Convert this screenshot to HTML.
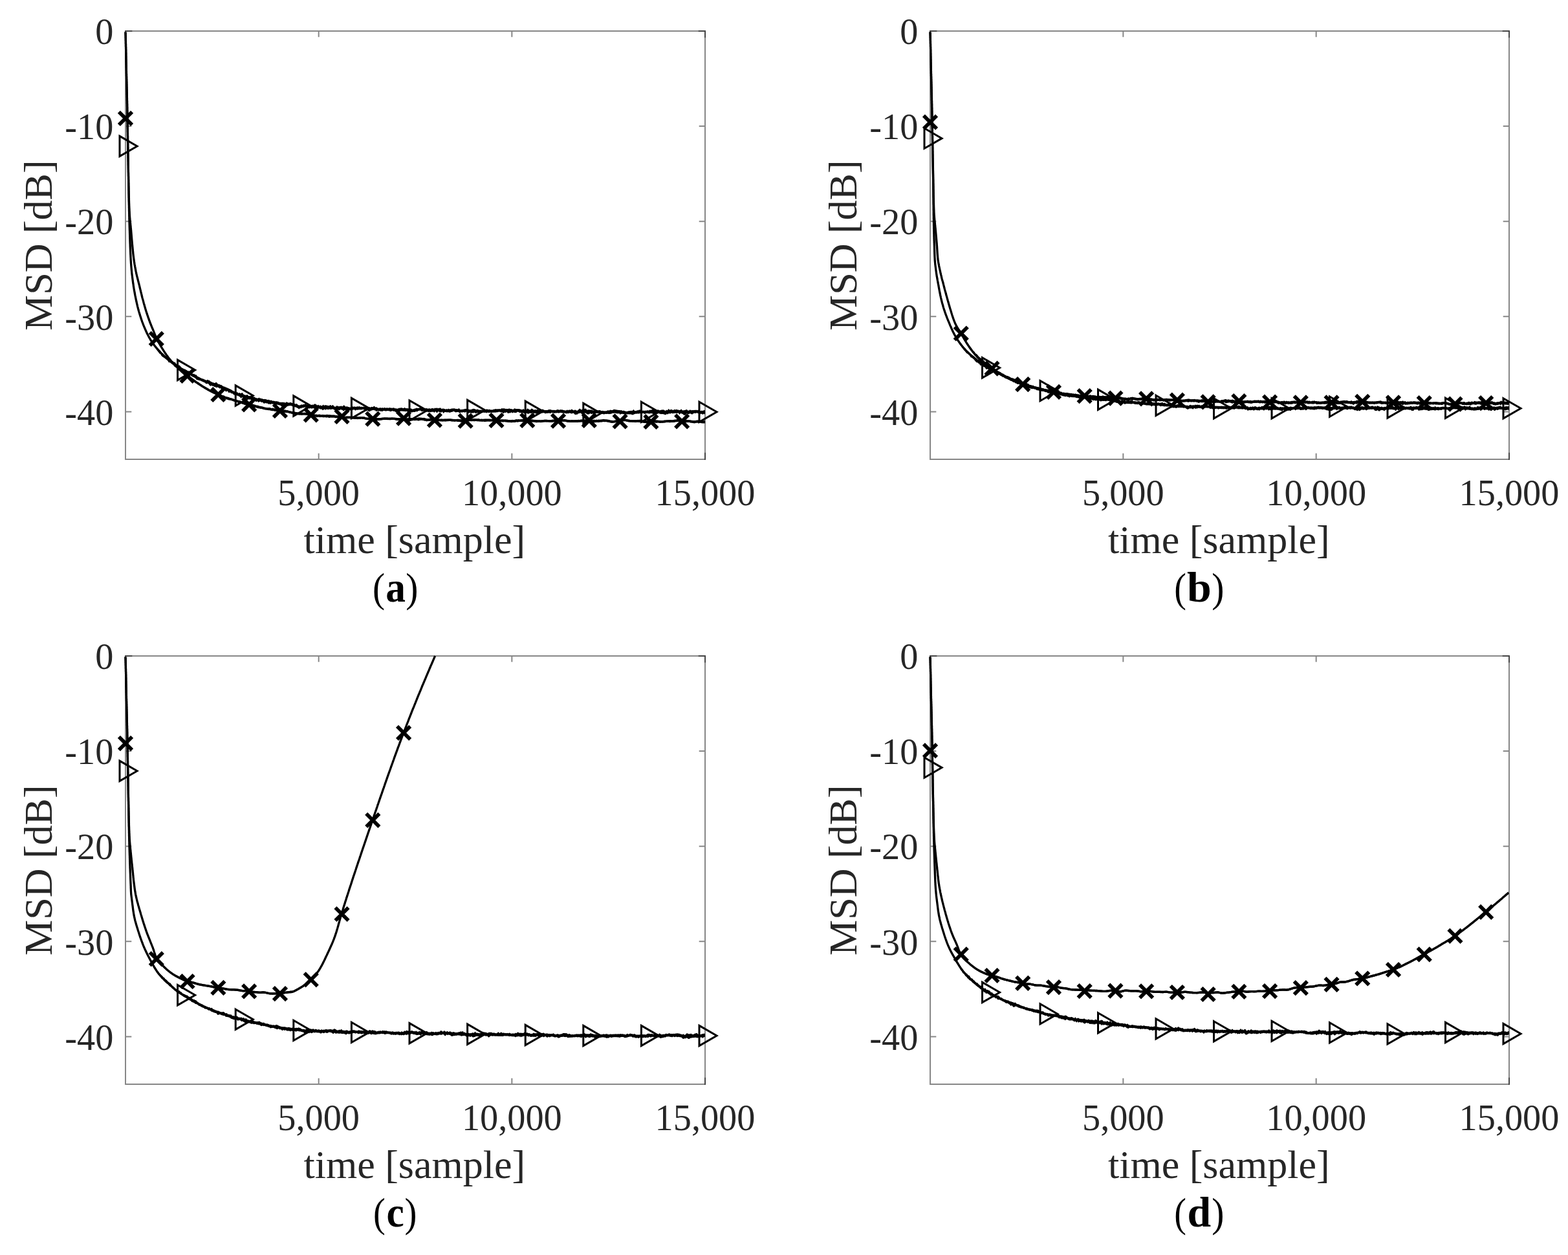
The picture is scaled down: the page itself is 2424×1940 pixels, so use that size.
<!DOCTYPE html>
<html lang="en">
<head>
<meta charset="utf-8">
<title>MSD learning curves (a)-(d)</title>
<style>
html,body{margin:0;padding:0;background:#fff}
body{width:2424px;height:1940px;overflow:hidden}
svg{display:block}
</style>
</head>
<body>
<svg xmlns="http://www.w3.org/2000/svg" width="2424" height="1940" viewBox="0 0 2424 1940">
<defs>
<path id="mx" d="M-10.1,-10.1L10.1,10.1M-10.1,10.1L10.1,-10.1" fill="none" stroke="#000" stroke-width="5.7"/>
<path id="mt" d="M-9,-15.6L18,0L-9,15.6Z" fill="none" stroke="#000" stroke-width="3" stroke-linejoin="miter" stroke-miterlimit="10"/>
</defs>
<rect width="2424" height="1940" fill="#fff"/>
<g class="plot-a">
<g fill="none" stroke="#878787" stroke-width="2" stroke-linecap="square">
<rect x="194" y="48" width="896" height="662"/>
</g>
<path d="M194,195.11h9.3M1090,195.11h-9.3M194,342.22h9.3M1090,342.22h-9.3M194,489.33h9.3M1090,489.33h-9.3M194,636.44h9.3M1090,636.44h-9.3M492.67,710v-9.3M492.67,48v9.3M791.33,710v-9.3M791.33,48v9.3" fill="none" stroke="#878787" stroke-width="2"/>
<path d="M194,48h9.3M1090,48h-9.3M1090,710v-9.3M1090,48v9.3" fill="none" stroke="#444444" stroke-width="2" stroke-linecap="square"/>
<g font-family="'Liberation Serif', 'Times New Roman', serif" font-size="56.3" fill="#262626">
<g text-anchor="end">
<text x="175.4" y="68.2">0</text>
<text x="175.4" y="215.31">-10</text>
<text x="175.4" y="362.42">-20</text>
<text x="175.4" y="509.53">-30</text>
<text x="175.4" y="656.64">-40</text>
</g>
<g text-anchor="middle">
<text x="492.67" y="780.6">5,000</text>
<text x="791.33" y="780.6">10,000</text>
<text x="1090" y="780.6">15,000</text>
</g>
</g>
<g font-family="'Liberation Serif', 'Times New Roman', serif" font-size="62" fill="#262626" text-anchor="middle">
<text x="640.8" y="854.5">time [sample]</text>
<text transform="translate(80,379.2) rotate(-90)">MSD [dB]</text>
</g>
<g font-family="'Liberation Serif', 'Times New Roman', serif" font-size="64" fill="#000">
<text transform="translate(575.98,929.71) scale(0.8943,0.9977)">(</text>
<text transform="translate(596.22,929.57) scale(0.9597,1.0112)" font-weight="bold">a</text>
<text transform="translate(627.24,929.71) scale(0.9004,0.9977)">)</text>
</g>
<g fill="none" stroke="#000" stroke-width="3.3" stroke-linejoin="round" stroke-linecap="butt">
<path d="M194,49.6l0,.8 0,.8 .1,.8 0,.8 0,.8 0,.8 .1,.8 0,.8 0,.8 0,.8 0,.8 .1,.8 0,.8 0,.8 0,.8 0,.8 .1,.8 0,.8 0,.8 0,.8 0,.8 0,.8 .1,.8 0,.8 0,.8 0,.8 0,.8 0,.8 .1,.8 0,.8 0,.8 0,.8 0,.8 .1,.8 0,.8 0,.8 0,.8 0,.8 0,.8 .1,.8 0,.8 0,.8 0,.8 0,.8 0,.8 0,.8 .1,.8 0,.8 0,.8 0,.8 0,.8 0,.8 .1,.8 0,.8 0,.8 0,.8 0,.8 0,.8 .1,.8 0,.8 0,.8 0,.8 0,.8 .1,.8 0,.8 0,.8 0,.8 0,.8 0,.8 .1,.8 0,.8 0,.8 0,.8 0,.8 .1,.8 0,.8 0,.8 0,.8 0,.8 0,.8 .1,.8 0,.8 0,.8 0,.8 0,.8 .1,.8 0,.8 0,.8 0,.8 0,.8 .1,.8 0,.8 0,.8 0,.8 0,.8 .1,.8 0,.8 0,.8 0,.8 0,.8 .1,.8 0,.8 0,.8 0,.8 0,.8 .1,.8 0,.8 0,.8 0,.8 0,.8 .1,.8 0,.8 0,.8 0,.8 0,.8 .1,.8 0,.8 0,.8 0,.8 0,.8 0,.8 .1,.8 0,.8 0,.8 0,.8 0,.8 .1,.8 0,.8 0,.8 0,.8 0,.8 0,.8 .1,.8 0,.8 0,.8 0,.8 0,.8 0,.8 .1,.8 0,.8 0,.8 0,.8 0,.8 0,.8 .1,.8 0,.8 0,.8 0,.8 0,.8 0,.8 0,.8 .1,.8 0,.8 0,.8 0,.8 0,.8 0,.8 .1,.8 0,.8 0,.8 0,.8 0,.8 0,.8 0,.8 .1,.8 0,.8 0,.8 0,.8 0,.8 0,.8 0,.8 .1,.8 0,.8 0,.8 0,.8 0,.8 0,.8 0,.8 .1,.8 0,.8 0,.8 0,.8 0,.8 0,.8 0,.8 0,.8 .1,.8 0,.8 0,.8 0,.8 0,.8 0,.8 0,.8 .1,.8 0,.8 0,.8 0,.8 0,.8 0,.8 0,.8 .1,.8 0,.8 0,.8 0,.8 0,.8 0,.8 0,.8 .1,.8 0,.8 0,.8 0,.8 0,.8 0,.8 0,.8 .1,.8 0,.8 0,.8 0,.8 0,.8 0,.8 0,.8 0,.8 .1,.8 0,.8 0,.8 0,.8 0,.8 0,.8 0,.8 .1,.8 0,.8 0,.8 0,.8 0,.8 0,.8 0,.8 .1,.8 0,.8 0,.8 0,.8 0,.8 0,.8 0,.8 .1,.8 0,.8 0,.8 0,.8 0,.8 0,.8 0,.8 0,.8 .1,.8 0,.8 0,.8 0,.8 0,.8 0,.8 0,.8 .1,.8 0,.8 0,.8 0,.8 0,.8 0,.8 0,.8 0,.8 .1,.8 0,.8 0,.8 0,.8 0,.8 0,.8 .1,.8 0,.8 0,.8 0,.8 0,.8 0,.8 0,.8 .1,.8 0,.8 0,.8 0,.8 0,.8 0,.8 .1,.8 0,.8 0,.8 0,.8 0,.8 .1,.8 0,.8 0,.8 0,.8 0,.8 0,.8 .1,.8 0,.8 0,.8 0,.8 0,.8 .1,.8 0,.8 0,.8 0,.8 0,.8 .1,.8 0,.8 0,.8 0,.8 0,.8 .1,.8 0,.8 0,.8 0,.8 0,.8 .1,.8 0,.8 0,.8 0,.8 .1,.8 0,.8 0,.8 0,.8 0,.8 .1,.8 0,.8 0,.8 0,.8 .1,.8 0,.8 0,.8 .1,.8 0,.8 0,.8 0,.8 .1,.8 0,.8 0,.8 .1,.8 0,.8 0,.8 .1,.8 0,.8 0,.8 .1,.7 0,.8 .1,.8 0,.8 0,.8 .1,.8 0,.8 .1,.8 0,.8 .1,.8 0,.8 .1,.8 .1,.8 0,.8 .1,.8 .1,.8 0,.8 .1,.8 .1,.8 .1,.8 0,.8 .1,.8 .1,.8 .1,.8 .1,.8 .1,.8 0,.8 .1,.8 .1,.8 .1,.8 .1,.8 0,.8 .1,.8 .1,.8 .1,.7 0,.8 .1,.8 .1,.8 .1,.8 0,.8 .1,.8 .1,.8 0,.8 .1,.8 .1,.8 0,.8 .1,.8 .1,.8 0,.8 .1,.8 .1,.8 0,.8 .1,.8 .1,.8 0,.8 .1,.8 .1,.8 0,.8 .1,.8 .1,.8 0,.8 .1,.8 .1,.8 .1,.8 0,.8 .1,.8 .1,.8 .1,.8 0,.7 .1,.8 .1,.8 .1,.8 0,.8 .1,.8 .1,.8 .1,.8 0,.8 .1,.8 .1,.8 .1,.8 .1,.8 0,.8 .1,.8 .1,.8 .1,.8 .1,.8 .1,.8 .1,.8 .1,.8 .1,.8 .1,.8 .1,.7 .1,.8 .1,.8 .1,.8 .1,.8 .1,.8 .1,.8 .1,.8 .1,.8 .2,.8 .1,.8 .1,.8 .1,.7 .2,.8 .1,.8 .1,.8 .2,.8 .1,.8 .2,.8 .1,.8 .2,.8 .1,.7 .2,.8 .1,.8 .2,.8 .1,.8 .2,.8 .1,.7 .2,.8 .2,.8 .1,.8 .2,.8 .2,.8 .2,.7 .1,.8 .2,.8 .2,.8 .2,.7 .2,.8 .2,.8 .2,.8 .2,.7 .2,.8 .2,.8 .2,.8 .2,.7 .2,.8 .2,.8 .2,.8 .2,.7 .2,.8 .2,.8 .2,.8 .2,.8 .2,.7 .2,.8 .2,.8 .1,.8 .2,.7 .2,.8 .2,.8 .2,.8 .2,.8 .2,.7 .1,.8 .2,.8 .2,.8 .2,.7 .2,.8 .2,.8 .2,.8 .2,.8 .2,.7 .2,.8 .1,.8 .2,.8 .2,.7 .2,.8 .2,.8 .2,.8 .2,.7 .3,.8 .2,.8 .2,.7 .2,.8 .2,.8 .2,.8 .2,.7 .2,.8 .2,.8 .2,.8 .2,.7 .2,.8 .3,.8 .2,.7 .2,.8 .2,.8 .2,.7 .3,.8 .2,.8 .2,.8 .2,.7 .3,.8 .2,.7 .2,.8 .3,.8 .2,.7 .3,.8 .2,.8 .2,.7 .3,.8 .2,.7 .3,.8 .2,.8 .3,.7 .3,.8 .2,.7 .3,.8 .2,.8 .3,.7 .3,.8 .2,.7 .3,.8 .3,.7 .2,.8 .3,.7 .3,.8 .3,.7 .2,.8 .3,.7 .3,.8 .3,.7 .3,.8 .3,.7 .3,.8 .3,.7 .3,.7 .3,.8 .3,.7 .3,.7 .3,.8 .3,.7 .4,.8 .3,.7 .3,.7 .3,.8 .3,.7 .3,.7 .3,.8 .3,.7 .3,.8 .3,.7 .3,.8 .3,.7 .3,.8 .3,.7 .3,.7 .3,.8 .3,.7 .3,.8 .3,.7 .4,.7 .3,.7 .3,.7 .4,.8 .4,.7 .3,.7 .4,.7 .4,.7 .3,.7 .4,.7 .4,.7 .4,.7 .4,.7 .4,.7 .4,.7 .4,.7 .4,.7 .4,.7 .4,.7 .4,.7 .4,.7 .4,.7 .5,.6 .4,.7 .4,.7 .4,.7 .5,.6 .4,.7 .4,.7 .5,.7 .4,.6 .4,.7 .5,.7 .4,.6 .5,.7 .4,.7 .5,.6 .4,.7 .5,.7 .4,.6 .5,.7 .5,.6 .5,.7 .4,.6 .5,.7 .5,.6 .5,.7 .5,.6 .5,.6 .5,.6 .5,.7 .5,.6 .5,.6 .5,.6 .5,.6 .5,.6 .6,.6 .5,.6 .5,.5 .6,.6 .5,.6 .6,.6 .5,.6 .6,.5 .5,.6 .6,.6 .6,.5 .6,.6 .5,.6 .6,.5 .6,.6 .6,.5 .6,.6 .6,.6 .6,.5 .6,.6 .6,.5 .6,.5 .6,.6 .6,.5 .6,.5 .6,.6 .6,.5 .6,.5 .6,.5 .7,.5 .6,.5 .6,.5 .6,.5 .7,.5 .6,.5 .6,.5 .6,.5 .7,.5 .6,.5 .6,.5 .7,.4 .6,.5 .6,.5 .7,.5 .6,.4 .6,.5 .7,.5 .6,.4 .7,.5 .6,.4 .7,.5 .6,.4 .7,.5 .6,.5 .7,.4 .7,.5 .6,.4 .7,.5 .6,.4 .7,.5 .7,.5 .6,.4 .7,.5 .7,.4 .7,.5 .6,.4 .7,.5 .7,.4 .7,.4 .6,.5 .7,.4 .7,.5 .7,.4 .7,.4 .7,.5 .6,.4 .7,.4 .7,.5 .7,.4 .7,.4 .7,.5 .7,.4 .7,.4 .7,.4 .7,.4 .7,.4 .7,.4 .7,.4 .7,.4 .7,.4 .7,.4 .7,.4 .7,.4 .7,.3 .7,.4 .8,.4 .7,.4 .7,.3 .7,.4 .7,.3 .7,.3 .7,.3 .7,.3 .8,.3 .7,.3 .7,.3 .7,.4 .7,.3 .8,.3 .7,.3 .7,.4 .7,.3 .8,.4 .7,.3 .7,.3 .7,.4 .8,.3 .7,.3 .8,.3 .7,.3 .7,.3 .8,.3 .7,.3 .8,.3 .7,.2 .8,.3 .7,.2 .8,.3 .7,.2 .8,.2 .7,.2 .8,.3 .8,.2 .7,.2 .8,.2 .7,.2 .8,.2 .8,.3 .7,.2 .8,.3 .8,.2 .7,.3 .8,.2 .8,.3 .7,.2 .8,.2 .8,.3 .8,.2 .7,.2 .8,.3 .8,.2 .8,.2 .7,.2 .8,.3 .8,.2 .8,.3 .7,.2 .8,.3 .8,.2 .8,.2 .7,.3 .8,.2 .8,.2 .8,.2 .7,.2 .8,.2 .8,.3 .8,.2 .7,.2 .8,.1 .8,.2 .8,.2 .7,.2 .8,.2 .8,.2 .8,.1 .7,.2 .8,.2 .8,.2 .8,.2 .7,.3 .8,.2 .8,.2 .8,.3 .8,.3 .7,.2 .8,.2 .8,.2 .8,.2 .8,.2 .7,.1 .8,.2 .8,.1 .8,.2 .8,.1 .8,.2 .7,.2 .8,.1 .8,.2 .8,.2 .8,.2 .8,.3 .8,.2 .7,.1 .8,.2 .8,.1 .8,.1 .8,.1 .8,.1 .8,.1 .7,.1 .8,0 .8,.1 .8,.1 .8,.1 .8,.1 .8,.1 .8,.1 .8,.1 .7,.2 .8,.1 .8,.1 .8,.1 .8,.2 .8,.1 .8,.1 .8,.2 .8,.1 .7,.2 .8,.1 .8,.1 .8,.1 .8,.1 .8,.1 .8,.2 .8,.1 .8,.1 .7,.1 .8,.1 .8,.1 .8,.1 .8,0 .8,.1 .8,0 .8,.1 .8,.1 .8,.1 .7,.1 .8,.2 .8,.1 .8,.2 .8,.2 .8,.3 .8,.2 .8,.2 .8,.2 .8,.1 .8,.1 .8,.1 .8,.1 .7,.2 .8,.1 .8,.1 .8,.2 .8,.1 .8,.2 .8,.2 .8,.1 .8,.1 .8,.1 .8,.1 .8,0 .8,0 .8,0 .8,0 .8,-.1 .7,0 .8,0 .8,.1 .8,0 .8,.1 .8,0 .8,0 .8,.1 .8,0 .8,.1 .8,.1 .8,0 .8,.1 .8,.1 .8,.2 .8,.1 .8,.2 .8,.2 .8,.3 .8,.2 .8,.2 .8,.3 .7,.1 .8,.2 .8,.1 .8,.1 .8,.1 .8,.1 .8,0 .8,.1 .8,0 .8,0 .8,-.1 .8,.1 .8,0 .8,0 .8,0 .8,.1 .8,0 .8,.1 .8,0 .8,.1 .8,0 .8,0 .8,.1 .8,0 .8,.1 .8,0 .8,.1 .8,.1 .8,0 .8,0 .8,0 .8,0 .8,0 .8,0 .8,0 .8,.1 .8,0 .8,0 .8,.1 .8,0 .8,.1 .8,.1 .8,0 .8,.1 .8,.1 .8,.1 .8,.1 .8,0 .8,.1 .8,.1 .8,.2 .8,.1 .8,.2 .8,.2 .8,.1 .8,.2 .8,.1 .8,.1 .8,0 .8,.1 .8,-.1 .8,0 .8,0 .8,-.1 .7,-.1 .8,0 .8,0 .8,-.1 .8,0 .8,0 .8,0 .8,.1 .8,0 .8,0 .8,.1 .8,0 .8,.1 .8,.1 .8,.1 .8,0 .8,.1 .8,.1 .8,0 .8,.1 .8,0 .8,0 .8,0 .8,0 .8,-.1 .8,-.1 .8,0 .8,-.1 .8,-.1 .8,0 .8,0 .8,.1 .8,.1 .8,.1 .8,.2 .8,.2 .8,.2 .8,.2 .8,.2 .8,.2 .8,.1 .8,.1 .8,0 .8,0 .8,0 .8,-.1 .8,0 .8,-.1 .8,-.1 .8,0 .8,0 .8,.1 .8,.1 .8,.1 .8,.1 .8,.1 .8,.1 .8,.2 .8,.1 .8,.1 .8,0 .8,0 .8,0 .8,0 .8,-.1 .8,-.1 .8,-.1 .8,-.1 .8,-.1 .8,-.1 .8,-.1 .8,-.1 .8,-.1 .8,-.1 .8,0 .8,0 .8,0 .8,.1 .8,0 .8,.1 .8,0 .8,0 .8,.1 .8,0 .8,0 .8,-.1 .8,0 .8,0 .8,0 .8,-.1 .8,0 .8,.1 .8,0 .8,.1 .8,.1 .8,.1 .8,.1 .8,.1 .8,0 .8,.1 .8,.1 .8,.1 .8,0 .8,0 .8,0 .8,0 .8,0 .8,0 .8,0 .8,0 .8,0 .8,0 .8,0 .8,.1 .8,0 .8,.1 .8,0 .8,.1 .8,0 .8,.1 .8,0 .8,0 .8,0 .8,0 .8,0 .8,-.1 .8,0 .8,-.1 .8,-.1 .8,-.1 .8,0 .8,-.1 .8,0 .8,-.1 .8,0 .8,0 .8,0 .8,0 .8,0 .8,0 .8,-.1 .8,0 .8,0 .8,0 .8,0 .8,0 .8,0 .8,.1 .8,0 .8,.2 .8,.1 .8,.1 .8,.2 .8,.2 .8,.1 .8,.1 .8,.1 .8,0 .8,0 .8,0 .8,-.1 .8,0 .8,-.1 .8,-.2 .8,-.1 .8,0 .8,-.1 .8,0 .8,0 .8,0 .8,0 .8,.1 .8,.1 .8,.1 .8,.1 .8,.1 .8,.1 .8,.2 .8,.1 .8,.1 .8,0 .8,.1 .8,0 .8,0 .8,0 .8,0 .8,0 .8,0 .8,0 .8,0 .8,0 .8,0 .8,-.1 .8,0 .8,0 .8,-.1 .8,-.1 .8,0 .8,-.1 .8,0 .8,.1 .8,0 .8,.1 .8,.1 .8,.1 .8,.1 .8,0 .8,.1 .8,0 .8,.1 .8,0 .8,-.1 .8,0 .8,0 .8,0 .8,0 .8,0 .8,.1 .8,.1 .8,.1 .8,.1 .8,.2 .8,.1 .8,.1 .8,.1 .8,.1 .8,0 .8,0 .8,0 .8,-.1 .8,-.2 .8,-.2 .8,-.2 .8,-.1 .8,-.2 .8,-.1 .8,-.1 .8,-.1 .8,-.1 .8,0 .8,0 .8,0 .8,0 .8,0 .8,0 .8,0 .8,-.1 .8,0 .8,0 .8,0 .8,-.1 .8,.1 .8,0 .8,0 .8,.1 .8,0 .8,.1 .8,.1 .8,.1 .8,.1 .8,0 .8,.1 .8,0 .8,0 .8,-.1 .8,0 .8,0 .8,-.1 .8,0 .8,-.1 .8,0 .8,0 .8,0 .8,0 .8,0 .8,0 .8,0 .8,.1 .8,0 .8,0 .8,0 .8,0 .8,0 .8,.1 .8,0 .8,.1 .8,0 .8,.1 .8,.1 .8,.1 .8,0 .8,.1 .8,.1 .8,0 .8,.1 .8,0 .8,0 .8,0 .8,0 .8,0 .8,0 .8,-.1 .8,0 .8,0 .8,0 .8,0 .8,0 .8,.1 .8,.1 .8,.1 .8,0 .8,.1 .8,.1 .8,0 .8,.1 .8,.1 .8,0 .8,.1 .8,0 .8,0 .8,-.1 .8,0 .8,0 .8,-.1 .8,-.1 .8,-.1 .8,-.1 .8,-.1 .8,-.1 .8,0 .8,-.1 .8,0 .8,0 .8,0 .8,0 .8,-.1 .8,0 .8,-.1 .8,0 .8,-.1 .8,-.1 .8,0 .8,-.1 .8,0 .8,0 .8,0 .8,.1 .8,.1 .8,.1 .8,.1 .8,.1 .8,.1 .8,.1 .8,.1 .8,0 .8,0 .8,0 .8,0 .8,0 .8,0 .8,0 .8,0 .8,.1 .8,0 .8,.1 .8,.1 .8,.1 .8,0 .8,.1 .8,0 .8,.1 .8,0 .8,0 .8,0 .8,0 .8,0 .8,0 .8,-.1 .8,-.1 .8,-.1 .8,-.1 .8,-.1 .8,0 .8,-.1 .8,0 .8,-.1 .8,0 .8,.1 .8,0 .8,.1 .8,0 .8,.1 .8,0 .8,.1 .8,0 .8,0 .8,0 .8,-.1 .8,0 .8,-.1 .8,-.1 .8,-.1 .8,-.1 .8,0 .8,-.1 .8,0 .8,-.1 .8,0 .8,0 .8,0 .8,0 .8,-.1 .8,0 .8,0 .8,0 .8,-.1 .8,-.1 .8,0 .8,-.1 .8,0 .8,0 .8,.1 .8,.1 .8,.1 .8,.1 .8,.1 .8,.2 .8,.1 .8,.2 .8,.1 .8,.1 .8,.1 .8,0 .8,.1 .8,0 .8,0 .8,-.1 .8,0 .8,0 .8,-.1 .8,0 .8,0 .8,0 .8,0 .8,0 .8,0 .8,0 .8,0 .8,-.1 .8,0 .8,-.1 .8,-.1 .8,-.1 .8,-.1 .8,-.1 .8,-.1 .8,0 .8,-.1 .8,0 .8,.1 .8,0 .8,.1 .8,0 .8,.1 .8,.1 .8,.1 .8,.2 .8,.1 .8,.1 .8,.1 .8,0 .8,.1 .8,0 .8,0 .8,-.1 .8,0 .8,-.1 .8,-.1 .8,-.1 .8,0 .8,0 .8,0 .8,0 .8,0 .8,-.1 .8,0 .8,0 .8,0 .8,0 .8,-.1 .8,0 .8,-.1 .8,-.1 .8,-.1 .8,-.1 .8,0 .8,-.1 .8,0 .8,0 .8,0 .8,0 .8,0 .8,.1 .8,.1 .8,.1 .8,.1 .8,.1 .8,.2 .8,.2 .8,.2 .8,.1 .8,.2 .8,.1 .8,.1 .8,0 .8,0 .8,0 .8,-.1 .8,-.1 .8,-.1 .8,-.1 .8,-.1 .8,-.2 .8,-.1 .8,-.1 .8,-.1 .8,-.1 .8,-.1 .8,-.1 .8,-.2 .8,-.2 .8,-.1 .8,-.2 .8,-.1 .8,-.2 .8,-.1 .8,-.1 .8,0 .8,0 .8,.1 .8,.1 .8,.2 .8,.2 .8,.2 .8,.2 .8,.1 .8,.2 .8,.1 .8,0 .8,.1 .8,0 .8,0 .8,0 .8,0 .8,0 .8,.1 .8,0 .8,0 .8,0 .8,0 .8,0 .8,-.1 .8,0 .8,0 .8,0 .8,0 .8,0 .8,0 .8,0 .8,.2 .8,.1 .8,.2 .8,.2 .8,.2 .8,.1 .8,.2 .8,.1 .8,.1 .8,.1 .8,.1 .8,0 .8,0 .8,0 .8,0 .8,-.1 .8,-.1 .8,-.1 .8,-.1 .8,-.1 .8,-.1 .8,-.1 .8,-.1 .8,-.1 .8,0 .8,-.1 .8,0 .8,0 .8,0 .8,0 .8,0 .8,.1 .8,0 .8,.1 .8,0 .8,.1 .8,.1 .8,0 .8,.1 .8,0 .8,0 .8,0 .8,0 .8,-.1 .8,-.1 .8,-.1 .8,-.1 .8,-.1 .8,-.1 .8,-.1 .8,0 .8,-.1 .8,0 .8,0 .8,0 .8,0 .8,0 .8,0 .8,0 .8,0 .8,0 .8,0 .8,-.1 .8,-.1 .8,-.1 .8,-.1 .8,-.1 .8,-.1 .8,-.1 .8,-.1 .8,-.1 .8,-.1 .8,0 .8,0 .8,0 .8,0 .8,.1 .8,.1 .8,.1 .8,.1 .8,.1 .8,.2 .8,.1 .8,.1 .8,.1 .8,.1 .8,0 .8,0 .8,0 .8,0 .8,0 .8,-.1 .8,0 .8,.1 .8,0 .8,.2 .8,.1 .8,.1 .8,.2 .8,.1 .8,.1 .8,.1 .8,0 .8,0 .8,-.1 .8,-.1 .8,-.1 .8,-.1 .8,-.1 .8,0 .8,-.1 .8,0 .8,.1 .8,.1 .8,.1 .8,.1 .8,.1 .8,.2 .8,.1 .8,0 .8,0 .8,0 .8,0 .8,-.1 .8,-.1"/>
<path d="M194,49.6l0,.8 0,.8 .1,.8 0,.8 0,.8 0,.8 .1,.8 0,.8 0,.8 0,.8 0,.8 .1,.8 0,.8 0,.8 0,.8 0,.8 .1,.8 0,.8 0,.8 0,.8 0,.8 0,.8 .1,.8 0,.8 0,.8 0,.8 0,.8 0,.8 .1,.8 0,.8 0,.8 0,.8 0,.8 .1,.8 0,.8 0,.8 0,.8 0,.8 0,.8 .1,.8 0,.8 0,.8 0,.8 0,.8 0,.8 0,.8 .1,.8 0,.8 0,.8 0,.8 0,.8 0,.8 .1,.8 0,.8 0,.8 0,.8 0,.8 0,.8 .1,.8 0,.8 0,.8 0,.8 0,.8 .1,.8 0,.8 0,.8 0,.8 0,.8 0,.8 .1,.8 0,.8 0,.8 0,.8 0,.8 .1,.8 0,.8 0,.8 0,.8 0,.8 0,.8 .1,.8 0,.8 0,.8 0,.8 0,.8 .1,.8 0,.8 0,.8 0,.8 0,.8 .1,.8 0,.8 0,.8 0,.8 0,.8 .1,.8 0,.8 0,.8 0,.8 0,.8 .1,.8 0,.8 0,.8 0,.8 0,.8 .1,.8 0,.8 0,.8 0,.8 0,.8 .1,.8 0,.8 0,.8 0,.8 0,.8 .1,.8 0,.8 0,.8 0,.8 0,.8 0,.8 .1,.8 0,.8 0,.8 0,.8 0,.8 .1,.8 0,.8 0,.8 0,.8 0,.8 0,.8 .1,.8 0,.8 0,.8 0,.8 0,.8 0,.8 .1,.8 0,.8 0,.8 0,.8 0,.8 0,.8 .1,.8 0,.8 0,.8 0,.8 0,.8 0,.8 0,.8 .1,.8 0,.8 0,.8 0,.8 0,.8 0,.8 .1,.8 0,.8 0,.8 0,.8 0,.8 0,.8 0,.8 .1,.8 0,.8 0,.8 0,.8 0,.8 0,.8 0,.8 .1,.8 0,.8 0,.8 0,.8 0,.8 0,.8 0,.8 .1,.8 0,.8 0,.8 0,.8 0,.8 0,.8 0,.8 0,.8 .1,.8 0,.8 0,.8 0,.8 0,.8 0,.8 0,.8 .1,.8 0,.8 0,.8 0,.8 0,.8 0,.8 0,.8 .1,.8 0,.8 0,.8 0,.8 0,.8 0,.8 0,.8 .1,.8 0,.8 0,.8 0,.8 0,.8 0,.8 0,.8 .1,.8 0,.8 0,.8 0,.8 0,.8 0,.8 0,.8 0,.8 .1,.8 0,.8 0,.8 0,.8 0,.8 0,.8 .1,.8 0,.8 0,.8 0,.8 0,.8 0,.8 0,.8 .1,.8 0,.8 0,.8 0,.8 0,.8 0,.8 0,.8 .1,.8 0,.8 0,.8 0,.8 0,.8 0,.8 0,.8 .1,.8 0,.8 0,.8 0,.8 0,.8 0,.8 0,.8 .1,.8 0,.8 0,.8 0,.8 0,.8 0,.8 0,.8 .1,.8 0,.8 0,.8 0,.8 0,.8 0,.8 0,.8 .1,.8 0,.8 0,.8 0,.8 0,.8 0,.8 0,.8 .1,.8 0,.8 0,.8 0,.8 0,.8 0,.8 0,.8 .1,.8 0,.8 0,.8 0,.8 0,.8 0,.8 0,.8 .1,.8 0,.8 0,.8 0,.8 0,.8 0,.8 0,.8 .1,.8 0,.8 0,.8 0,.8 0,.8 0,.8 0,.8 0,.8 .1,.8 0,.8 0,.8 0,.8 0,.8 0,.8 0,.8 .1,.8 0,.8 0,.8 0,.8 0,.8 0,.8 0,.8 .1,.8 0,.8 0,.8 0,.8 0,.8 0,.8 0,.8 .1,.8 0,.8 0,.8 0,.8 0,.8 0,.8 0,.8 .1,.8 0,.8 0,.8 0,.8 0,.8 0,.8 .1,.8 0,.8 0,.8 0,.8 0,.8 0,.8 .1,.8 0,.8 0,.8 0,.8 0,.8 .1,.8 0,.8 0,.8 0,.8 0,.8 .1,.8 0,.8 0,.8 0,.8 0,.8 .1,.8 0,.8 0,.8 0,.8 .1,.8 0,.8 0,.8 0,.8 .1,.8 0,.8 0,.8 0,.8 .1,.8 0,.8 0,.8 0,.8 .1,.8 0,.8 0,.8 0,.8 .1,.8 0,.8 0,.8 .1,.8 0,.8 0,.8 0,.8 .1,.8 0,.8 0,.8 0,.8 .1,.8 0,.8 0,.8 0,.8 .1,.8 0,.8 0,.8 0,.8 .1,.8 0,.8 0,.8 0,.8 .1,.8 0,.8 0,.8 .1,.8 0,.8 0,.8 .1,.8 0,.8 0,.8 0,.8 .1,.8 0,.8 0,.8 .1,.8 0,.8 0,.8 .1,.8 0,.8 0,.8 .1,.8 0,.8 0,.8 .1,.8 0,.8 0,.8 .1,.8 0,.8 .1,.8 0,.8 0,.8 .1,.8 0,.8 .1,.8 0,.8 0,.8 .1,.8 0,.8 .1,.8 0,.8 .1,.8 0,.8 .1,.8 0,.8 .1,.8 .1,.8 0,.8 .1,.8 0,.8 .1,.8 .1,.8 0,.8 .1,.8 .1,.8 0,.8 .1,.8 .1,.7 0,.8 .1,.8 .1,.8 .1,.8 0,.8 .1,.8 .1,.8 .1,.8 .1,.8 .1,.8 .1,.8 .1,.8 .1,.8 .1,.8 .1,.8 .1,.8 .1,.8 .1,.8 .1,.8 .1,.7 .1,.8 .1,.8 .1,.8 .1,.8 .1,.8 .1,.8 .2,.8 .1,.8 .1,.8 .1,.8 .1,.8 .1,.8 .2,.7 .1,.8 .1,.8 .2,.8 .1,.8 .1,.8 .1,.8 .2,.8 .1,.8 .2,.7 .1,.8 .1,.8 .2,.8 .1,.8 .2,.8 .1,.8 .2,.8 .1,.7 .2,.8 .1,.8 .2,.8 .2,.8 .1,.8 .2,.7 .1,.8 .2,.8 .2,.8 .1,.8 .2,.8 .2,.7 .2,.8 .1,.8 .2,.8 .2,.8 .2,.8 .2,.7 .1,.8 .2,.8 .2,.8 .2,.7 .2,.8 .2,.8 .2,.8 .2,.7 .2,.8 .2,.8 .2,.8 .2,.7 .3,.8 .2,.8 .2,.7 .2,.8 .3,.8 .2,.7 .2,.8 .3,.8 .2,.7 .2,.8 .3,.8 .2,.7 .3,.8 .2,.7 .3,.8 .2,.8 .3,.7 .3,.8 .2,.7 .3,.8 .3,.8 .2,.7 .3,.8 .3,.7 .3,.8 .3,.7 .2,.8 .3,.7 .3,.7 .3,.8 .3,.7 .3,.8 .3,.7 .3,.7 .3,.8 .3,.7 .3,.8 .4,.7 .3,.7 .3,.8 .3,.7 .4,.7 .3,.8 .3,.7 .4,.7 .3,.8 .4,.7 .3,.7 .4,.7 .4,.7 .3,.7 .4,.7 .4,.8 .4,.7 .3,.7 .4,.6 .4,.7 .4,.7 .4,.7 .4,.7 .4,.7 .5,.6 .4,.7 .4,.7 .5,.6 .4,.7 .5,.7 .4,.6 .5,.7 .5,.7 .4,.6 .5,.7 .5,.6 .5,.7 .5,.6 .5,.6 .5,.7 .5,.6 .5,.6 .5,.6 .5,.7 .5,.6 .5,.6 .5,.6 .6,.6 .5,.6 .5,.6 .6,.6 .5,.6 .5,.5 .6,.6 .5,.6 .6,.5 .5,.6 .6,.6 .6,.5 .6,.6 .5,.5 .6,.6 .6,.5 .6,.6 .6,.5 .6,.6 .6,.5 .6,.6 .6,.5 .6,.5 .6,.5 .7,.6 .6,.5 .6,.5 .6,.5 .6,.5 .6,.5 .7,.5 .6,.5 .6,.5 .6,.5 .7,.5 .6,.5 .7,.5 .6,.4 .6,.5 .7,.5 .7,.4 .6,.5 .7,.5 .6,.4 .7,.5 .7,.4 .6,.5 .7,.4 .7,.5 .6,.4 .7,.5 .7,.4 .6,.5 .7,.4 .7,.5 .7,.4 .6,.4 .7,.5 .7,.4 .7,.4 .7,.4 .7,.4 .7,.3 .6,.4 .7,.4 .7,.3 .7,.4 .7,.4 .7,.3 .7,.4 .7,.4 .7,.4 .7,.4 .7,.4 .7,.4 .7,.4 .7,.4 .7,.4 .7,.4 .7,.4 .7,.4 .7,.4 .7,.4 .7,.4 .7,.4 .7,.4 .7,.4 .8,.4 .7,.4 .7,.4 .7,.3 .7,.4 .7,.4 .7,.4 .7,.3 .8,.4 .7,.4 .7,.3 .7,.4 .7,.3 .8,.4 .7,.3 .7,.4 .7,.3 .8,.3 .7,.3 .7,.3 .7,.3 .8,.3 .7,.3 .7,.2 .8,.3 .7,.2 .8,.2 .7,.3 .7,.3 .8,.2 .8,.3 .7,.3 .8,.3 .7,.3 .8,.3 .8,.3 .7,.3 .8,.3 .7,.3 .8,.2 .8,.3 .7,.3 .8,.3 .8,.2 .7,.3 .8,.2 .8,.2 .7,.2 .8,.2 .7,.3 .8,.2 .8,.2 .7,.2 .8,.3 .7,.3 .7,.3 .8,.3 .7,.3 .8,.3 .7,.3 .7,.3 .8,.4 .7,.3 .7,.3 .8,.3 .7,.4 .7,.3 .7,.4 .8,.3 .7,.4 .7,.3 .8,.4 .7,.3 .7,.4 .7,.3 .8,.3 .7,.4 .7,.3 .7,.4 .8,.3 .7,.3 .7,.3 .8,.4 .7,.3 .7,.3 .8,.4 .7,.3 .7,.3 .8,.3 .7,.3 .7,.3 .8,.3 .7,.2 .8,.3 .7,.3 .8,.2 .7,.2 .8,.3 .7,.2 .8,.2 .8,.2 .7,.2 .8,.3 .7,.1 .8,.2 .8,.2 .7,.2 .8,.2 .8,.2 .8,.2 .7,.3 .8,.2 .8,.2 .8,.2 .7,.3 .8,.2 .8,.2 .8,.1 .8,.2 .7,.2 .8,.1 .8,.2 .8,.2 .8,.2 .8,.3 .7,.2 .8,.3 .8,.2 .8,.3 .8,.2 .8,.2 .8,.2 .8,.1 .7,.1 .8,.1 .8,0 .8,.1 .8,0 .8,.1 .8,.1 .8,.1 .8,.1 .8,.2 .7,.2 .8,.2 .8,.2 .8,.2 .8,.2 .8,.2 .8,.3 .8,.2 .7,.2 .8,.2 .8,.2 .8,.1 .8,.1 .8,.1 .8,.1 .8,.1 .8,0 .7,0 .8,.1 .8,0 .8,.1 .8,.1 .8,.1 .8,.2 .8,.1 .8,.2 .7,.2 .8,.2 .8,.2 .8,.2 .8,.1 .8,.2 .8,.1 .8,.2 .8,.1 .8,.1 .8,.1 .8,.1 .7,0 .8,.1 .8,0 .8,0 .8,0 .8,0 .8,0 .8,-.1 .8,0 .8,.1 .8,0 .8,0 .8,0 .8,.1 .8,0 .8,.1 .7,.1 .8,.1 .8,.2 .8,.2 .8,.3 .8,.2 .8,.3 .8,.3 .8,.4 .8,.3 .8,.3 .8,.3 .8,.3 .8,.2 .8,.1 .8,.1 .8,0 .8,-.1 .8,-.1 .8,-.2 .7,-.2 .8,-.2 .8,-.3 .8,-.1 .8,-.2 .8,-.1 .8,0 .8,.1 .8,.1 .8,.2 .8,.1 .8,.3 .8,.2 .8,.2 .8,.2 .8,.1 .8,.1 .8,.1 .8,0 .8,0 .8,0 .8,0 .8,0 .8,-.1 .8,0 .8,0 .8,-.1 .8,0 .8,0 .8,0 .8,.1 .8,.1 .8,.2 .8,.1 .8,.2 .8,.1 .8,.2 .8,.2 .8,.1 .8,0 .8,0 .8,0 .8,-.1 .8,0 .8,-.1 .8,-.1 .8,0 .8,0 .8,0 .8,0 .8,.1 .8,0 .8,0 .8,0 .8,0 .8,0 .8,.1 .8,0 .8,.1 .8,.1 .8,.1 .8,.2 .8,.2 .8,.2 .8,.1 .8,.1 .8,0 .8,0 .8,0 .8,-.1 .8,-.1 .8,-.2 .8,-.1 .8,-.1 .8,0 .8,0 .8,0 .8,.1 .8,.1 .8,.1 .8,.2 .8,.1 .8,.2 .8,.1 .8,.2 .8,.1 .8,.2 .8,.1 .8,.1 .8,.1 .8,.1 .8,0 .8,0 .8,-.1 .8,-.1 .8,-.2 .8,-.1 .8,-.2 .8,-.2 .8,-.1 .8,-.1 .8,0 .8,-.1 .8,0 .8,0 .8,0 .8,.1 .8,0 .8,.1 .8,0 .8,.1 .8,0 .8,0 .8,-.1 .8,0 .8,-.1 .8,-.1 .8,0 .8,0 .8,0 .8,0 .8,0 .8,.1 .8,.1 .8,.1 .8,.1 .8,.2 .8,.1 .8,.1 .8,.1 .8,0 .8,0 .8,0 .8,-.1 .8,-.1 .8,-.1 .8,0 .8,-.1 .8,0 .8,0 .8,.1 .8,.1 .8,.1 .8,.2 .8,.2 .8,.2 .8,.2 .8,.1 .8,.1 .8,.1 .8,0 .8,.1 .8,0 .8,-.1 .8,0 .8,0 .8,-.1 .8,0 .8,-.1 .8,0 .8,.1 .8,0 .8,0 .8,.1 .8,0 .8,0 .8,0 .8,-.1 .8,0 .8,0 .8,0 .8,0 .8,0 .8,0 .8,.1 .8,.1 .8,.1 .8,.2 .8,.1 .8,.2 .8,.2 .8,.1 .8,.1 .8,.1 .8,-.1 .8,0 .8,-.2 .8,-.1 .8,-.2 .8,-.2 .8,-.1 .8,-.1 .8,-.1 .8,0 .8,.1 .8,0 .8,.1 .8,.1 .8,.1 .8,0 .8,.1 .8,.1 .8,0 .8,.1 .8,0 .8,.1 .8,.1 .8,.1 .8,.1 .8,.1 .8,.1 .8,.1 .8,.1 .8,.1 .8,.1 .8,0 .8,0 .8,-.1 .8,-.1 .8,-.2 .8,-.2 .8,-.2 .8,-.2 .8,-.3 .8,-.2 .8,-.3 .8,-.1 .8,-.1 .8,-.1 .8,0 .8,.1 .8,.1 .8,.1 .8,.2 .8,.2 .8,.1 .8,.2 .8,.1 .8,.1 .8,.1 .8,.1 .8,.1 .8,.1 .8,0 .8,.1 .8,.1 .8,0 .8,0 .8,0 .8,0 .8,0 .8,-.1 .8,0 .8,-.1 .8,-.1 .8,-.1 .8,-.1 .8,0 .8,-.1 .8,0 .8,-.1 .8,0 .8,0 .8,0 .8,.1 .8,0 .8,0 .8,.1 .8,.1 .8,.1 .8,.1 .8,0 .8,.1 .8,.1 .8,.1 .8,.1 .8,.1 .8,.1 .8,.1 .8,.1 .8,0 .8,0 .8,0 .8,-.1 .8,0 .8,-.1 .8,-.1 .8,-.2 .8,-.2 .8,-.2 .8,-.2 .8,-.1 .8,-.1 .8,0 .8,0 .8,0 .8,.1 .8,.2 .8,.1 .8,.2 .8,.1 .8,.2 .8,.2 .8,.2 .8,.1 .8,.2 .8,0 .8,0 .8,0 .8,0 .8,-.1 .8,-.1 .8,-.2 .8,-.2 .8,-.1 .8,-.1 .8,-.1 .8,0 .8,0 .8,.1 .8,.1 .8,.2 .8,.2 .8,.2 .8,.2 .8,.1 .8,.1 .8,.1 .8,.1 .8,0 .8,0 .8,0 .8,-.1 .8,0 .8,0 .8,0 .8,0 .8,.1 .8,0 .8,0 .8,.1 .8,0 .8,0 .8,0 .8,0 .8,-.1 .8,0 .8,-.1 .8,0 .8,-.1 .8,-.1 .8,0 .8,-.1 .8,0 .8,0 .8,-.1 .8,0 .8,.1 .8,0 .8,0 .8,0 .8,.1 .8,0 .8,.1 .8,0 .8,0 .8,0 .8,0 .8,0 .8,0 .8,0 .8,-.1 .8,0 .8,-.1 .8,-.1 .8,-.1 .8,-.1 .8,-.2 .8,-.1 .8,-.1 .8,-.1 .8,0 .8,-.1 .8,0 .8,.1 .8,0 .8,.1 .8,.1 .8,0 .8,.1 .8,0 .8,0 .8,0 .8,0 .8,-.1 .8,0 .8,-.1 .8,0 .8,0 .8,0 .8,.1 .8,0 .8,.1 .8,.1 .8,.1 .8,.1 .8,0 .8,0 .8,-.1 .8,-.1 .8,-.1 .8,-.1 .8,-.1 .8,-.1 .8,-.1 .8,0 .8,0 .8,0 .8,.1 .8,.1 .8,.1 .8,.2 .8,.2 .8,.2 .8,.2 .8,.1 .8,.1 .8,.1 .8,0 .8,0 .8,0 .8,0 .8,0 .8,.1 .8,0 .8,0 .8,0 .8,0 .8,0 .8,-.1 .8,0 .8,-.1 .8,-.1 .8,0 .8,-.1 .8,0 .8,0 .8,.1 .8,.1 .8,.1 .8,.2 .8,.1 .8,.1 .8,.1 .8,.1 .8,-.1 .8,0 .8,-.1 .8,-.1 .8,0 .8,-.1 .8,-.1 .8,-.1 .8,0 .8,0 .8,0 .8,0 .8,.1 .8,.1 .8,0 .8,0 .8,0 .8,0 .8,-.1 .8,0 .8,-.1 .8,0 .8,-.1 .8,0 .8,0 .8,0 .8,0 .8,.1 .8,0 .8,.1 .8,0 .8,.1 .8,.1 .8,0 .8,.1 .8,0 .8,0 .8,0 .8,-.1 .8,0 .8,-.1 .8,-.1 .8,-.1 .8,0 .8,-.1 .8,0 .8,-.1 .8,.1 .8,0 .8,.1 .8,.1 .8,.1 .8,.2 .8,.2 .8,.1 .8,.1 .8,.1 .8,0 .8,-.1 .8,0 .8,-.1 .8,-.2 .8,-.1 .8,-.1 .8,0 .8,-.1 .8,.1 .8,0 .8,.1 .8,.2 .8,.2 .8,.2 .8,.1 .9,.2 .8,0 .8,0 .8,-.1 .8,-.1 .8,-.2 .8,-.2 .8,-.2 .8,-.3 .8,-.1 .8,-.2 .8,0 .8,0 .8,0 .8,.1 .8,.1 .8,.1 .8,.1 .8,0 .8,.1 .8,-.1 .8,0 .8,0 .8,-.1 .8,-.1 .8,0 .8,-.1 .8,0 .8,0 .8,.1 .8,.1 .8,.1 .8,.2 .8,.1 .8,.2 .8,.1 .8,0 .8,.1 .8,0 .8,-.1 .8,0 .8,-.1 .8,-.1 .8,-.1 .8,-.1 .8,0 .8,0 .8,.1 .8,.1 .8,.1 .8,.2 .8,.2 .8,.2 .8,.2 .8,.1 .8,.1 .8,.1 .8,0 .8,0 .8,-.1 .8,0 .8,-.1 .8,-.1 .8,-.1 .8,-.2 .8,-.1 .8,-.1 .8,-.1 .8,-.1 .8,-.1 .8,-.1 .8,-.1 .8,-.1 .8,-.1 .8,-.1 .8,-.1 .8,-.1 .8,-.1 .8,0 .8,0 .8,0 .8,.1 .8,.1 .8,.1 .8,.1 .8,.1 .8,.1 .8,.2 .8,.1 .8,.2 .8,.2 .8,.2 .8,.1 .8,.2 .8,.2 .8,.1 .8,.1 .8,0 .8,0 .8,0 .8,0 .8,-.1 .8,-.1 .8,-.1 .8,-.2 .8,0 .8,-.1 .8,0 .8,0 .8,0 .8,0 .8,0 .8,0 .8,0 .8,0 .8,0 .8,-.1 .8,0 .8,-.1 .8,-.1 .8,-.1 .8,-.2 .8,-.1 .8,-.1 .8,0 .8,-.1 .8,0 .8,0 .8,.1 .8,0 .8,0 .8,.1 .8,.1 .8,0 .8,.1 .8,0 .8,0 .8,0 .8,0 .8,-.1 .8,-.1 .8,0 .8,-.1 .8,0 .8,0 .8,-.1 .8,0 .8,0 .8,0 .8,0 .8,0 .8,0 .8,.1 .8,0 .8,0 .8,0 .8,-.1 .8,0 .8,-.1 .8,0 .8,-.1 .8,0 .8,0 .8,0 .8,0 .8,.1 .8,0 .8,.1 .8,.1 .8,.1 .8,.1 .8,0 .8,.1 .8,0 .8,0 .8,0 .8,-.1 .8,0 .8,-.1 .8,0 .8,-.1 .8,-.1 .8,0 .8,-.1 .8,-.1 .8,0 .8,0 .8,0 .8,-.1 .8,0 .8,0 .8,0 .8,0 .8,0 .8,-.1 .8,0 .8,0 .8,-.1 .8,0 .8,0 .8,.1 .8,0 .8,.1 .8,.1 .8,.1 .8,.2 .8,.1 .8,.1 .8,.1 .8,.1 .8,.1 .8,0 .8,0 .8,0 .8,0 .8,-.1 .8,0 .8,.1 .8,0 .8,0 .8,.1 .8,-.1 .8,0 .8,-.1 .8,-.1 .8,-.1 .8,-.1 .8,-.1 .8,-.2 .8,-.2 .8,-.1 .8,-.1 .8,-.1 .8,0 .8,.1 .8,.2 .8,.2 .8,.2 .8,.2 .8,.2 .8,.2 .8,.1 .8,.1 .8,0 .8,0 .8,-.1 .8,-.1 .8,-.1 .8,-.1 .8,-.1 .8,-.1 .8,-.1"/>
</g>
<path d="M208,406.7l1,5.4 1,5.2 1,4.7 1,4.2 1,3.9 1,3.9 1,3.9 1,4.1 1,4.2 1,4.1 1,4.1 1,3.9 1,3.7 1,3.7 1,3.7 1,3.6 1,3.3 1,3.3 1,3.1 1,3 1,2.9 1,2.9 1,2.6 1,2.6 1,2.8 1,2.3 1,2.3 1,2.4 1,2.4 1,2.5 1,2.4 1,2.6 1,2.6 1,2.1 1,1.8 1,2 1,2.1 1,1.9 1,1.7 1,1.6 1,1.6 1,1.8 1,1.6 1,1.6 1,1.6 1,1.4 1,1.5 1,1.5 1,1.3 1,1.7 1,1.2 1,1.6 1,1.1 1,1.2 1,1.4 1,1.2 1,1.2 1,.8 1,1.1 1,1 1,1.2 1,1.3 1,1.1 1,.6 1,1 1,1.3 1,.9 1,.7 1,1.1 1,.8 1,.6 1,.9 1,1.1 1,1.1 1,.5 1,.9 1,.9 1,.7 1,.8 1,1 1,.6 1,.8 1,.8 1,.8 1,.7 1,.6 1,.9 1,.3 1,.7 1,.7 1,.7 1,.8 1,.5 1,.7 1,.9 1,.9 1,.6 1,.4 1,.5 1,.8 1,1 1,.6 1,.3 1,.8 1,.9 1,.5 1,.6 1,.6 1,.7 1,.5 1,.4 1,.6 1,.7 1,.4 1,.6 1,.9 1,.3 1,.4 1,.5 1,.9 1,.2 1,.7 1,.5 1,.2 1,.4 1,.5 1,.2 1,.5 1,.5 1,.6 1,.4 1,.7 1,.1 1,.4 1,.7 1,.4 1,.2 1,.1 1,.4 1,1 1,0 1,.6 1,.3 1,0 1,.1 1,.6 1,.5 1,.2 1,.1 1,.3 1,.4 1,.5 1,.3 1,.3 1,.4 1,.2 1,.3 1,.4 1,.3 1,.3 1,-.1 1,.2 1,.4 1,.3 1,.5 1,.5 1,.3 1,.2 1,.4 1,-.1 1,.3 1,.6 1,0 1,.3 1,.5 1,.1 1,0 1,0 1,.2 1,.3 1,.2 1,.3 1,.4 1,.4 1,.4 1,.2 1,.1 1,.7 1,.2 1,0 1,.1 1,.3 1,.7 1,.1 1,-.1 1,.3 1,.6 1,-.1 1,.3 1,.4 1,.3 1,.2 1,0 1,.3 1,.2 1,0 1,0 1,-.2 1,0 1,.5 1,.3 1,.1 1,-.2 1,-.1 1,.7 1,-.1 1,.4 1,.1 1,-.1 1,0 1,.1 1,.6 1,0 1,0 1,.7 1,-.2 1,.3 1,0 1,-.1 1,.1 1,.6 1,-.4 1,.1 1,.3 1,.3 1,0 1,.3 1,.4 1,.3 1,.2 1,.3 1,.1 1,.3 1,.2 1,0 1,.2 1,.3 1,0 1,.3 1,0 1,0 1,.6 1,.1 1,.2 1,-.1 1,0 1,-.1 1,0 1,.2 1,-.1 1,.1 1,-.1 1,-.1 1,.1 1,.3 1,0 1,-.1 1,.3 1,.2 1,.2 1,.1 1,.3 1,.2 1,.2 1,.3 1,.4 1,.2 1,.2 1,0 1,.3 1,-.3 1,.1 1,.3 1,-.2 1,-.1 1,-.1 1,.2 1,.2 1,.1 1,-.1 1,-.2 1,.3 1,.1 1,.1 1,.1 1,-.2 1,-.4 1,.1 1,.1 1,.1 1,0 1,-.1 1,.3 1,.4 1,0 1,0 1,-.2 1,-.2 1,.2 1,.4 1,.3 1,0 1,.1 1,0 1,.2 1,.2 1,.1 1,.2 1,0 1,.6 1,-.2 1,.3 1,.2 1,-.2 1,0 1,.2 1,-.2 1,-.2 1,-.1 1,.1 1,0 1,-.1 1,.2 1,.1 1,0 1,.1 1,.1 1,-.2 1,.1 1,.3 1,.1 1,.1 1,0 1,-.1 1,.2 1,-.1 1,0 1,-.1 1,-.2 1,0 1,0 1,0 1,.1 1,.2 1,0 1,.4 1,.4 1,.2 1,.2 1,.1 1,.1 1,0 1,.1 1,-.3 1,-.2 1,-.2 1,.1 1,.1 1,.2 1,-.1 1,.3 1,-.1 1,.2 1,.4 1,0 1,-.1 1,0 1,0 1,0 1,.1 1,-.4 1,0 1,-.1 1,-.1 1,-.1 1,-.1 1,0 1,0 1,.1 1,-.1 1,0 1,.1 1,.1 1,0 1,.1 1,-.1 1,-.2 1,-.1 1,.2 1,0 1,.1 1,.1 1,.1 1,.1 1,0 1,.2 1,.1 1,0 1,.1 1,-.1 1,.1 1,-.1 1,.1 1,-.2 1,-.3 1,.2 1,.3 1,.1 1,0 1,.1 1,-.1 1,-.1 1,0 1,0 1,.4 1,-.5 1,-.2 1,0 1,.2 1,0 1,0 1,0 1,.1 1,-.5 1,-.3 1,.6 1,-.3 1,.1 1,-.5 1,0 1,.2 1,.1 1,0 1,.1 1,0 1,.4 1,-.3 1,-.1 1,.5 1,.4 1,.2 1,.2 1,-.1 1,0 1,.2 1,-.3 1,0 1,-.3 1,-.1 1,.2 1,-.3 1,0 1,.1 1,.1 1,.1 1,.1 1,.4 1,0 1,.2 1,.3 1,-.1 1,.2 1,0 1,-.1 1,-.1 1,.2 1,.1 1,-.1 1,-.2 1,-.1 1,.2 1,-.1 1,.1 1,-.1 1,-.1 1,0 1,0 1,-.1 1,.1 1,.1 1,.2 1,.1 1,0 1,.1 1,-.1 1,.1 1,0 1,-.2 1,0 1,0 1,0 1,.3 1,-.1 1,.2 1,.3 1,.2 1,.2 1,-.1 1,0 1,-.1 1,-.6 1,-.2 1,-.2 1,.4 1,-.5 1,-.1 1,.2 1,-.3 1,.2 1,-.2 1,-.1 1,.3 1,-.2 1,0 1,-.2 1,0 1,.2 1,0 1,0 1,.1 1,-.4 1,.1 1,.5 1,.1 1,.1 1,-.2 1,-.2 1,.4 1,-.1 1,-.1 1,0 1,-.2 1,.2 1,-.2 1,.3 1,-.1 1,-.1 1,.3 1,-.3 1,0 1,.2 1,.1 1,-.2 1,.2 1,.1 1,.1 1,-.2 1,.2 1,.3 1,.1 1,0 1,.1 1,.1 1,-.1 1,-.1 1,.2 1,-.4 1,0 1,0 1,.1 1,.1 1,.1 1,-.2 1,.1 1,.1 1,0 1,.3 1,.1 1,.3 1,-.1 1,.2 1,0 1,-.2 1,-.3 1,.3 1,-.2 1,0 1,-.2 1,-.3 1,-.4 1,.2 1,.2 1,-.4 1,0 1,.4 1,-.1 1,0 1,-.2 1,0 1,-.3 1,-.2 1,-.2 1,.2 1,.2 1,-.1 1,.3 1,.4 1,-.1 1,.1 1,.3 1,0 1,.1 1,-.4 1,-.1 1,0 1,.1 1,.4 1,.1 1,-.1 1,.1 1,.3 1,-.2 1,.3 1,0 1,-.1 1,-.2 1,.4 1,-.2 1,0 1,0 1,-.1 1,-.1 1,-.3 1,-.1 1,.1 1,.1 1,0 1,-.1 1,.2 1,0 1,.1 1,-.1 1,.1 1,0 1,-.2 1,-.2 1,-.1 1,-.1 1,.2 1,-.1 1,0 1,-.1 1,0 1,0 1,-.4 1,.1 1,.2 1,0 1,-.1 1,-.1 1,0 1,-.1 1,.1 1,-.2 1,-.1 1,.4 1,.3 1,.1 1,.3 1,-.1 1,.1 1,.3 1,-.1 1,.3 1,-.3 1,-.1 1,.1 1,.1 1,.1 1,0 1,0 1,-.2 1,-.2 1,.2 1,-.1 1,-.2 1,-.1 1,.2 1,-.1 1,-.2 1,0 1,-.1 1,0 1,-.3 1,0 1,.2 1,-.2 1,.5 1,0 1,.3 1,.1 1,-.1 1,-.2 1,.2 1,.3 1,-.1 1,0 1,0 1,-.3 1,-.3 1,.2 1,.1 1,0 1,-.3 1,.1 1,.3 1,-.5 1,-.1 1,.4 1,-.2 1,0 1,0 1,-.3 1,-.4 1,-.1 1,.2 1,.3 1,.1 1,-.1 1,.2 1,.1 1,.1 1,.1 1,.3 1,.4 1,.2 1,.1 1,-.1 1,.3 1,0 1,0 1,-.3 1,-.3 1,-.2 1,.1 1,-.2 1,-.2 1,0 1,-.2 1,-.1 1,-.3 1,-.3 1,-.1 1,0 1,-.2 1,-.4 1,0 1,.3 1,.1 1,0 1,.4 1,0 1,.3 1,.2 1,0 1,.3 1,.1 1,0 1,.1 1,-.1 1,.1 1,0 1,-.2 1,.1 1,0 1,.1 1,-.2 1,-.1 1,.2 1,-.2 1,-.1 1,-.1 1,.1 1,.5 1,.3 1,.3 1,0 1,.1 1,.1 1,0 1,.1 1,0 1,.3 1,.1 1,-.3 1,-.1 1,-.1 1,-.4 1,0 1,.2 1,-.1 1,0 1,-.1 1,-.3 1,-.2 1,.3 1,.2 1,0 1,.1 1,-.1 1,.3 1,-.1 1,.2 1,.1 1,0 1,-.2 1,0 1,-.2 1,-.2 1,0 1,0 1,-.1 1,-.1 1,0 1,0 1,-.2 1,.1 1,-.1 1,0 1,.2 1,0 1,-.1 1,-.1 1,-.4 1,-.2 1,.2 1,-.2 1,-.3 1,-.1 1,.1 1,0 1,.1 1,0 1,.1 1,-.1 1,.3 1,.2 1,0 1,.2 1,.1 1,-.1 1,.3 1,-.3 1,-.1 1,.3 1,.1 1,-.3 1,.4 1,-.2 1,.2 1,.3 1,0 1,.2 1,.1 1,0 1,.1 1,-.1 1,-.2 1,-.2 1,-.2 1,0 1,.3 1,0 1,.1 1,0 1,.2 1,.4 1,0 1,0 1,-.2 1,0 1,.1 0,4.1 -1,-.2 -1,.2 -1,.2 -1,-.4 -1,.2 -1,-.3 -1,-.3 -1,-.2 -1,.1 -1,.1 -1,0 -1,-.3 -1,.3 -1,0 -1,.3 -1,.3 -1,-.2 -1,0 -1,-.1 -1,-.3 -1,-.2 -1,0 -1,-.1 -1,-.4 -1,-.1 -1,0 -1,.1 -1,-.1 -1,.2 -1,.2 -1,-.3 -1,.1 -1,-.1 -1,-.5 -1,-.1 -1,0 -1,0 -1,-.3 -1,-.1 -1,-.3 -1,.3 -1,-.1 -1,.2 -1,.1 -1,-.1 -1,.1 -1,.4 -1,.2 -1,-.1 -1,.1 -1,0 -1,0 -1,0 -1,.3 -1,0 -1,-.2 -1,-.1 -1,0 -1,.2 -1,0 -1,.1 -1,.2 -1,0 -1,.1 -1,.3 -1,0 -1,0 -1,0 -1,.1 -1,.1 -1,-.3 -1,-.1 -1,0 -1,-.2 -1,.4 -1,.1 -1,-.5 -1,.1 -1,0 -1,-.2 -1,.6 -1,.1 -1,-.4 -1,.2 -1,.2 -1,-.1 -1,.4 -1,.1 -1,.1 -1,.2 -1,-.3 -1,-.3 -1,0 -1,0 -1,-.4 -1,-.2 -1,0 -1,0 -1,-.2 -1,-.6 -1,.3 -1,-.1 -1,-.3 -1,.1 -1,-.1 -1,.2 -1,.2 -1,0 -1,0 -1,-.4 -1,.1 -1,0 -1,-.1 -1,0 -1,0 -1,-.1 -1,0 -1,-.1 -1,-.2 -1,-.3 -1,0 -1,-.3 -1,-.4 -1,0 -1,0 -1,.2 -1,.1 -1,.1 -1,.3 -1,.2 -1,.2 -1,.1 -1,.1 -1,.1 -1,.1 -1,.1 -1,.3 -1,.2 -1,0 -1,.1 -1,.2 -1,.1 -1,.1 -1,.1 -1,-.1 -1,-.3 -1,-.1 -1,-.4 -1,-.3 -1,0 -1,-.3 -1,-.1 -1,0 -1,-.3 -1,.4 -1,-.3 -1,.2 -1,-.2 -1,.4 -1,-.1 -1,.2 -1,0 -1,0 -1,.3 -1,0 -1,-.1 -1,-.1 -1,0 -1,.4 -1,.2 -1,0 -1,0 -1,-.3 -1,0 -1,.1 -1,.3 -1,-.3 -1,.3 -1,.1 -1,-.2 -1,-.5 -1,0 -1,-.1 -1,0 -1,-.2 -1,-.2 -1,-.1 -1,-.1 -1,.2 -1,.1 -1,.1 -1,-.1 -1,.2 -1,.1 -1,-.1 -1,.2 -1,.3 -1,-.2 -1,-.1 -1,.1 -1,-.1 -1,.1 -1,0 -1,0 -1,0 -1,.1 -1,0 -1,-.1 -1,0 -1,-.1 -1,0 -1,-.1 -1,0 -1,-.1 -1,-.3 -1,-.5 -1,0 -1,-.1 -1,.1 -1,0 -1,-.1 -1,.1 -1,.2 -1,.1 -1,-.2 -1,.3 -1,-.2 -1,.1 -1,-.1 -1,0 -1,.2 -1,.2 -1,0 -1,-.1 -1,.3 -1,.2 -1,-.1 -1,.1 -1,0 -1,-.1 -1,-.1 -1,0 -1,0 -1,-.1 -1,0 -1,0 -1,-.2 -1,.1 -1,.1 -1,.1 -1,.1 -1,.1 -1,.2 -1,.2 -1,-.2 -1,.1 -1,-.1 -1,.1 -1,-.1 -1,.2 -1,0 -1,-.2 -1,-.3 -1,-.1 -1,-.2 -1,.1 -1,-.1 -1,0 -1,0 -1,.3 -1,.1 -1,-.2 -1,-.3 -1,.2 -1,-.1 -1,-.5 -1,0 -1,-.2 -1,0 -1,0 -1,.6 -1,.1 -1,-.2 -1,-.3 -1,.3 -1,-.2 -1,.2 -1,0 -1,.4 -1,.1 -1,-.1 -1,-.3 -1,.5 -1,.3 -1,-.1 -1,-.2 -1,.2 -1,-.1 -1,.4 -1,-.1 -1,-.3 -1,.2 -1,0 -1,-.3 -1,.1 -1,-.4 -1,-.1 -1,0 -1,-.2 -1,0 -1,0 -1,.3 -1,-.1 -1,-.2 -1,.1 -1,0 -1,-.1 -1,.1 -1,.1 -1,-.2 -1,0 -1,.1 -1,-.1 -1,-.4 -1,.3 -1,-.1 -1,-.5 -1,0 -1,.1 -1,0 -1,-.1 -1,.1 -1,.2 -1,-.3 -1,-.1 -1,0 -1,0 -1,.3 -1,.1 -1,.1 -1,0 -1,-.2 -1,-.1 -1,.1 -1,-.1 -1,0 -1,0 -1,0 -1,-.1 -1,-.3 -1,.3 -1,-.3 -1,0 -1,-.1 -1,-.1 -1,.2 -1,.1 -1,-.1 -1,-.1 -1,.1 -1,0 -1,.1 -1,-.2 -1,.1 -1,.1 -1,.2 -1,.3 -1,.1 -1,.1 -1,.2 -1,.2 -1,.7 -1,.2 -1,-.3 -1,-.2 -1,-.3 -1,.2 -1,0 -1,-.7 -1,.3 -1,-.4 -1,0 -1,.1 -1,-.4 -1,0 -1,0 -1,.2 -1,0 -1,-.2 -1,-.2 -1,.2 -1,0 -1,-.3 -1,-.2 -1,-.2 -1,.2 -1,.1 -1,0 -1,0 -1,.3 -1,.1 -1,-.2 -1,-.1 -1,0 -1,.1 -1,0 -1,.1 -1,-.2 -1,0 -1,0 -1,-.1 -1,0 -1,0 -1,-.3 -1,-.3 -1,0 -1,0 -1,-.1 -1,-.3 -1,0 -1,0 -1,.2 -1,0 -1,.1 -1,.3 -1,.1 -1,-.1 -1,0 -1,.2 -1,.4 -1,-.1 -1,-.5 -1,0 -1,0 -1,-.6 -1,-.3 -1,0 -1,-.3 -1,0 -1,.1 -1,.4 -1,.2 -1,.1 -1,0 -1,-.6 -1,.2 -1,-.2 -1,.4 -1,0 -1,-.1 -1,0 -1,.1 -1,.4 -1,0 -1,0 -1,.2 -1,.2 -1,-.2 -1,-.3 -1,.2 -1,0 -1,-.4 -1,.5 -1,-.1 -1,-.4 -1,-.2 -1,0 -1,-.2 -1,.3 -1,.1 -1,-.2 -1,-.1 -1,0 -1,-.1 -1,0 -1,.2 -1,-.1 -1,-.6 -1,0 -1,-.3 -1,0 -1,-.1 -1,.1 -1,0 -1,0 -1,.1 -1,0 -1,0 -1,0 -1,-.1 -1,.2 -1,-.3 -1,.1 -1,-.1 -1,-.1 -1,.2 -1,-.1 -1,.1 -1,.2 -1,.1 -1,.2 -1,.1 -1,.2 -1,-.1 -1,.2 -1,.1 -1,-.2 -1,0 -1,-.2 -1,-.2 -1,-.1 -1,-.1 -1,-.1 -1,-.1 -1,0 -1,-.1 -1,0 -1,.1 -1,0 -1,.1 -1,.1 -1,-.2 -1,-.1 -1,-.3 -1,-.1 -1,-.2 -1,-.4 -1,0 -1,0 -1,-.1 -1,-.4 -1,.2 -1,.2 -1,0 -1,-.1 -1,.2 -1,.2 -1,-.3 -1,.1 -1,-.2 -1,.1 -1,0 -1,-.2 -1,-.3 -1,0 -1,0 -1,-.2 -1,0 -1,0 -1,-.1 -1,0 -1,.1 -1,0 -1,0 -1,.4 -1,.1 -1,0 -1,-.1 -1,-.1 -1,0 -1,-.2 -1,-.2 -1,-.2 -1,-.1 -1,.1 -1,-.4 -1,0 -1,0 -1,-.3 -1,-.1 -1,.2 -1,-.4 -1,-.3 -1,0 -1,-.1 -1,0 -1,.1 -1,-.2 -1,.1 -1,.2 -1,.2 -1,-.2 -1,-.5 -1,0 -1,.3 -1,0 -1,-.5 -1,.3 -1,-.2 -1,.4 -1,-.6 -1,0 -1,-.2 -1,-.1 -1,.6 -1,-.1 -1,-.5 -1,.1 -1,.1 -1,.1 -1,-.1 -1,-.3 -1,-.2 -1,-.1 -1,-.2 -1,-.3 -1,-.2 -1,-.2 -1,-.2 -1,-.1 -1,-.5 -1,-.3 -1,-.2 -1,.2 -1,-.2 -1,-.4 -1,0 -1,-.1 -1,0 -1,.1 -1,-.2 -1,.1 -1,.2 -1,0 -1,-.3 -1,0 -1,0 -1,0 -1,-.1 -1,0 -1,-.1 -1,-.2 -1,-.5 -1,0 -1,-.4 -1,.2 -1,-.2 -1,-.3 -1,-.1 -1,-.3 -1,-.3 -1,.1 -1,-.1 -1,-.8 -1,-.2 -1,.1 -1,-.2 -1,-.3 -1,.4 -1,-.3 -1,-.1 -1,.1 -1,-.3 -1,-.2 -1,-.2 -1,-.2 -1,-.1 -1,.3 -1,0 -1,-.3 -1,-.6 -1,.1 -1,-.3 -1,-.3 -1,.2 -1,-.4 -1,-.3 -1,0 -1,0 -1,-.2 -1,.1 -1,-.6 -1,-.3 -1,0 -1,0 -1,-.2 -1,-.1 -1,-.3 -1,0 -1,-.1 -1,-.3 -1,-.3 -1,-.2 -1,-.2 -1,-.4 -1,-.1 -1,-.1 -1,-.1 -1,-.3 -1,-.2 -1,.1 -1,-.6 -1,-.3 -1,-.2 -1,-.3 -1,.2 -1,-.2 -1,-.7 -1,-.6 -1,-.2 -1,-.4 -1,-.1 -1,-.3 -1,-.3 -1,-.2 -1,0 -1,-.4 -1,-.3 -1,-.3 -1,.1 -1,-.3 -1,-.3 -1,-.3 -1,-.4 -1,-.4 -1,-.2 -1,-.3 -1,-.5 -1,-.3 -1,.1 -1,-.2 -1,-.6 -1,-.4 -1,-.3 -1,-.4 -1,-.3 -1,-.3 -1,-.2 -1,-.3 -1,-.4 -1,-.5 -1,-.3 -1,-.3 -1,-.2 -1,-.2 -1,.1 -1,-.2 -1,-.6 -1,-.3 -1,-.1 -1,-.4 -1,-.5 -1,-.4 -1,-.2 -1,-.4 -1,-.5 -1,-.5 -1,-.1 -1,-.9 -1,-.3 -1,-.5 -1,-.5 -1,-.5 -1,-.5 -1,-.5 -1,-.5 -1,-.3 -1,-.6 -1,-.2 -1,-.5 -1,-.7 -1,-.3 -1,-.5 -1,-.5 -1,-.7 -1,-.4 -1,-.7 -1,-.5 -1,-.4 -1,-.6 -1,-.7 -1,-.5 -1,-.6 -1,-.6 -1,-.7 -1,-.6 -1,-.7 -1,-.5 -1,-.6 -1,-.6 -1,-.7 -1,-.7 -1,-.8 -1,-.5 -1,-.7 -1,-.8 -1,-.5 -1,-.6 -1,-.9 -1,-.7 -1,-.5 -1,-.7 -1,-.9 -1,-.5 -1,-.9 -1,-.6 -1,-.6 -1,-.8 -1,-.7 -1,-.6 -1,-.9 -1,-.6 -1,-.7 -1,-.8 -1,-.8 -1,-.9 -1,-1 -1,-.7 -1,-.6 -1,-.9 -1,-1.2 -1,-.7 -1,-.8 -1,-1 -1,-1.1 -1,-1 -1,-1 -1,-1.1 -1,-.9 -1,-1 -1,-.9 -1,-.9 -1,-.9 -1,-1.3 -1,-1.4 -1,-.8 -1,-1.2 -1,-1.6 -1,-1.3 -1,-1.4 -1,-1.3 -1,-1.3 -1,-1.6 -1,-1.3 -1,-1.6 -1,-1.4 -1,-1.4 -1,-1.8 -1,-1.5 -1,-1.7 -1,-1.6 -1,-1.7 -1,-1.8 -1,-1.7 -1,-1.7 -1,-1.8 -1,-2.1 -1,-2.2 -1,-2.1 -1,-2.2 -1,-2.5 -1,-2.6 -1,-2.7 -1,-2.2 -1,-2.3 -1,-2.5 -1,-2.5 -1,-2.6 -1,-2.7 -1,-2.7 -1,-2.9 -1,-2.9 -1,-2.9 -1,-3.3 -1,-3.1 -1,-3.5 -1,-3.5 -1,-3.7 -1,-3.7 -1,-3.8 -1,-3.9 -1,-4.1 -1,-4.1 -1,-4.2 -1,-4.1 -1,-4 -1,-3.8 -1,-3.9 -1,-4.2 -1,-4.7 -1,-5.3 -1,-5.4z" fill="#000"/>
<path d="M208,450l1,5.3 1,5 1,4.7 1,4.3 1,4.1 1,3.8 1,3.6 1,3.3 1,3.2 1,2.9 1,2.8 1,3 1,2.6 1,2.7 1,2.4 1,2.3 1,2.3 1,2.3 1,2.2 1,1.9 1,1.6 1,1.9 1,1.8 1,1.8 1,1.8 1,1.6 1,1.6 1,1.3 1,1.4 1,1.6 1,1.4 1,1.3 1,.7 1,1.3 1,1.2 1,1.4 1,.4 1,1.6 1,.7 1,1 1,1.7 1,1 1,.9 1,.5 1,1 1,1.3 1,.9 1,.7 1,.6 1,.9 1,.4 1,.3 1,1.8 1,.7 1,-.3 1,.6 1,1.1 1,1.9 1,-.2 1,1.1 1,1 1,-.5 1,.8 1,1.8 1,1 1,.2 1,.5 1,.8 1,0 1,.3 1,1.3 1,1.2 1,1 1,.6 1,.4 1,.6 1,.3 1,.8 1,0 1,.8 1,.3 1,1 1,.5 1,-.9 1,1.8 1,.8 1,0 1,1.5 1,.3 1,.5 1,.3 1,-.3 1,.7 1,1 1,-.5 1,1.1 1,1.4 1,.7 1,.7 1,0 1,.9 1,.4 1,.7 1,.1 1,.7 1,-.2 1,.5 1,.7 1,.5 1,.4 1,.3 1,-.3 1,-.7 1,.6 1,.7 1,-.1 1,1.2 1,.5 1,.6 1,.7 1,.3 1,0 1,.6 1,.2 1,-.5 1,-.7 1,.3 1,1.1 1,1.8 1,-.7 1,.7 1,.2 1,.9 1,-.4 1,.6 1,1 1,.5 1,.5 1,.3 1,0 1,1 1,.2 1,0 1,1.4 1,-.5 1,1.1 1,.2 1,.3 1,.9 1,.3 1,1 1,.5 1,.3 1,.7 1,.1 1,.7 1,-.8 1,1.6 1,-.8 1,1.3 1,.7 1,-1.1 1,.7 1,.8 1,-.5 1,-.8 1,.3 1,1.7 1,.8 1,.6 1,-.1 1,.6 1,-.5 1,-.5 1,.7 1,1.3 1,.4 1,-.6 1,1.1 1,-1.7 1,.1 1,.3 1,.9 1,1.1 1,.5 1,.5 1,.6 1,.1 1,.1 1,.5 1,-.2 1,-.7 1,-.4 1,1.8 1,-1.2 1,1.4 1,-.6 1,.7 1,.3 1,.1 1,-.2 1,.4 1,-.5 1,1.1 1,-.1 1,.6 1,-.5 1,.3 1,.4 1,.7 1,-1 1,.8 1,.7 1,-.1 1,.2 1,-.1 1,.6 1,.1 1,-.3 1,.1 1,.6 1,-.6 1,1.2 1,.3 1,-.1 1,.5 1,-.1 1,-.4 1,.3 1,-.2 1,.3 1,.1 1,.6 1,-.6 1,-.8 1,.3 1,.8 1,.2 1,-.2 1,-.1 1,-.2 1,0 1,1 1,-.3 1,.6 1,.4 1,0 1,.4 1,.5 1,-.7 1,0 1,1.2 1,1.1 1,0 1,.1 1,0 1,-.7 1,-.4 1,.3 1,.1 1,-.6 1,-.3 1,.3 1,-1.4 1,.5 1,1.3 1,.2 1,0 1,.3 1,.4 1,.2 1,-.1 1,-.2 1,-.4 1,-1 1,1.5 1,-1.4 1,-.4 1,0 1,-.1 1,.7 1,1.3 1,-.3 1,-.7 1,.9 1,.7 1,-.7 1,0 1,1.2 1,-.4 1,-1.3 1,-.4 1,1.6 1,-.6 1,-.4 1,.3 1,-.2 1,.7 1,-.1 1,.2 1,.6 1,-1.5 1,0 1,.8 1,.4 1,-1.3 1,0 1,1.8 1,.7 1,-.1 1,.3 1,-1.2 1,-.5 1,.7 1,.3 1,.2 1,-.2 1,0 1,-.4 1,0 1,.8 1,-.8 1,-1.1 1,.2 1,.2 1,1.3 1,.7 1,-1.1 1,.7 1,.4 1,.1 1,.5 1,-.1 1,.3 1,-.9 1,-.9 1,0 1,1.2 1,-.5 1,-.1 1,-.1 1,.6 1,-.2 1,-.6 1,0 1,.5 1,-.8 1,0 1,1.3 1,-.6 1,.2 1,.3 1,-.3 1,-.3 1,.4 1,-.6 1,.7 1,-1.5 1,.1 1,1.6 1,-.1 1,.3 1,-.7 1,1 1,-.1 1,-.5 1,-.3 1,.5 1,-.2 1,-1.7 1,.7 1,1.1 1,.4 1,-.7 1,.9 1,.6 1,.3 1,-.1 1,-.2 1,-.5 1,.5 1,.3 1,-.7 1,.4 1,.3 1,-.8 1,.2 1,.7 1,-.2 1,-.3 1,.1 1,.1 1,.2 1,-.7 1,.2 1,.4 1,.1 1,-.1 1,.1 1,-.1 1,-.5 1,1.2 1,-.1 1,0 1,.3 1,.3 1,-.2 1,-.3 1,-1.1 1,1 1,-1.1 1,.6 1,-.6 1,.6 1,.3 1,0 1,-.7 1,-.3 1,1.3 1,-.4 1,.4 1,-.3 1,.6 1,-.4 1,-.2 1,1.1 1,-1 1,.7 1,.6 1,0 1,-.2 1,-.2 1,-.4 1,-.2 1,-.4 1,-.4 1,.4 1,0 1,-.3 1,0 1,-.7 1,-.2 1,.7 1,.3 1,0 1,-.1 1,.4 1,.2 1,.3 1,-.1 1,-.9 1,.9 1,-.1 1,0 1,.4 1,-1 1,1.3 1,-.5 1,-.1 1,-.8 1,.5 1,.1 1,.4 1,-1.1 1,.1 1,.2 1,-.4 1,0 1,.9 1,-.9 1,.7 1,-.9 1,.1 1,1.1 1,.5 1,-.3 1,-.5 1,.9 1,-.3 1,.8 1,-.2 1,.1 1,-.7 1,1.1 1,-1.5 1,.7 1,.4 1,-.2 1,-.3 1,-.6 1,.1 1,.1 1,-.3 1,.1 1,-.1 1,.7 1,.1 1,-.1 1,.2 1,.1 1,-1 1,0 1,1.4 1,.5 1,-.2 1,0 1,0 1,-.5 1,.2 1,-.4 1,-.2 1,-.3 1,.5 1,-.9 1,0 1,.9 1,.7 1,.3 1,-.5 1,.6 1,-.8 1,-.2 1,-.4 1,-.3 1,.3 1,.2 1,.4 1,.7 1,-.4 1,-.4 1,.6 1,.5 1,-.1 1,.2 1,-.3 1,.4 1,-.3 1,0 1,-1.2 1,-.3 1,.1 1,.7 1,.5 1,-.7 1,-.3 1,.7 1,.2 1,-.4 1,0 1,.7 1,-.2 1,.2 1,0 1,-.2 1,-.9 1,.7 1,-.8 1,-.2 1,.4 1,-.2 1,0 1,.1 1,-.4 1,.3 1,-.1 1,.3 1,-1.1 1,-.4 1,.6 1,0 1,-.6 1,.4 1,.5 1,-.2 1,.4 1,-.2 1,.1 1,-.1 1,-.6 1,.4 1,.3 1,-.1 1,.3 1,.3 1,.5 1,-.6 1,-1.1 1,.1 1,.4 1,.5 1,-.2 1,-.2 1,.4 1,-.4 1,.2 1,.7 1,-.2 1,.3 1,.5 1,-.6 1,-.5 1,.3 1,1.1 1,-.4 1,-.1 1,.4 1,-2.2 1,.1 1,.9 1,.4 1,.7 1,.1 1,-1.5 1,-.7 1,.5 1,.8 1,.7 1,.1 1,-.2 1,-.2 1,.4 1,-.2 1,-.6 1,.2 1,1.2 1,-.8 1,.2 1,-.3 1,0 1,-.6 1,.2 1,0 1,1.1 1,-.2 1,.3 1,0 1,-.1 1,-.2 1,.2 1,-.8 1,-.2 1,.3 1,-.1 1,.2 1,.7 1,-.3 1,.1 1,.3 1,-.4 1,.2 1,.3 1,-.4 1,-.6 1,-.1 1,.1 1,.4 1,.2 1,-.6 1,-.3 1,.7 1,-.4 1,.3 1,.4 1,.2 1,.4 1,-.1 1,.2 1,-.7 1,-.7 1,1.2 1,-.7 1,-.1 1,-.1 1,.6 1,-1.1 1,-.4 1,.8 1,.3 1,.9 1,-.9 1,-.3 1,.4 1,.6 1,.4 1,-.2 1,-1 1,-1 1,-1 1,.5 1,.8 1,.7 1,-1 1,.4 1,.6 1,-1.1 1,-.9 1,.1 1,-.1 1,1.8 1,.3 1,-.5 1,.4 1,-.3 1,.3 1,0 1,-.1 1,0 1,.5 1,.5 1,0 1,.1 1,.1 1,-.5 1,-.2 1,.1 1,.2 1,.1 1,-.4 1,.1 1,.2 1,.5 1,.4 1,-.2 1,-.2 1,.5 1,.2 1,-.5 1,.8 1,-1 1,.6 1,-1.2 1,0 1,.2 1,.1 1,-1.1 1,.4 1,.3 1,-.2 1,.2 1,-.9 1,-.5 1,.5 1,-.7 1,1.2 1,-.5 1,.4 1,.4 1,-.3 1,.4 1,0 1,.2 1,0 1,-.2 1,1 1,0 1,-.7 1,.6 1,.4 1,.1 1,.4 1,.1 1,-.6 1,.3 1,-.7 1,.1 1,.1 1,-.5 1,0 1,.3 1,-.6 1,-1.2 1,.1 1,1.8 1,.2 1,-.2 1,-.2 1,-.9 1,.6 1,-.7 1,-.4 1,-.1 1,.1 1,.8 1,.1 1,.3 1,0 1,-.2 1,.4 1,-.1 1,-.3 1,.2 1,-.2 1,-.4 1,.5 1,-.2 1,-.6 1,-.4 1,.3 1,-.3 1,-.5 1,-.1 1,-.1 1,0 1,1 1,.3 1,0 1,.1 1,.1 1,-1.1 1,.5 1,.6 1,0 1,-.1 1,-.2 1,-.6 1,.1 1,.1 1,-.3 1,.7 1,.8 1,.1 1,-.9 1,-.5 1,1 1,-1.9 1,-.4 1,1.7 1,-.2 1,-.7 1,-.2 1,.8 1,.3 1,.2 1,-.8 1,-.7 1,1.5 1,-1.4 1,.4 1,.4 1,-.2 1,.5 1,.3 1,0 1,-.6 1,-.9 1,.5 1,1.7 1,-.6 1,.4 1,-.4 1,-.4 1,.1 1,-.8 1,-.1 1,1.7 1,0 1,.1 1,-.9 1,-.6 1,1.1 1,-.1 1,-.4 1,.5 1,-.2 1,-.4 1,.2 1,-.1 1,0 1,-.1 1,.5 1,-.4 1,0 1,1.5 1,-.2 1,.3 1,-.7 1,.1 1,-.1 1,.5 1,-1.7 1,1 1,-.4 0,5.5 -1,1.1 -1,-1.1 -1,1 -1,.1 -1,-.8 -1,-.3 -1,.2 -1,.7 -1,-.3 -1,-.6 -1,-.8 -1,-.2 -1,-.3 -1,.4 -1,.3 -1,-.2 -1,-.3 -1,.9 -1,0 -1,1.5 -1,-.9 -1,-.3 -1,-.4 -1,.1 -1,.5 -1,.3 -1,-.1 -1,-.8 -1,.6 -1,1.8 -1,.1 -1,0 -1,0 -1,-1.3 -1,-.7 -1,0 -1,-.7 -1,0 -1,1.5 -1,-.2 -1,-2 -1,.2 -1,.1 -1,.4 -1,-.4 -1,.1 -1,0 -1,.2 -1,-.3 -1,1 -1,-1.1 -1,.2 -1,.5 -1,.2 -1,-.1 -1,-.3 -1,.8 -1,.8 -1,-1.3 -1,1.4 -1,.5 -1,0 -1,-.6 -1,-.4 -1,-.1 -1,-.1 -1,0 -1,.1 -1,-.2 -1,-.4 -1,-.1 -1,-.5 -1,-.1 -1,.8 -1,-.2 -1,-.5 -1,.6 -1,.6 -1,-.1 -1,0 -1,-.4 -1,-.5 -1,-.1 -1,.2 -1,-.2 -1,.3 -1,.3 -1,-.9 -1,.3 -1,0 -1,-.1 -1,.5 -1,.5 -1,-.3 -1,-.8 -1,.1 -1,-.3 -1,-.1 -1,.2 -1,.2 -1,.3 -1,0 -1,.4 -1,-.4 -1,.2 -1,.3 -1,-.3 -1,.2 -1,.6 -1,0 -1,1 -1,.1 -1,-.6 -1,.5 -1,-1.6 -1,1.2 -1,-.6 -1,-.1 -1,.2 -1,.2 -1,-.3 -1,.1 -1,.5 -1,-.1 -1,-.4 -1,-.5 -1,.3 -1,-.8 -1,.6 -1,0 -1,.7 -1,-.2 -1,-2 -1,1.2 -1,-.4 -1,0 -1,-.1 -1,-.2 -1,-.5 -1,-.1 -1,.7 -1,-.3 -1,-.4 -1,1.1 -1,-.1 -1,.4 -1,.4 -1,-.4 -1,.4 -1,-.5 -1,0 -1,.3 -1,0 -1,-.2 -1,.2 -1,.4 -1,.1 -1,-.7 -1,.3 -1,-.2 -1,-.8 -1,.2 -1,-.8 -1,0 -1,.1 -1,.3 -1,.1 -1,-.4 -1,.8 -1,-.5 -1,1 -1,.5 -1,-.5 -1,-.7 -1,.9 -1,-.1 -1,-.7 -1,-.1 -1,1.1 -1,.1 -1,.1 -1,.1 -1,-.7 -1,-.9 -1,-.5 -1,.2 -1,-.2 -1,.5 -1,1.6 -1,-.1 -1,-.7 -1,-.9 -1,-.6 -1,.5 -1,.6 -1,-.5 -1,1.4 -1,.8 -1,-.5 -1,.4 -1,.3 -1,-1.4 -1,-1 -1,-.3 -1,.4 -1,.4 -1,-.2 -1,-.3 -1,-.6 -1,.5 -1,.2 -1,.3 -1,-.4 -1,.4 -1,.1 -1,-.8 -1,-.2 -1,.3 -1,0 -1,-.1 -1,-.2 -1,-.2 -1,-.5 -1,.5 -1,-.2 -1,.7 -1,-.3 -1,-.3 -1,.5 -1,-.1 -1,-.3 -1,.6 -1,-.1 -1,-.3 -1,.1 -1,-.2 -1,-.3 -1,0 -1,.9 -1,.4 -1,-1.3 -1,1 -1,-.5 -1,.4 -1,-.1 -1,.1 -1,.6 -1,-.8 -1,-.5 -1,0 -1,.3 -1,-.1 -1,.1 -1,.7 -1,-.8 -1,1.6 -1,.2 -1,-1.5 -1,.6 -1,.4 -1,-.1 -1,-.2 -1,-.8 -1,.6 -1,.4 -1,-1.4 -1,-.5 -1,1.4 -1,-.2 -1,-.4 -1,.6 -1,-.1 -1,.7 -1,.4 -1,-1.1 -1,-.4 -1,.1 -1,.2 -1,.7 -1,-.6 -1,-.4 -1,-.5 -1,.5 -1,-.2 -1,-.5 -1,0 -1,.2 -1,-.8 -1,-.5 -1,-.2 -1,.9 -1,.5 -1,.2 -1,-.1 -1,-.1 -1,-.7 -1,.9 -1,.3 -1,-1 -1,-.1 -1,1 -1,.2 -1,-.3 -1,.6 -1,0 -1,-1.5 -1,-.3 -1,.8 -1,.2 -1,-.5 -1,1.5 -1,0 -1,-.4 -1,-1.9 -1,.9 -1,-.1 -1,-1 -1,.2 -1,-.2 -1,.3 -1,.5 -1,-.3 -1,.7 -1,-.2 -1,.2 -1,-.2 -1,0 -1,.1 -1,.1 -1,0 -1,.2 -1,-.5 -1,.2 -1,.2 -1,0 -1,-.4 -1,.6 -1,.6 -1,-1.1 -1,.4 -1,-.1 -1,-.4 -1,.2 -1,.1 -1,.3 -1,-.1 -1,.4 -1,0 -1,0 -1,-.1 -1,.1 -1,0 -1,-.3 -1,1.1 -1,-.1 -1,-1.3 -1,.2 -1,.3 -1,.4 -1,-.8 -1,1.1 -1,-.5 -1,-.3 -1,-.1 -1,.4 -1,.4 -1,-.8 -1,-1.5 -1,0 -1,.4 -1,.7 -1,-.2 -1,-.6 -1,.4 -1,.2 -1,-.1 -1,.2 -1,-.1 -1,1.2 -1,-.6 -1,-.8 -1,-.5 -1,.1 -1,.1 -1,.5 -1,-.2 -1,-.5 -1,-.8 -1,-.2 -1,.4 -1,.9 -1,-.2 -1,-.2 -1,1.2 -1,.2 -1,-1.1 -1,.8 -1,-.7 -1,.4 -1,-.2 -1,-.3 -1,0 -1,.3 -1,1.4 -1,-.2 -1,-1.9 -1,.2 -1,1.2 -1,-.7 -1,0 -1,0 -1,-1.3 -1,.4 -1,1.7 -1,-.1 -1,-1.2 -1,-.9 -1,1.6 -1,.2 -1,-1.3 -1,.3 -1,0 -1,.1 -1,.1 -1,.7 -1,-1.1 -1,1.1 -1,-.5 -1,-.6 -1,.2 -1,-.2 -1,-.1 -1,-.2 -1,-.5 -1,0 -1,-.2 -1,.4 -1,.4 -1,-.7 -1,-1 -1,0 -1,.1 -1,.2 -1,.5 -1,1.1 -1,-.3 -1,-.2 -1,.8 -1,.3 -1,-.3 -1,.1 -1,-.2 -1,1 -1,-.5 -1,-.1 -1,-.4 -1,1.1 -1,-.6 -1,-.4 -1,0 -1,-.7 -1,-.3 -1,.5 -1,-.3 -1,-.3 -1,.2 -1,-.3 -1,.1 -1,-.1 -1,-.1 -1,-.1 -1,1.6 -1,.1 -1,-1.1 -1,1 -1,-.5 -1,1 -1,-.1 -1,-.8 -1,-.8 -1,.2 -1,-.4 -1,-.2 -1,-.3 -1,1 -1,0 -1,.1 -1,-.9 -1,-.1 -1,0 -1,-.3 -1,.3 -1,.4 -1,-.2 -1,-.1 -1,-.3 -1,0 -1,.6 -1,.5 -1,-.2 -1,-.3 -1,.2 -1,-.2 -1,-.6 -1,1 -1,-1.2 -1,.8 -1,.4 -1,-.3 -1,-1.4 -1,.2 -1,-.5 -1,-.2 -1,.3 -1,.5 -1,.2 -1,0 -1,1.5 -1,0 -1,-.6 -1,-.3 -1,-1.4 -1,1.4 -1,-.3 -1,-1.1 -1,0 -1,-.6 -1,-.3 -1,0 -1,0 -1,.3 -1,-.2 -1,.2 -1,-.2 -1,.3 -1,-.2 -1,.6 -1,-.5 -1,.2 -1,1 -1,0 -1,-1.3 -1,.2 -1,-.3 -1,.9 -1,.1 -1,-.1 -1,.1 -1,.2 -1,0 -1,.8 -1,.4 -1,.1 -1,-1.1 -1,-.2 -1,-.6 -1,.3 -1,.6 -1,.7 -1,-.9 -1,-.9 -1,.1 -1,-.6 -1,.1 -1,1.1 -1,-.1 -1,-.5 -1,.1 -1,-.2 -1,-.3 -1,.6 -1,.7 -1,-.9 -1,-.5 -1,-.6 -1,-.2 -1,.2 -1,.3 -1,.2 -1,-.4 -1,-.1 -1,.6 -1,-.2 -1,-.1 -1,-.5 -1,.6 -1,1.2 -1,-2.2 -1,1.4 -1,-.2 -1,1 -1,-.6 -1,-1.3 -1,.4 -1,-.1 -1,-.6 -1,-.5 -1,1 -1,-.6 -1,-.6 -1,.1 -1,-.5 -1,1.5 -1,-.3 -1,-.9 -1,0 -1,-.2 -1,.9 -1,-.7 -1,-.1 -1,.3 -1,.2 -1,-1.1 -1,.5 -1,-1.1 -1,.4 -1,-.8 -1,.1 -1,.2 -1,-.4 -1,1 -1,.1 -1,-.5 -1,1.2 -1,.4 -1,-.8 -1,1.4 -1,.2 -1,-.8 -1,-.8 -1,-.4 -1,-.6 -1,-.6 -1,.2 -1,-.6 -1,-.2 -1,.1 -1,-.7 -1,-.6 -1,-.2 -1,.1 -1,-.4 -1,.5 -1,.2 -1,0 -1,.7 -1,-1.1 -1,-.3 -1,.1 -1,.3 -1,-.2 -1,-.1 -1,1 -1,.3 -1,-.2 -1,-.7 -1,-1.2 -1,.6 -1,-1 -1,.5 -1,-1.1 -1,.9 -1,-.6 -1,-.8 -1,-.3 -1,.8 -1,.2 -1,-1.4 -1,.9 -1,-.9 -1,.6 -1,.7 -1,-.7 -1,0 -1,.2 -1,-.6 -1,-1.3 -1,.9 -1,-.5 -1,-.6 -1,1 -1,.1 -1,-.8 -1,-1.4 -1,.5 -1,-.1 -1,-1 -1,-.3 -1,.2 -1,1 -1,-.5 -1,-1.2 -1,.6 -1,.5 -1,-.9 -1,-.8 -1,.7 -1,-.8 -1,-.9 -1,-.4 -1,.5 -1,-.6 -1,-.7 -1,.3 -1,-.2 -1,-.6 -1,-.6 -1,-.4 -1,-.2 -1,.4 -1,1 -1,-.2 -1,-.5 -1,-1.1 -1,-1 -1,.2 -1,.8 -1,.2 -1,-2.1 -1,-.2 -1,-.7 -1,-.7 -1,-.1 -1,-.3 -1,-.9 -1,-.2 -1,-.2 -1,.8 -1,-1.2 -1,-.7 -1,-.9 -1,.4 -1,-.7 -1,-.9 -1,-.4 -1,1.1 -1,-1.1 -1,-1.8 -1,-.4 -1,1.1 -1,0 -1,-1.7 -1,-.3 -1,-1.3 -1,.3 -1,-.8 -1,.6 -1,-.3 -1,-2 -1,.7 -1,-.2 -1,-1.1 -1,-.2 -1,-.5 -1,.3 -1,.7 -1,-1.5 -1,-.2 -1,.2 -1,-1.5 -1,.6 -1,-.8 -1,-.7 -1,1.3 -1,-.5 -1,-.4 -1,-1.7 -1,-1.1 -1,-.4 -1,.4 -1,.3 -1,-.7 -1,-1.3 -1,-.2 -1,-.7 -1,-.4 -1,-.4 -1,-.3 -1,-.5 -1,-.6 -1,-.5 -1,.4 -1,-.6 -1,-.6 -1,.2 -1,-.2 -1,-1.1 -1,-1.4 -1,-.7 -1,-.5 -1,-.4 -1,-.6 -1,-.2 -1,-.7 -1,-1 -1,-.5 -1,-.6 -1,-.6 -1,-.2 -1,-.4 -1,-1 -1,0 -1,-1.1 -1,.6 -1,-.9 -1,-.4 -1,.3 -1,-.6 -1,-1.5 -1,-.9 -1,-.7 -1,-.9 -1,-.5 -1,.1 -1,-1.4 -1,-1.1 -1,-.6 -1,.8 -1,-1.1 -1,-.6 -1,-.6 -1,-2.1 -1,-.5 -1,-.7 -1,-.8 -1,-.9 -1,-.9 -1,0 -1,.2 -1,-1.6 -1,-1.7 -1,-.7 -1,-1.1 -1,-.4 -1,-1 -1,-.8 -1,-.5 -1,-.8 -1,-.5 -1,-1 -1,-1.1 -1,-2.4 -1,.2 -1,-1.1 -1,-1.4 -1,-1.6 -1,-1.3 -1,-1.4 -1,-1.6 -1,-1.1 -1,-1.1 -1,-1.6 -1,-1 -1,-1.6 -1,-1.3 -1,-1.5 -1,-2 -1,-1.6 -1,-1.8 -1,-1.9 -1,-1.8 -1,-2 -1,-1.7 -1,-2.2 -1,-2.5 -1,-2.3 -1,-2.5 -1,-2.4 -1,-2.6 -1,-2.6 -1,-2.8 -1,-3 -1,-3.1 -1,-3.1 -1,-3.3 -1,-3.6 -1,-3.9 -1,-4.1 -1,-4.4 -1,-4.7 -1,-5 -1,-5.3z" fill="#000"/>
<g>
<use href="#mx" x="194" y="183"/>
<use href="#mx" x="241.79" y="523.8"/>
<use href="#mx" x="289.57" y="581"/>
<use href="#mx" x="337.36" y="610"/>
<use href="#mx" x="385.15" y="625.4"/>
<use href="#mx" x="432.93" y="635"/>
<use href="#mx" x="480.72" y="641.4"/>
<use href="#mx" x="528.51" y="643.9"/>
<use href="#mx" x="576.29" y="647.6"/>
<use href="#mx" x="624.08" y="646.6"/>
<use href="#mx" x="671.87" y="649.5"/>
<use href="#mx" x="719.65" y="650.6"/>
<use href="#mx" x="767.44" y="649.8"/>
<use href="#mx" x="815.23" y="649.8"/>
<use href="#mx" x="863.01" y="650.6"/>
<use href="#mx" x="910.8" y="649.8"/>
<use href="#mx" x="958.59" y="651.3"/>
<use href="#mx" x="1006.37" y="652"/>
<use href="#mx" x="1054.16" y="651.3"/>
<use href="#mt" x="194" y="226"/>
<use href="#mt" x="283.6" y="572"/>
<use href="#mt" x="373.2" y="611.5"/>
<use href="#mt" x="462.8" y="627.5"/>
<use href="#mt" x="552.4" y="631"/>
<use href="#mt" x="642" y="634.6"/>
<use href="#mt" x="731.6" y="634"/>
<use href="#mt" x="821.2" y="635.7"/>
<use href="#mt" x="910.8" y="639"/>
<use href="#mt" x="1000.4" y="636.8"/>
<use href="#mt" x="1090" y="636.8"/>
</g>
</g>
<g class="plot-b">
<g fill="none" stroke="#878787" stroke-width="2" stroke-linecap="square">
<rect x="1438" y="48" width="895" height="662"/>
</g>
<path d="M1438,195.11h9.3M2333,195.11h-9.3M1438,342.22h9.3M2333,342.22h-9.3M1438,489.33h9.3M2333,489.33h-9.3M1438,636.44h9.3M2333,636.44h-9.3M1736.33,710v-9.3M1736.33,48v9.3M2034.67,710v-9.3M2034.67,48v9.3" fill="none" stroke="#878787" stroke-width="2"/>
<path d="M1438,48h9.3M2333,48h-9.3M2333,710v-9.3M2333,48v9.3" fill="none" stroke="#444444" stroke-width="2" stroke-linecap="square"/>
<g font-family="'Liberation Serif', 'Times New Roman', serif" font-size="56.3" fill="#262626">
<g text-anchor="end">
<text x="1419.4" y="68.2">0</text>
<text x="1419.4" y="215.31">-10</text>
<text x="1419.4" y="362.42">-20</text>
<text x="1419.4" y="509.53">-30</text>
<text x="1419.4" y="656.64">-40</text>
</g>
<g text-anchor="middle">
<text x="1736.33" y="780.6">5,000</text>
<text x="2034.67" y="780.6">10,000</text>
<text x="2333" y="780.6">15,000</text>
</g>
</g>
<g font-family="'Liberation Serif', 'Times New Roman', serif" font-size="62" fill="#262626" text-anchor="middle">
<text x="1884.3" y="854.5">time [sample]</text>
<text transform="translate(1324,379.2) rotate(-90)">MSD [dB]</text>
</g>
<g font-family="'Liberation Serif', 'Times New Roman', serif" font-size="64" fill="#000">
<text transform="translate(1815.24,929.71) scale(0.8760,0.9977)">(</text>
<text transform="translate(1835.04,929.56) scale(1.0594,1.0260)" font-weight="bold">b</text>
<text transform="translate(1873.34,929.71) scale(0.9004,0.9977)">)</text>
</g>
<g fill="none" stroke="#000" stroke-width="3.3" stroke-linejoin="round" stroke-linecap="butt">
<path d="M1438,49.6l0,.8 0,.8 .1,.8 0,.8 0,.8 0,.8 .1,.8 0,.8 0,.8 0,.8 0,.8 .1,.8 0,.8 0,.8 0,.8 0,.8 .1,.8 0,.8 0,.8 0,.8 0,.8 0,.8 .1,.8 0,.8 0,.8 0,.8 0,.8 0,.8 .1,.8 0,.8 0,.8 0,.8 0,.8 .1,.8 0,.8 0,.8 0,.8 0,.8 0,.8 0,.8 .1,.8 0,.8 0,.8 0,.8 0,.8 0,.8 .1,.8 0,.8 0,.8 0,.8 0,.8 0,.8 .1,.8 0,.8 0,.8 0,.8 0,.8 0,.8 .1,.8 0,.8 0,.8 0,.8 0,.8 0,.8 .1,.8 0,.8 0,.8 0,.8 0,.8 .1,.8 0,.8 0,.8 0,.8 0,.8 .1,.8 0,.8 0,.8 0,.8 0,.8 0,.8 .1,.8 0,.8 0,.8 0,.8 0,.8 .1,.8 0,.8 0,.8 0,.8 0,.8 .1,.8 0,.8 0,.8 0,.8 0,.8 .1,.8 0,.8 0,.8 0,.8 0,.8 .1,.8 0,.8 0,.8 0,.8 0,.8 .1,.8 0,.8 0,.8 0,.8 0,.8 .1,.8 0,.8 0,.8 0,.8 0,.8 0,.8 .1,.8 0,.8 0,.8 0,.8 0,.8 .1,.8 0,.8 0,.8 0,.8 0,.8 .1,.8 0,.8 0,.8 0,.8 0,.8 0,.8 .1,.8 0,.8 0,.8 0,.8 0,.8 0,.8 .1,.8 0,.8 0,.8 0,.8 0,.8 0,.8 0,.8 .1,.8 0,.8 0,.8 0,.8 0,.8 0,.8 .1,.8 0,.8 0,.8 0,.8 0,.8 0,.8 0,.8 .1,.8 0,.8 0,.8 0,.8 0,.8 0,.8 0,.8 .1,.8 0,.8 0,.8 0,.8 0,.8 0,.8 0,.8 .1,.8 0,.8 0,.8 0,.8 0,.8 0,.8 0,.8 .1,.8 0,.8 0,.8 0,.8 0,.8 0,.8 0,.8 .1,.8 0,.8 0,.8 0,.8 0,.8 0,.8 0,.8 .1,.8 0,.8 0,.8 0,.8 0,.8 0,.8 0,.8 .1,.8 0,.8 0,.8 0,.8 0,.8 0,.8 0,.8 0,.8 .1,.8 0,.8 0,.8 0,.8 0,.8 0,.8 0,.8 .1,.8 0,.8 0,.8 0,.8 0,.8 0,.8 0,.8 .1,.8 0,.8 0,.8 0,.8 0,.8 0,.8 0,.8 .1,.8 0,.8 0,.8 0,.8 0,.8 0,.8 0,.8 .1,.8 0,.8 0,.8 0,.8 0,.8 0,.8 0,.8 .1,.8 0,.8 0,.8 0,.8 0,.8 0,.8 0,.8 0,.8 .1,.8 0,.8 0,.8 0,.8 0,.8 0,.8 0,.8 .1,.8 0,.8 0,.8 0,.8 0,.8 0,.8 0,.8 .1,.8 0,.8 0,.8 0,.8 0,.8 0,.8 0,.8 .1,.8 0,.8 0,.8 0,.8 0,.8 0,.8 0,.8 .1,.8 0,.8 0,.8 0,.8 0,.8 0,.8 .1,.8 0,.8 0,.8 0,.8 0,.8 0,.8 .1,.8 0,.8 0,.8 0,.8 0,.8 0,.8 .1,.8 0,.8 0,.8 0,.8 0,.8 0,.8 .1,.8 0,.8 0,.8 0,.8 0,.8 0,.8 .1,.8 0,.8 0,.8 0,.8 0,.8 0,.8 .1,.8 0,.8 0,.8 0,.8 0,.8 .1,.8 0,.8 0,.8 0,.8 0,.8 .1,.8 0,.8 0,.8 0,.8 0,.8 .1,.8 0,.8 0,.8 0,.8 .1,.8 0,.8 0,.8 0,.8 .1,.8 0,.8 0,.8 .1,.8 0,.8 0,.8 .1,.8 0,.8 0,.8 0,.8 .1,.8 0,.8 .1,.8 0,.8 0,.8 .1,.8 .1,.8 0,.7 .1,.8 0,.8 .1,.8 .1,.8 0,.8 .1,.8 .1,.8 .1,.8 0,.8 .1,.8 .1,.8 .1,.8 .1,.8 .1,.8 0,.8 .1,.8 .1,.8 .1,.8 .1,.8 0,.8 .1,.8 .1,.8 .1,.8 .1,.8 0,.8 .1,.8 .1,.8 0,.8 .1,.8 .1,.8 .1,.7 0,.8 .1,.8 .1,.8 0,.8 .1,.8 .1,.8 0,.8 .1,.8 .1,.8 .1,.8 0,.8 .1,.8 .1,.8 0,.8 .1,.8 .1,.8 0,.8 .1,.8 .1,.8 0,.8 .1,.8 .1,.8 0,.8 .1,.8 0,.8 .1,.8 .1,.8 0,.8 .1,.8 0,.8 .1,.8 0,.8 .1,.8 0,.8 .1,.8 0,.8 .1,.8 0,.8 .1,.8 0,.8 .1,.8 0,.8 .1,.8 .1,.8 0,.8 .1,.8 .1,.8 0,.7 .1,.8 .1,.8 .1,.8 0,.8 .1,.8 .1,.8 .1,.8 .2,.8 .1,.8 .1,.8 .1,.8 .2,.7 .1,.8 .2,.8 .1,.8 .2,.8 .1,.8 .2,.8 .1,.8 .2,.7 .2,.8 .1,.8 .2,.8 .2,.8 .1,.8 .2,.7 .2,.8 .2,.8 .1,.8 .2,.8 .2,.7 .1,.8 .2,.8 .2,.8 .2,.8 .2,.7 .2,.8 .2,.8 .1,.8 .2,.7 .2,.8 .2,.8 .2,.8 .2,.7 .2,.8 .2,.8 .2,.8 .3,.7 .2,.8 .2,.8 .2,.8 .2,.7 .2,.8 .2,.8 .2,.8 .2,.7 .2,.8 .2,.8 .2,.8 .2,.7 .2,.8 .2,.8 .2,.8 .2,.7 .2,.8 .2,.8 .2,.7 .2,.8 .2,.8 .3,.8 .2,.7 .2,.8 .2,.8 .2,.7 .2,.8 .2,.8 .2,.8 .3,.7 .2,.8 .2,.8 .2,.7 .2,.8 .2,.8 .2,.8 .3,.7 .2,.8 .2,.8 .2,.7 .2,.8 .2,.8 .3,.8 .2,.7 .2,.8 .2,.8 .2,.7 .3,.8 .2,.8 .2,.7 .2,.8 .3,.8 .2,.7 .2,.8 .2,.8 .3,.7 .2,.8 .3,.8 .2,.7 .2,.8 .3,.7 .2,.8 .2,.8 .3,.8 .2,.7 .3,.8 .2,.8 .2,.7 .3,.8 .2,.8 .3,.7 .2,.8 .3,.7 .2,.8 .3,.8 .3,.7 .2,.8 .3,.7 .3,.8 .3,.7 .3,.8 .3,.7 .3,.7 .3,.8 .3,.7 .3,.7 .4,.7 .3,.7 .4,.7 .4,.7 .3,.7 .4,.7 .4,.7 .5,.7 .4,.7 .4,.6 .4,.7 .5,.7 .4,.7 .4,.7 .5,.6 .4,.7 .4,.7 .4,.7 .5,.7 .4,.7 .4,.6 .4,.7 .4,.7 .4,.7 .4,.7 .4,.7 .4,.7 .4,.7 .4,.7 .4,.7 .4,.7 .4,.7 .4,.7 .4,.7 .4,.7 .4,.7 .4,.6 .4,.7 .4,.7 .5,.7 .4,.7 .4,.7 .4,.6 .4,.7 .5,.7 .4,.6 .4,.7 .5,.7 .4,.6 .5,.7 .4,.6 .5,.7 .5,.6 .4,.7 .5,.7 .5,.6 .4,.7 .5,.6 .5,.7 .5,.6 .5,.7 .5,.6 .5,.6 .5,.7 .5,.6 .5,.6 .5,.6 .5,.6 .5,.6 .5,.6 .6,.6 .5,.6 .5,.6 .6,.6 .5,.5 .6,.6 .5,.6 .6,.5 .6,.6 .6,.5 .5,.6 .6,.6 .6,.5 .6,.5 .6,.6 .6,.5 .6,.5 .6,.5 .6,.5 .7,.5 .6,.5 .6,.5 .6,.5 .7,.5 .6,.5 .6,.5 .7,.5 .6,.5 .6,.5 .7,.5 .6,.5 .7,.5 .6,.5 .7,.5 .6,.4 .7,.5 .6,.5 .7,.4 .7,.5 .6,.4 .7,.5 .6,.4 .7,.4 .7,.5 .6,.4 .7,.4 .6,.4 .7,.4 .7,.4 .7,.4 .6,.5 .7,.4 .7,.4 .7,.4 .7,.4 .6,.5 .7,.4 .7,.4 .7,.5 .7,.4 .7,.4 .7,.5 .7,.4 .7,.4 .7,.4 .7,.5 .7,.4 .7,.4 .7,.3 .7,.4 .7,.4 .7,.4 .7,.3 .8,.4 .7,.4 .7,.3 .7,.4 .7,.4 .7,.3 .8,.4 .7,.4 .7,.3 .7,.4 .8,.3 .7,.4 .7,.3 .7,.3 .8,.4 .7,.3 .7,.3 .8,.4 .7,.3 .7,.3 .8,.3 .7,.4 .7,.3 .8,.3 .7,.3 .8,.2 .7,.3 .7,.3 .8,.3 .7,.2 .8,.3 .7,.3 .7,.2 .8,.3 .7,.3 .8,.3 .7,.3 .7,.3 .8,.3 .7,.3 .8,.3 .7,.3 .8,.3 .8,.2 .7,.3 .8,.2 .7,.2 .8,.3 .7,.2 .8,.2 .8,.2 .7,.2 .8,.2 .8,.2 .7,.1 .8,.2 .8,.2 .8,.1 .7,.1 .8,.2 .8,.1 .8,.2 .7,.2 .8,.1 .8,.3 .8,.2 .8,.2 .8,.2 .7,.2 .8,.2 .8,.2 .8,.2 .8,.2 .8,.1 .7,.2 .8,.2 .8,.2 .8,.2 .8,.2 .8,.2 .8,.2 .8,.1 .7,.2 .8,.1 .8,.2 .8,.1 .8,.1 .8,.1 .8,.2 .8,.1 .7,.2 .8,.1 .8,.2 .8,.1 .8,.2 .8,.1 .8,.2 .7,.1 .8,.1 .8,.1 .8,.1 .8,.1 .8,.2 .8,.1 .7,.2 .8,.2 .8,.2 .8,.2 .8,.2 .8,.2 .8,.2 .8,.2 .7,.2 .8,.3 .8,.2 .8,.2 .8,.1 .8,.2 .8,.1 .8,.1 .8,.1 .8,0 .8,.1 .8,.1 .7,0 .8,0 .8,.1 .8,.1 .8,0 .8,.1 .8,.1 .8,.1 .8,.2 .8,.1 .8,.1 .8,.1 .8,0 .8,.1 .8,.1 .8,0 .8,.1 .8,.1 .7,.1 .8,.1 .8,.1 .8,.2 .8,.2 .8,.1 .8,.2 .8,.1 .8,.1 .8,.1 .8,0 .8,0 .8,0 .8,0 .8,0 .8,-.1 .8,0 .8,.1 .8,0 .8,.1 .8,.1 .7,.1 .8,.1 .8,.1 .8,.1 .8,0 .8,0 .8,0 .8,0 .8,0 .8,0 .8,0 .8,.1 .8,.1 .8,.1 .8,.2 .8,.1 .8,.2 .8,.2 .8,.2 .8,.1 .8,.1 .8,.1 .8,0 .8,0 .8,0 .8,-.1 .8,-.1 .8,0 .8,0 .8,-.1 .8,0 .8,0 .8,0 .7,0 .8,0 .8,0 .8,0 .8,0 .8,.1 .8,0 .8,.1 .8,.1 .8,.1 .8,.1 .8,.2 .8,.2 .8,.1 .8,.2 .8,.1 .8,.1 .8,.1 .8,0 .8,0 .8,-.1 .8,-.1 .8,0 .8,-.1 .8,-.1 .8,0 .8,-.1 .8,.1 .8,0 .8,.1 .8,.1 .8,.2 .8,.1 .8,.2 .8,.1 .8,.2 .8,.1 .8,.1 .8,.1 .8,.1 .8,.1 .8,.1 .8,.1 .8,.1 .8,0 .8,0 .8,0 .8,-.1 .8,-.2 .8,-.2 .8,-.2 .8,-.1 .8,-.2 .8,-.1 .8,0 .8,0 .8,.1 .8,.1 .8,.2 .8,.2 .8,.3 .8,.1 .8,.2 .8,.1 .8,.1 .8,0 .8,-.1 .8,-.1 .8,-.1 .8,-.1 .8,-.1 .8,-.2 .7,-.1 .8,-.2 .8,-.2 .8,-.1 .8,-.1 .8,-.1 .8,-.1 .8,-.1 .8,0 .8,.1 .8,.1 .8,.1 .8,.2 .8,.3 .8,.2 .8,.3 .8,.2 .8,.2 .8,.2 .8,.1 .8,.1 .8,.1 .8,.1 .8,.1 .8,.1 .8,0 .8,0 .8,.1 .8,0 .8,-.1 .8,0 .8,0 .8,0 .8,0 .8,0 .8,-.1 .8,0 .8,0 .8,0 .8,.1 .8,0 .8,0 .8,.1 .8,0 .8,-.1 .8,0 .8,-.1 .8,0 .8,0 .8,0 .8,0 .8,0 .8,.1 .8,0 .8,.1 .8,0 .8,.1 .8,0 .8,0 .8,0 .8,0 .8,0 .8,0 .8,-.1 .8,0 .8,0 .8,0 .8,.1 .8,.1 .8,.1 .8,.1 .8,.1 .8,.1 .8,.2 .8,.1 .8,.2 .8,.2 .8,.1 .8,.1 .8,0 .7,0 .8,0 .8,-.1 .8,-.1 .8,-.1 .8,-.1 .8,-.1 .8,-.2 .8,0 .8,-.1 .8,0 .8,0 .8,.1 .8,0 .8,.1 .8,.1 .8,0 .8,0 .8,0 .8,.1 .8,0 .8,0 .8,0 .8,0 .8,0 .8,0 .8,.1 .8,0 .8,.1 .8,.1 .8,.1 .8,0 .8,.1 .8,0 .8,.1 .8,0 .8,.1 .8,0 .8,0 .8,0 .8,0 .8,0 .8,0 .8,0 .8,.1 .8,.1 .8,.1 .8,.1 .8,.1 .8,.1 .8,.1 .8,0 .8,.1 .8,0 .8,0 .8,0 .8,-.1 .8,0 .8,-.1 .8,-.1 .8,0 .8,-.1 .8,0 .8,.1 .8,0 .8,.1 .8,0 .8,0 .8,.1 .8,0 .8,0 .8,0 .8,0 .8,0 .8,-.1 .8,0 .8,-.1 .8,-.1 .8,-.1 .8,-.1 .8,0 .8,-.1 .8,0 .8,0 .8,0 .8,.1 .8,0 .8,0 .8,0 .8,0 .8,.1 .8,0 .8,0 .8,.1 .7,0 .8,0 .8,0 .8,.1 .8,0 .8,.1 .8,.2 .8,.2 .8,.1 .8,.2 .8,.2 .8,.2 .8,.1 .8,.2 .8,.1 .8,.1 .8,.1 .8,0 .8,0 .8,-.1 .8,-.1 .8,-.1 .8,-.2 .8,-.1 .8,-.2 .8,-.1 .8,-.2 .8,0 .8,-.1 .8,0 .8,-.1 .8,.1 .8,0 .8,.1 .8,.1 .8,.1 .8,.1 .8,0 .8,0 .8,0 .8,-.1 .8,-.1 .8,-.1 .8,-.1 .8,-.1 .8,-.1 .8,-.1 .8,-.1 .8,0 .8,0 .8,0 .8,.1 .8,.1 .8,0 .8,.1 .8,0 .8,.1 .8,0 .8,0 .8,0 .8,0 .8,0 .8,.1 .8,0 .8,0 .8,.1 .8,0 .8,0 .8,0 .8,0 .8,-.1 .8,0 .8,0 .8,-.1 .8,-.1 .8,0 .8,-.1 .8,0 .8,0 .8,.1 .8,0 .8,0 .8,.1 .8,0 .8,0 .8,.1 .8,.1 .8,0 .8,.2 .8,.1 .8,.2 .8,.2 .8,.1 .8,.2 .8,.1 .8,0 .8,.1 .8,0 .8,0 .8,0 .8,0 .8,0 .8,-.1 .8,0 .8,-.1 .8,0 .8,.1 .8,0 .8,.1 .8,.1 .8,0 .8,.1 .8,0 .8,-.1 .7,0 .8,-.1 .8,-.1 .8,-.2 .8,-.1 .8,-.1 .8,-.1 .8,-.1 .8,0 .8,0 .8,0 .8,.2 .8,.1 .8,.2 .8,.1 .8,.1 .8,.1 .8,0 .8,-.1 .8,-.1 .8,-.2 .8,-.2 .8,-.2 .8,-.2 .8,-.2 .8,-.1 .8,0 .8,-.1 .8,.1 .8,.1 .8,.1 .8,.1 .8,.2 .8,.1 .8,.2 .8,.1 .8,0 .8,.1 .8,0 .8,0 .8,-.1 .8,0 .8,0 .8,-.1 .8,0 .8,-.1 .8,0 .8,0 .8,.1 .8,0 .8,.1 .8,.1 .8,.1 .8,.1 .8,.1 .8,.1 .8,0 .8,0 .8,0 .8,-.1 .8,0 .8,0 .8,0 .8,-.1 .8,0 .8,0 .8,-.1 .8,0 .8,-.1 .8,-.1 .8,-.1 .8,-.1 .8,-.1 .8,-.1 .8,-.1 .8,-.1 .8,0 .8,-.1 .8,0 .8,0 .8,.1 .8,0 .8,.1 .8,.1 .8,.1 .8,.1 .8,.2 .8,.1 .8,.2 .8,.1 .8,.2 .8,.1 .8,0 .8,0 .8,0 .8,-.1 .8,-.2 .8,-.2 .8,-.3 .8,-.2 .8,-.3 .8,-.2 .8,-.2 .8,0 .8,-.1 .8,0 .8,.1 .8,.1 .8,.1 .8,.2 .8,.1 .8,.2 .8,.1 .8,.1 .8,.1 .8,0 .8,.1 .8,.1 .8,.1 .8,0 .8,.1 .8,0 .8,0 .7,-.1 .8,-.1 .8,-.1 .8,-.2 .8,-.2 .8,-.2 .8,-.2 .8,-.2 .8,-.1 .8,-.1 .8,-.1 .8,0 .8,.1 .8,0 .8,.1 .8,.1 .8,.1 .8,.1 .8,.1 .8,.1 .8,.1 .8,.1 .8,.1 .8,.1 .8,.1 .8,0 .8,.1 .8,0 .8,.1 .8,0 .8,.1 .8,0 .8,0 .8,.1 .8,0 .8,0 .8,0 .8,0 .8,0 .8,0 .8,0 .8,-.1 .8,-.1 .8,-.1 .8,-.1 .8,-.1 .8,-.1 .8,-.1 .8,0 .8,0 .8,0 .8,.1 .8,.1 .8,.1 .8,.1 .8,.1 .8,0 .8,.1 .8,0 .8,.1 .8,0 .8,0 .8,0 .8,0 .8,0 .8,0 .8,0 .8,-.1 .8,0 .8,0 .8,0 .8,-.1 .8,0 .8,-.1 .8,0 .8,0 .8,0 .8,0 .8,0 .8,0 .8,0 .8,.1 .8,0 .8,0 .8,0 .8,0 .8,0 .8,0 .8,0 .8,0 .8,.1 .8,0 .8,.1 .8,.1 .8,.1 .8,.1 .8,.2 .8,.1 .8,.1 .8,0 .8,0 .8,.1 .8,0 .8,0 .8,-.1 .8,0 .8,-.1 .8,0 .8,-.1 .8,-.1 .8,-.1 .8,-.1 .8,-.1 .8,0 .8,-.1 .8,0 .8,0 .8,0 .8,0 .8,.1 .7,0 .8,.1 .8,.1 .8,0 .8,.1 .8,0 .8,-.1 .8,0 .8,0 .8,0 .8,-.1 .8,0 .8,.1 .8,0 .8,0 .8,.1 .8,.1 .8,0 .8,0 .8,.1 .8,0 .8,0 .8,0 .8,0 .8,0 .8,0 .8,0 .8,.1 .8,0 .8,0 .8,0 .8,0 .8,0 .8,0 .8,0 .8,0 .8,0 .8,0 .8,0 .8,.1 .8,0 .8,.1 .8,0 .8,.1 .8,.1 .8,0 .8,.1 .8,0 .8,-.1 .8,-.1 .8,-.1 .8,-.1 .8,-.2 .8,0 .8,-.1 .8,0 .8,.1 .8,.1 .8,.1 .8,.1 .8,.2 .8,.3 .8,.2 .8,.2 .8,.3 .8,.1 .8,.2 .8,0 .8,0 .8,-.1 .8,-.1 .8,-.1 .8,-.2 .8,-.1 .8,-.2 .8,-.2 .8,-.2 .8,-.2 .8,-.2 .8,-.2 .8,-.1 .8,-.1 .8,-.1 .8,0 .8,0 .8,0 .8,.1 .8,.1 .8,.1 .8,.1 .8,.2 .8,.2 .8,.1 .8,.2 .8,0 .8,.1 .8,0 .8,-.1 .8,0 .8,-.1 .8,-.1 .8,0 .8,-.1 .8,0 .8,-.1 .8,-.1 .8,0 .8,-.1 .8,0 .8,-.1 .8,-.1 .8,0 .8,-.1 .8,-.1 .8,-.1 .8,-.1 .8,0 .8,-.1 .8,-.1 .7,0 .8,0 .8,-.1 .8,0 .8,.1 .8,0 .8,.1 .8,.1 .8,.2 .8,.1 .8,.1 .8,0 .8,0 .8,.1 .8,-.1 .8,0 .8,-.1 .8,-.1 .8,-.1 .8,-.1 .8,-.1 .8,0 .8,0 .8,0 .8,0 .8,0 .8,.1 .8,.1 .8,.2 .8,.1 .8,.2 .8,.2 .8,.2 .8,.2 .8,.1 .8,.1 .8,0 .8,0 .8,-.2 .8,-.1 .8,-.2 .8,-.2 .8,-.3 .8,-.2 .8,-.1 .8,-.1 .8,-.1 .8,0 .8,0 .8,.1 .8,.1 .8,0 .8,.1 .8,.1 .8,.1 .8,.1 .8,.1 .8,0 .8,0 .8,-.1 .8,0 .8,0"/>
<path d="M1438,49.6l0,.8 0,.8 .1,.8 0,.8 0,.8 0,.8 .1,.8 0,.8 0,.8 0,.8 0,.8 .1,.8 0,.8 0,.8 0,.8 0,.8 .1,.8 0,.8 0,.8 0,.8 0,.8 0,.8 .1,.8 0,.8 0,.8 0,.8 0,.8 0,.8 .1,.8 0,.8 0,.8 0,.8 0,.8 .1,.8 0,.8 0,.8 0,.8 0,.8 0,.8 0,.8 .1,.8 0,.8 0,.8 0,.8 0,.8 0,.8 .1,.8 0,.8 0,.8 0,.8 0,.8 0,.8 .1,.8 0,.8 0,.8 0,.8 0,.8 0,.8 .1,.8 0,.8 0,.8 0,.8 0,.8 0,.8 .1,.8 0,.8 0,.8 0,.8 0,.8 .1,.8 0,.8 0,.8 0,.8 0,.8 .1,.8 0,.8 0,.8 0,.8 0,.8 0,.8 .1,.8 0,.8 0,.8 0,.8 0,.8 .1,.8 0,.8 0,.8 0,.8 0,.8 .1,.8 0,.8 0,.8 0,.8 0,.8 .1,.8 0,.8 0,.8 0,.8 0,.8 .1,.8 0,.8 0,.8 0,.8 0,.8 .1,.8 0,.8 0,.8 0,.8 0,.8 .1,.8 0,.8 0,.8 0,.8 0,.8 0,.8 .1,.8 0,.8 0,.8 0,.8 0,.8 .1,.8 0,.8 0,.8 0,.8 0,.8 .1,.8 0,.8 0,.8 0,.8 0,.8 0,.8 .1,.8 0,.8 0,.8 0,.8 0,.8 0,.8 .1,.8 0,.8 0,.8 0,.8 0,.8 0,.8 0,.8 .1,.8 0,.8 0,.8 0,.8 0,.8 0,.8 .1,.8 0,.8 0,.8 0,.8 0,.8 0,.8 0,.8 .1,.8 0,.8 0,.8 0,.8 0,.8 0,.8 .1,.8 0,.8 0,.8 0,.8 0,.8 0,.8 0,.8 .1,.8 0,.8 0,.8 0,.8 0,.8 0,.8 0,.8 0,.8 .1,.8 0,.8 0,.8 0,.8 0,.8 0,.8 0,.8 .1,.8 0,.8 0,.8 0,.8 0,.8 0,.8 0,.8 .1,.8 0,.8 0,.8 0,.8 0,.8 0,.8 0,.8 .1,.8 0,.8 0,.8 0,.8 0,.8 0,.8 0,.8 0,.8 .1,.8 0,.8 0,.8 0,.8 0,.8 0,.8 0,.8 .1,.8 0,.8 0,.8 0,.8 0,.8 0,.8 0,.8 .1,.8 0,.8 0,.8 0,.8 0,.8 0,.8 0,.8 .1,.8 0,.8 0,.8 0,.8 0,.8 0,.8 .1,.8 0,.8 0,.8 0,.8 0,.8 0,.8 0,.8 .1,.8 0,.8 0,.8 0,.8 0,.8 0,.8 .1,.8 0,.8 0,.8 0,.8 0,.8 0,.8 .1,.8 0,.8 0,.8 0,.8 0,.8 0,.8 0,.8 .1,.8 0,.8 0,.8 0,.8 0,.8 0,.8 0,.8 .1,.8 0,.8 0,.8 0,.8 0,.8 0,.8 0,.8 .1,.8 0,.8 0,.8 0,.8 0,.8 0,.8 0,.8 0,.8 .1,.8 0,.8 0,.8 0,.8 0,.8 0,.8 0,.8 0,.8 0,.8 0,.8 .1,.8 0,.8 0,.8 0,.8 0,.8 0,.8 0,.8 0,.8 0,.8 0,.8 0,.8 0,.8 .1,.8 0,.8 0,.8 0,.8 0,.8 0,.8 0,.8 0,.8 0,.8 0,.8 0,.8 0,.8 0,.8 0,.8 .1,.8 0,.8 0,.8 0,.8 0,.8 0,.8 0,.8 0,.8 0,.8 0,.8 0,.8 0,.8 0,.8 0,.8 .1,.8 0,.8 0,.8 0,.8 0,.8 0,.8 0,.8 0,.8 0,.8 0,.8 0,.8 .1,.8 0,.8 0,.8 0,.8 0,.8 0,.8 0,.8 0,.8 0,.8 0,.8 .1,.8 0,.8 0,.8 0,.8 0,.8 0,.8 0,.8 .1,.8 0,.8 0,.8 0,.8 0,.8 0,.8 0,.8 .1,.8 0,.8 0,.8 0,.8 0,.8 0,.8 .1,.8 0,.8 0,.8 0,.8 0,.8 0,.8 .1,.8 0,.8 0,.8 0,.8 0,.8 .1,.8 0,.8 0,.8 0,.8 0,.8 .1,.8 0,.8 0,.8 0,.8 0,.8 .1,.8 0,.8 0,.8 0,.8 .1,.8 0,.8 0,.8 0,.8 .1,.8 0,.8 0,.8 0,.8 .1,.8 0,.8 0,.8 0,.8 .1,.8 0,.8 0,.8 0,.8 .1,.8 0,.8 0,.8 0,.8 0,.8 .1,.8 0,.8 0,.8 0,.8 .1,.8 0,.8 0,.8 0,.8 .1,.8 0,.8 0,.8 .1,.8 0,.8 0,.8 .1,.8 0,.8 .1,.8 0,.8 0,.8 .1,.8 0,.8 .1,.8 .1,.8 0,.8 .1,.8 .1,.8 .1,.8 0,.8 .1,.8 .1,.8 .1,.8 .1,.8 .1,.8 .1,.8 .1,.8 .1,.8 .1,.8 .1,.8 .1,.8 .1,.8 .1,.8 .1,.7 .1,.8 .1,.8 .1,.8 .1,.8 .1,.8 .1,.8 .2,.8 .1,.8 .1,.8 .1,.8 .2,.7 .1,.8 .2,.8 .1,.8 .1,.8 .2,.8 .1,.8 .2,.8 .1,.7 .2,.8 .1,.8 .1,.8 .2,.8 .1,.8 .2,.8 .1,.8 .2,.7 .1,.8 .2,.8 .1,.8 .1,.8 .2,.8 .1,.8 .2,.8 .1,.8 .2,.7 .1,.8 .2,.8 .1,.8 .1,.8 .2,.8 .2,.8 .1,.7 .2,.8 .1,.8 .2,.8 .1,.8 .2,.8 .2,.7 .2,.8 .1,.8 .2,.8 .2,.8 .2,.7 .1,.8 .2,.8 .2,.8 .2,.8 .2,.7 .2,.8 .2,.8 .2,.8 .2,.7 .2,.8 .2,.8 .3,.7 .2,.8 .2,.8 .2,.8 .2,.7 .3,.8 .2,.8 .2,.7 .3,.8 .2,.8 .2,.7 .3,.8 .2,.7 .3,.8 .2,.8 .3,.7 .2,.8 .3,.7 .3,.8 .2,.7 .3,.8 .3,.7 .3,.8 .3,.7 .3,.8 .2,.7 .3,.8 .3,.7 .3,.8 .3,.7 .3,.7 .3,.8 .3,.7 .3,.8 .3,.7 .4,.8 .3,.7 .3,.7 .3,.8 .3,.7 .3,.7 .3,.8 .3,.7 .3,.8 .3,.7 .4,.7 .3,.8 .3,.7 .3,.8 .3,.7 .4,.7 .3,.8 .3,.7 .4,.7 .3,.7 .3,.8 .4,.7 .3,.7 .4,.7 .3,.7 .4,.7 .4,.8 .3,.7 .4,.6 .4,.7 .4,.7 .4,.7 .4,.7 .4,.7 .4,.7 .4,.7 .5,.6 .4,.7 .4,.7 .5,.7 .4,.6 .4,.7 .5,.7 .5,.7 .4,.6 .5,.7 .4,.6 .5,.7 .5,.6 .5,.7 .5,.6 .4,.7 .5,.6 .5,.6 .5,.7 .5,.6 .5,.6 .5,.6 .5,.7 .5,.6 .6,.6 .5,.6 .5,.5 .5,.6 .6,.6 .5,.6 .6,.5 .5,.6 .6,.6 .6,.5 .5,.6 .6,.6 .6,.5 .6,.6 .6,.5 .6,.6 .6,.5 .6,.6 .6,.5 .6,.5 .6,.6 .6,.5 .6,.5 .6,.6 .6,.5 .6,.5 .6,.5 .6,.5 .6,.6 .6,.5 .6,.5 .6,.5 .7,.5 .6,.5 .6,.6 .6,.5 .7,.5 .6,.5 .6,.5 .7,.4 .6,.5 .7,.5 .6,.4 .7,.5 .6,.4 .7,.5 .7,.4 .6,.4 .7,.5 .7,.4 .6,.4 .7,.4 .7,.4 .7,.5 .7,.4 .7,.4 .7,.4 .7,.3 .7,.4 .7,.4 .7,.4 .7,.3 .7,.4 .7,.4 .7,.4 .7,.4 .7,.4 .7,.4 .7,.4 .7,.4 .7,.4 .7,.4 .7,.4 .7,.4 .7,.4 .7,.3 .7,.4 .8,.3 .7,.4 .7,.3 .7,.4 .7,.3 .7,.4 .7,.3 .8,.4 .7,.3 .7,.4 .7,.3 .7,.4 .8,.3 .7,.4 .7,.3 .7,.4 .8,.3 .7,.4 .7,.3 .7,.3 .8,.4 .7,.3 .7,.3 .7,.4 .8,.3 .7,.3 .7,.3 .8,.3 .7,.4 .7,.3 .8,.3 .7,.3 .7,.3 .8,.3 .7,.3 .7,.3 .8,.2 .7,.3 .7,.3 .8,.3 .7,.3 .8,.3 .7,.3 .7,.3 .8,.3 .7,.3 .8,.3 .7,.3 .8,.3 .7,.3 .8,.3 .7,.3 .8,.3 .7,.2 .8,.3 .7,.3 .8,.2 .7,.2 .8,.3 .7,.2 .8,.3 .7,.2 .8,.3 .7,.3 .8,.3 .8,.3 .7,.3 .8,.4 .7,.3 .8,.3 .8,.3 .7,.3 .8,.3 .7,.2 .8,.3 .8,.2 .7,.2 .8,.2 .8,.3 .7,.2 .8,.2 .8,.2 .7,.3 .8,.2 .8,.2 .7,.3 .8,.2 .8,.2 .7,.2 .8,.1 .8,.2 .7,.2 .8,.2 .8,.2 .8,.1 .7,.2 .8,.2 .8,.2 .7,.2 .8,.2 .8,.3 .8,.2 .7,.2 .8,.2 .8,.3 .8,.2 .7,.2 .8,.2 .8,.3 .8,.2 .7,.2 .8,.2 .8,.2 .8,.2 .8,.2 .7,.2 .8,.2 .8,.2 .8,.2 .8,.2 .8,.1 .7,.1 .8,.1 .8,.1 .8,.1 .8,.1 .8,.1 .8,.1 .8,.1 .7,.1 .8,.1 .8,.2 .8,.2 .8,.2 .8,.2 .8,.2 .8,.2 .8,.2 .8,.1 .7,.2 .8,.1 .8,.1 .8,0 .8,.1 .8,.1 .8,0 .8,.1 .8,.1 .8,.1 .8,.1 .8,.2 .7,.1 .8,.1 .8,.2 .8,.1 .8,.1 .8,.1 .8,.1 .8,0 .8,0 .8,.1 .7,.1 .8,0 .8,.2 .8,.1 .8,.2 .8,.2 .8,.2 .8,.3 .8,.2 .8,.3 .8,.2 .7,.2 .8,.1 .8,.1 .8,.1 .8,0 .8,0 .8,-.1 .8,0 .8,-.1 .8,0 .8,-.1 .8,0 .8,.1 .8,.1 .7,.1 .8,.1 .8,.2 .8,.3 .8,.2 .8,.2 .8,.3 .8,.2 .8,.2 .8,.1 .8,.2 .8,0 .8,.1 .8,0 .8,0 .8,-.1 .8,0 .7,.1 .8,0 .8,.1 .8,.2 .8,.1 .8,.2 .8,.1 .8,.2 .8,.1 .8,.1 .8,0 .8,0 .8,0 .8,0 .8,-.1 .8,0 .8,-.1 .8,-.1 .7,0 .8,0 .8,0 .8,.1 .8,.1 .8,.1 .8,.1 .8,.2 .8,.1 .8,.2 .8,.2 .8,.1 .8,.2 .8,.3 .8,.2 .8,.2 .8,.2 .8,.2 .8,.2 .7,.1 .8,.2 .8,.1 .8,.2 .8,.1 .8,0 .8,.1 .8,.1 .8,0 .8,.1 .8,0 .8,.1 .8,0 .8,.1 .8,0 .8,.1 .8,0 .8,.1 .8,.1 .8,0 .8,.1 .8,0 .7,0 .8,.1 .8,0 .8,0 .8,0 .8,0 .8,0 .8,0 .8,0 .8,.1 .8,0 .8,.1 .8,.1 .8,.1 .8,.2 .8,.1 .8,.1 .8,.1 .8,.1 .8,0 .8,.1 .8,0 .8,0 .8,-.1 .8,0 .7,0 .8,0 .8,.1 .8,0 .8,.1 .8,.1 .8,.1 .8,.2 .8,.1 .8,.1 .8,.2 .8,.1 .8,0 .8,.1 .8,.1 .8,0 .8,0 .8,.1 .8,0 .8,.1 .8,.1 .8,0 .8,.1 .8,.1 .8,.1 .8,.1 .8,.1 .8,0 .8,0 .8,0 .8,0 .7,0 .8,0 .8,-.1 .8,0 .8,0 .8,0 .8,0 .8,.1 .8,0 .8,0 .8,.1 .8,.1 .8,.1 .8,.1 .8,.2 .8,.1 .8,.1 .8,.1 .8,.2 .8,.1 .8,0 .8,.1 .8,0 .8,.1 .8,-.1 .8,0 .8,.1 .8,0 .8,.1 .8,.2 .8,.2 .8,.2 .8,.2 .8,.2 .8,.2 .8,.2 .8,.1 .8,0 .8,.1 .8,-.1 .8,0 .8,-.2 .7,-.1 .8,-.1 .8,-.2 .8,-.1 .8,0 .8,-.1 .8,0 .8,.1 .8,.1 .8,.2 .8,.1 .8,.2 .8,.2 .8,.2 .8,.2 .8,.3 .8,.2 .8,.1 .8,.2 .8,.1 .8,.1 .8,0 .8,0 .8,0 .8,0 .8,-.1 .8,-.1 .8,-.1 .8,-.1 .8,-.1 .8,-.2 .8,-.1 .8,-.1 .8,-.1 .8,-.1 .8,0 .8,0 .8,0 .8,.1 .8,.1 .8,.1 .8,.1 .8,.1 .8,.1 .8,0 .8,.1 .8,-.1 .8,0 .8,-.1 .8,0 .8,-.1 .8,-.1 .8,-.1 .8,-.1 .8,0 .8,0 .8,0 .8,0 .8,0 .8,.1 .8,.1 .8,.1 .8,.1 .8,.2 .8,.2 .8,.1 .8,.2 .8,.1 .8,.1 .8,.1 .8,0 .8,0 .8,0 .8,0 .8,-.1 .8,0 .8,0 .8,0 .8,.1 .8,0 .8,.1 .8,.1 .8,0 .8,.1 .8,0 .8,0 .8,0 .8,0 .8,0 .7,0 .8,0 .8,-.1 .8,0 .8,0 .8,0 .8,0 .8,0 .8,0 .8,.1 .8,0 .8,0 .8,.1 .8,0 .8,0 .8,0 .8,0 .8,0 .8,0 .8,-.1 .8,0 .8,-.1 .8,-.1 .8,0 .8,-.1 .8,-.1 .8,-.1 .8,0 .8,0 .8,0 .8,0 .8,0 .8,.1 .8,0 .8,.1 .8,0 .8,.1 .8,0 .8,.1 .8,.1 .8,.1 .8,.1 .8,.2 .8,.1 .8,.2 .8,.2 .8,.2 .8,.2 .8,.2 .8,.1 .8,.1 .8,0 .8,0 .8,0 .8,-.1 .8,-.2 .8,-.1 .8,0 .8,-.1 .8,0 .8,0 .8,.1 .8,.1 .8,0 .8,.1 .8,0 .8,.1 .8,0 .8,-.1 .8,0 .8,-.1 .8,-.1 .8,-.1 .8,-.1 .8,-.1 .8,-.2 .8,-.1 .8,-.1 .8,0 .8,-.1 .8,-.1 .8,0 .8,-.1 .8,0 .8,-.1 .8,0 .8,0 .8,.1 .8,0 .8,0 .8,.1 .8,.1 .8,.1 .8,.1 .8,0 .8,.1 .8,.1 .8,0 .8,0 .8,.1 .8,0 .8,.1 .8,0 .8,.1 .8,.1 .8,.2 .8,.1 .8,.1 .8,0 .8,.1 .8,0 .8,0 .8,-.1 .8,0 .8,-.1 .8,-.1 .8,-.1 .8,0 .8,0 .8,.1 .8,.1 .8,.1 .8,.1 .8,.1 .8,.1 .8,0 .8,0 .8,0 .8,-.1 .8,0 .8,-.1 .8,-.2 .8,-.1 .8,-.2 .8,-.1 .8,-.2 .8,-.1 .8,-.2 .8,-.1 .8,0 .8,0 .8,0 .8,0 .8,0 .8,.1 .8,.1 .8,.1 .8,.1 .8,.1 .8,.1 .8,.1 .8,0 .8,0 .8,-.1 .7,-.1 .8,-.1 .8,-.2 .8,-.1 .8,-.2 .8,-.2 .8,-.1 .8,-.1 .8,-.1 .8,0 .8,.1 .8,.1 .8,.1 .8,.2 .8,.2 .8,.1 .8,.1 .8,.1 .8,0 .8,0 .8,-.1 .8,-.1 .8,-.1 .8,-.1 .8,-.1 .8,-.1 .8,-.1 .8,-.1 .8,-.1 .8,0 .8,0 .8,0 .8,0 .8,0 .8,0 .8,0 .8,.1 .8,.1 .8,0 .8,.1 .8,.1 .8,.1 .8,.2 .8,.1 .8,.2 .8,.1 .8,.1 .8,.1 .8,.1 .8,0 .8,0 .8,0 .8,0 .8,-.1 .8,0 .8,-.1 .8,-.2 .8,-.1 .8,-.1 .8,-.1 .8,-.1 .8,-.1 .8,0 .8,0 .8,0 .8,0 .8,.1 .8,0 .8,.1 .8,0 .8,.1 .8,0 .8,.1 .8,0 .8,-.1 .8,0 .8,-.1 .8,-.1 .8,-.1 .8,0 .8,-.1 .8,0 .8,-.1 .8,0 .8,-.1 .8,-.1 .8,-.1 .8,0 .8,-.1 .8,0 .8,0 .8,0 .8,0 .8,.1 .8,0 .8,.2 .8,.2 .8,.2 .8,.2 .8,.2 .8,.2 .8,.2 .8,.1 .8,.1 .8,0 .8,.1 .8,-.1 .8,0 .8,-.1 .8,-.1 .8,-.2 .8,-.1 .8,-.2 .8,-.1 .8,0 .8,0 .8,0 .8,0 .8,.1 .8,0 .8,.1 .8,0 .8,0 .8,0 .8,0 .8,0 .8,-.1 .8,-.2 .8,-.1 .8,-.1 .8,-.1 .8,-.1 .8,-.1 .8,0 .8,0 .8,0 .8,.1 .8,.1 .8,.1 .8,.1 .8,.1 .8,.1 .8,.1 .8,.1 .8,0 .8,.1 .8,0 .8,0 .8,.1 .8,0 .8,.1 .8,.1 .8,.1 .8,0 .8,0 .8,0 .8,0 .8,-.1 .8,-.2 .8,-.1 .7,-.2 .8,-.2 .8,-.2 .8,-.2 .8,-.2 .8,-.1 .8,0 .8,0 .8,0 .8,.1 .8,.1 .8,.1 .8,.1 .8,.2 .8,.1 .8,.2 .8,.1 .8,0 .8,.1 .8,0 .8,-.1 .8,-.1 .8,-.1 .8,-.1 .8,-.1 .8,-.1 .8,0 .8,0 .8,0 .8,0 .8,.1 .8,.1 .8,0 .8,.1 .8,0 .8,0 .8,0 .8,0 .8,0 .8,.1 .8,0 .8,0 .8,0 .8,.1 .8,0 .8,0 .8,.1 .8,0 .8,0 .8,0 .8,-.1 .8,0 .8,-.1 .8,-.2 .8,-.1 .8,-.1 .8,0 .8,-.1 .8,0 .8,-.1 .8,0 .8,0 .8,.1 .8,0 .8,.1 .8,.1 .8,.1 .8,.1 .8,.1 .8,.1 .8,0 .8,.1 .8,0 .8,0 .8,0 .8,0 .8,0 .8,0 .8,0 .8,0 .8,0 .8,0 .8,.1 .8,.1 .8,0 .8,.1 .8,0 .8,.1 .8,.1 .8,0 .8,0 .8,0 .8,0 .8,0 .8,-.1 .8,0 .8,0 .8,0 .8,-.1 .8,0 .8,0 .8,0 .8,0 .8,0 .8,-.1 .8,-.1 .8,0 .8,-.1 .8,-.1 .8,-.1 .8,-.1 .8,0 .8,-.1 .8,0 .8,.1 .8,0 .8,.1 .8,.1 .8,.1 .8,.1 .8,0 .8,0 .8,-.1 .8,-.1 .8,-.2 .8,-.1 .8,-.2 .8,-.2 .8,-.2 .8,-.1 .8,-.1 .8,0 .8,0 .8,0 .8,0 .8,.1 .8,.1 .8,0 .8,.1 .8,.1 .8,.1 .8,0 .8,.1 .8,0 .8,0 .8,0 .8,.1 .8,0 .8,-.1 .8,.1 .8,0 .8,0 .8,.1 .8,0 .8,0 .8,.1 .8,0 .8,.1 .8,.1 .7,0 .8,.1 .8,.1 .8,0 .8,.1 .8,.1 .8,.1 .8,.1 .8,.1 .8,.1 .8,0 .8,.1 .8,0 .8,-.1 .8,0 .8,-.2 .8,-.1 .8,-.1 .8,-.1 .8,-.1 .8,-.1 .8,0 .8,-.1 .8,-.1 .8,0 .8,-.1 .8,0 .8,0 .8,0 .8,0 .8,0 .8,.1 .8,0 .8,0 .8,.1 .8,0 .8,0 .8,0 .8,0 .8,0 .8,-.1 .8,-.1 .8,-.1 .8,0 .8,-.1 .8,.1 .8,0 .8,.1 .8,.1 .8,.1 .8,0 .8,0 .8,0 .8,0 .8,-.1 .8,-.1 .8,-.1 .8,-.1 .8,-.1 .8,0 .8,0 .8,0 .8,.1 .8,0 .8,.1 .8,0 .8,0 .8,.1 .8,0 .8,0 .8,0 .8,0 .8,0 .8,0 .8,0 .8,0 .8,.1 .8,0 .8,0 .8,0"/>
</g>
<path d="M1452,411.5l1,4 1,4.7 1,4.2 1,4 1,3.8 1,3.8 1,3.8 1,3.8 1,3.8 1,3.5 1,3.5 1,3.6 1,3.7 1,3.7 1,3.5 1,3.4 1,3.2 1,3.3 1,3.2 1,3.3 1,3.1 1,2.9 1,2.7 1,2.5 1,2 1,2.1 1,2 1,1.7 1,1.7 1,1.4 .9,1.7 1,1.2 1,1.8 1,1.1 1,1.6 1,2.2 1,2.1 1,1.6 1,1.7 1,1.4 1,1.3 1,1.9 1,2.2 1,.9 1,1.4 1,1.6 1,1.1 1,1.7 1,1.4 1,.9 1,1.9 1,1.3 1,1.6 1,.1 1,1.5 1,1.8 1,.4 1,.5 1,1 1,1.1 1,1.3 1,1.2 1,.6 1,.6 1,1.2 1,1 1,1.4 1,-.1 1,.5 1,.8 1,1.9 1,.4 1,.6 1,1 1,.9 1,1.1 1,.4 1,-.1 1,1.2 1,1.1 1,.4 1,.9 1,1 1,.4 1,.1 1,.9 1,.9 1,.7 1,.1 1,1.1 1,.6 1,.4 1,.4 1,.8 1,.1 1,.7 1,1.4 1,.1 1,.2 1,1 1,1 1,.3 1,.5 1,.7 1,.2 1,.6 1,.5 1,.2 1,0 1,.7 1,.9 1,.8 1,.3 1,.2 1,.2 1,.6 1,.6 1,.7 1,.1 1,.3 .9,.8 1,.4 1,.4 1,-.2 1,.3 1,.3 1,-.1 1,1.2 1,.6 1,.2 1,.8 1,0 1,.1 1,-.4 1,.4 1,1.4 1,.1 1,-.2 1,.7 1,.7 1,-.3 1,.3 1,.3 1,.1 1,.1 1,.5 1,.6 1,.3 1,.2 1,.2 1,0 1,.4 1,.1 1,0 1,.9 1,-.2 1,.5 1,-.1 1,.3 1,.2 1,.1 1,.8 1,.2 1,.2 1,.3 1,0 1,.1 1,.2 1,.2 1,.2 1,-.3 1,-.2 1,.2 1,.4 1,.2 1,-.5 1,1.4 1,-1.1 1,.1 1,.7 1,.2 1,.5 1,0 1,-.3 1,.3 1,.5 1,1.3 1,-.1 1,0 1,.7 1,.5 1,-.1 1,-.2 1,.5 1,.6 1,-.2 1,-.2 1,.1 1,.1 1,.2 1,-.1 1,.3 1,.2 1,-.1 1,.2 1,.5 1,0 1,.1 1,.2 1,-.1 .9,-.4 1,.8 1,-.2 1,.5 1,-.1 1,.1 1,.3 1,.3 1,-.7 1,.3 1,.6 1,.1 1,.1 1,-.2 1,-.6 1,-.3 1,.5 1,.6 1,.1 1,.1 1,.2 1,.2 1,-.8 1,0 1,.8 1,-.1 1,.1 1,-.3 1,.3 1,.1 1,.4 1,-.3 1,.5 1,.3 1,.4 1,-.7 1,-.1 1,.2 1,.3 1,0 1,-.2 1,.2 1,-.8 1,.2 1,.7 1,-.3 1,.3 1,-.1 1,.1 1,-.5 1,0 1,.7 1,.1 1,-.3 1,.4 1,.5 1,-.3 1,0 1,.5 1,-.5 1,-.5 1,.4 1,.4 1,-.4 1,.4 1,-.3 1,0 1,-.2 1,.7 1,-.2 1,0 1,.7 1,.2 1,.3 1,.1 1,0 1,.2 1,0 1,-.1 1,.4 1,0 1,-.5 1,-.1 1,.4 1,-.3 1,-.5 1,.2 1,-.4 1,-.2 .9,.4 1,.1 1,.3 1,.2 1,0 1,.2 1,.4 1,0 1,0 1,0 1,-.3 1,0 1,0 1,-.2 1,-.3 1,-.3 1,-.4 1,.1 1,-.1 1,0 1,.1 1,.1 1,.2 1,.1 1,.4 1,.3 1,.4 1,.2 1,-.1 1,.3 1,.2 1,.3 1,0 1,.1 1,-.1 1,-.1 1,.3 1,-.5 1,-.2 1,.4 1,-.2 1,-.2 1,.3 1,.2 1,0 1,0 1,.1 1,0 1,.1 1,-.2 1,0 1,-.4 1,0 1,.3 1,.1 1,.1 1,.1 1,-.1 1,.2 1,-.2 1,0 1,.2 1,-.1 1,0 1,-.6 1,.1 1,.4 1,.2 1,-.1 1,.2 1,.3 1,.2 1,0 1,.4 1,.2 1,-.2 1,0 1,.3 1,-.5 1,.3 1,-.1 1,-.3 1,0 1,-.3 1,0 1,-.4 1,0 1,.1 1,.4 1,.3 .9,0 1,.1 1,-.2 1,.1 1,-.3 1,-.1 1,.5 1,0 1,.1 1,-.2 1,.3 1,-.3 1,.5 1,.1 1,-.3 1,.4 1,-.9 1,.1 1,.4 1,.6 1,-.1 1,-.2 1,-.5 1,.6 1,.3 1,.4 1,-.2 1,-.2 1,.7 1,-.5 1,-.3 1,0 1,.2 1,.3 1,-.1 1,-.1 1,-.1 1,-.2 1,.2 1,0 1,.1 1,-.1 1,.1 1,.4 1,-.1 1,.2 1,-.4 1,-.4 1,.1 1,-.3 1,-.1 1,-.1 1,-.7 1,-.1 1,.3 1,.4 1,.5 1,-.9 1,.2 1,.4 1,.2 1,0 1,-.1 1,-.1 1,-.3 1,.6 1,.3 1,.2 1,-.2 1,-.4 1,.4 1,.9 1,.2 1,-.5 1,.2 1,.4 1,.8 1,-.8 1,-.4 1,-.1 1,-.1 1,.3 1,-.1 1,-.2 1,0 1,-.1 1,0 1,-.6 1,.9 .9,-.4 1,.5 1,-.3 1,-.3 1,.6 1,.2 1,-.2 1,-.2 1,-.3 1,-.2 1,0 1,.1 1,-.1 1,.2 1,-.2 1,-.4 1,.5 1,.3 1,-.4 1,-.2 1,.8 1,-.4 1,.4 1,-.1 1,-.4 1,.1 1,.5 1,-.3 1,-.2 1,.2 1,0 1,.2 1,0 1,-.2 1,-.5 1,.2 1,.1 1,.3 1,-.2 1,0 1,.2 1,.2 1,-.1 1,.1 1,.2 1,.1 1,0 1,.3 1,.4 1,.2 1,-.2 1,-.3 1,-.2 1,.7 1,-1 1,0 1,.5 1,.4 1,-.7 1,0 1,.8 1,-.4 1,.2 1,.2 1,-.2 1,0 1,-.3 1,-.5 1,.6 1,-.6 1,0 1,-.1 1,.1 1,.5 1,0 1,0 1,.1 1,.4 1,.2 1,-.3 1,.1 1,-.8 1,0 1,.1 1,-.6 1,-.3 1,0 1,.4 1,.2 1,0 .9,-.3 1,0 1,.8 1,-.4 1,-.2 1,.6 1,.4 1,-.2 1,-.4 1,-.2 1,.4 1,-.8 1,.4 1,.3 1,.1 1,-.1 1,.5 1,.1 1,-.2 1,.2 1,.2 1,-.1 1,.1 1,-.4 1,.3 1,-.3 1,.3 1,-.5 1,-.3 1,0 1,-.2 1,.1 1,.3 1,-.5 1,-.3 1,.2 1,.2 1,-.1 1,.2 1,-.2 1,.3 1,0 1,0 1,0 1,.3 1,.2 1,.1 1,0 1,.3 1,.1 1,-.2 1,-.4 1,-.7 1,0 1,0 1,-.2 1,0 1,-.3 1,.1 1,-.2 1,.5 1,-.4 1,0 1,.2 1,.7 1,-.1 1,.1 1,.2 1,-.7 1,-.3 1,1.1 1,-.2 1,0 1,0 1,-.5 1,.7 1,-1.3 1,0 1,-.2 1,-.3 1,.7 1,-.1 1,-1 1,.5 1,.3 1,-.2 1,.3 1,-.1 1,-.2 .9,.6 1,.6 1,-.3 1,-.3 1,.6 1,.1 1,.4 1,.2 1,-.2 1,.4 1,-.4 1,.2 1,-.1 1,-.3 1,.6 1,-.5 1,.2 1,.2 1,-.3 1,0 1,-.2 1,-.1 1,-.2 1,0 1,-.4 1,-.1 1,.3 1,.7 1,.2 1,-.1 1,.2 1,.1 1,-.4 1,.1 1,.3 1,0 1,-.1 1,-.1 1,0 1,-.3 1,.3 1,-.7 1,.2 1,.2 1,-.4 1,-.9 1,.7 1,.2 1,.5 1,-.6 1,-.1 1,-.3 1,0 1,.6 1,.5 1,-.4 1,-.1 1,.4 1,-.3 1,-.6 1,.2 1,.9 1,-.2 1,-.3 1,.4 1,.9 1,-.2 1,-.6 1,.3 1,.2 1,-.5 1,0 1,-.1 1,-.1 1,.5 1,-.2 1,-.3 1,-.2 1,.5 1,-.3 1,.5 1,-.4 1,.5 1,-.8 1,.6 1,.1 1,-.1 1,-.2 1,-.9 1,.2 .9,.9 1,.3 1,-.3 1,-.1 1,0 1,.1 1,.7 1,0 1,-.7 1,-.1 1,.3 1,.1 1,.1 1,.4 1,-.1 1,.1 1,-.1 1,-.1 1,-.3 1,.4 1,-.3 1,-.2 1,.3 1,.3 1,-.2 1,.5 1,-.3 1,.2 1,0 1,-.3 1,-.2 1,.2 1,-.4 1,-.1 1,.4 1,-.1 1,-.1 1,.1 1,.6 1,-.1 1,.2 1,.8 1,.1 1,0 1,.1 1,.2 1,-.3 1,-.1 1,-.1 1,-.5 1,-.4 1,0 1,-.1 1,-.2 1,-.9 1,-.2 1,.6 1,-.3 1,.4 1,0 1,.1 1,.3 1,.2 1,-.7 1,0 1,.2 1,.9 1,0 1,-.2 1,-.6 1,.5 1,-1 1,-.1 1,.9 1,-.1 1,-.6 1,-.2 1,.1 1,.3 1,.1 1,-1.1 1,-.3 1,.7 1,0 1,.2 1,0 1,-.1 1,-.5 1,.4 1,-.1 .9,.3 1,-.6 1,-.2 1,.3 1,1.1 1,-.4 1,.1 1,-.2 1,-.7 1,-.4 1,.6 1,.2 1,0 1,.3 1,-.5 1,-.3 1,.8 1,-.9 1,.2 1,1.2 1,-.1 1,.4 1,-.2 1,.7 1,-.2 1,-.5 1,0 1,0 1,0 1,-.4 1,-.5 1,-.7 1,-.2 1,1.1 1,-.9 1,.3 1,.5 1,.1 1,0 1,.2 1,.3 1,-1.2 1,.2 1,.8 1,.2 0,5.5 -1,-.5 -1,-.6 -1,.9 -1,-.8 -1,0 -1,.4 -1,-1 -1,.5 -1,-.1 -1,.2 -1,-.1 -1,-.5 -1,1.2 -1,.1 -1,-1.2 -1,.4 -1,.6 -1,.2 -1,-.2 -1,.3 -1,.1 -1,.2 -1,-.7 -1,.3 -1,-.2 -1,-1 -1,-.1 -1,.6 -1,-.8 -1,.4 -1,-.4 -1,-.1 -1,.2 -1,.4 -1,.7 -1,.5 -1,-.6 -1,-.4 -1,.3 -1,-.1 -1,-.5 -1,.5 -1,.3 -1,-.2 -.9,-.4 -1,-.3 -1,-.1 -1,-.1 -1,0 -1,0 -1,1.1 -1,-.3 -1,-.2 -1,-.1 -1,-.3 -1,.1 -1,.4 -1,0 -1,.8 -1,.3 -1,-.6 -1,-.2 -1,.4 -1,-.5 -1,.8 -1,-.3 -1,-.1 -1,-.1 -1,-.1 -1,0 -1,0 -1,0 -1,-.2 -1,-.7 -1,0 -1,-.3 -1,.5 -1,.3 -1,-.6 -1,.1 -1,.4 -1,0 -1,.4 -1,0 -1,.8 -1,.2 -1,.1 -1,.1 -1,-.3 -1,.7 -1,-.6 -1,.2 -1,-.7 -1,.1 -1,-.5 -1,-.4 -1,-.2 -1,.2 -1,0 -1,-.5 -1,-.1 -1,.2 -1,.5 -1,.4 -1,-.1 -1,-.4 -1,0 -1,.1 -1,.1 -1,-.2 -1,-.1 -1,-.2 -1,.5 -1,-.2 -1,-.5 -1,.1 -1,.4 -1,-.2 -1,-.2 -1,.1 -1,0 -1,.3 -1,.1 -1,-.5 -1,.1 -1,.1 -1,-.2 -1,-.1 -1,.1 -1,0 -1,.1 -1,0 -1,-.1 -1,.2 -.9,.1 -1,-.2 -1,-.4 -1,.7 -1,.1 -1,-.5 -1,-.1 -1,1.1 -1,-1.2 -1,.4 -1,-.8 -1,.3 -1,-.4 -1,0 -1,.4 -1,.2 -1,-.3 -1,.2 -1,-.1 -1,.3 -1,0 -1,.1 -1,.4 -1,-.2 -1,0 -1,.4 -1,-.3 -1,-.4 -1,.1 -1,.6 -1,.3 -1,-.8 -1,-.3 -1,.1 -1,-.7 -1,0 -1,-.1 -1,.7 -1,-.7 -1,.5 -1,-.3 -1,-.2 -1,0 -1,.8 -1,.4 -1,0 -1,-1.2 -1,1.1 -1,-.9 -1,.4 -1,.1 -1,-.5 -1,.2 -1,.3 -1,-.2 -1,-.2 -1,.2 -1,-.4 -1,0 -1,.1 -1,.2 -1,-.1 -1,.3 -1,-.2 -1,-.4 -1,-.4 -1,-.2 -1,0 -1,.2 -1,.5 -1,0 -1,0 -1,-.2 -1,.6 -1,0 -1,-.4 -1,.1 -1,-.1 -1,-.1 -1,.2 -1,0 -1,-.1 -1,.2 -1,-.4 -1,.2 -1,-.3 -1,.5 -1,-.1 -1,-.4 -1,-.5 -.9,.4 -1,-.5 -1,-.2 -1,0 -1,.3 -1,.4 -1,-.1 -1,-.4 -1,0 -1,.1 -1,.5 -1,.6 -1,-.4 -1,-.2 -1,.4 -1,.6 -1,.7 -1,-.3 -1,-1 -1,-.1 -1,.2 -1,-.1 -1,-.3 -1,-.3 -1,.2 -1,-.1 -1,-.4 -1,.4 -1,0 -1,-.1 -1,-.4 -1,-.1 -1,.2 -1,-.2 -1,.3 -1,.6 -1,.2 -1,.3 -1,.1 -1,-.1 -1,.2 -1,0 -1,-.4 -1,-.1 -1,-.1 -1,-.1 -1,-.5 -1,.1 -1,-.4 -1,.6 -1,.3 -1,-.1 -1,-.4 -1,.6 -1,.1 -1,-.4 -1,0 -1,.3 -1,.1 -1,-.2 -1,.3 -1,-.1 -1,-.1 -1,0 -1,0 -1,0 -1,.4 -1,0 -1,-.2 -1,-.1 -1,.3 -1,-.4 -1,.7 -1,-.4 -1,-.7 -1,-.2 -1,-.1 -1,.5 -1,.1 -1,.1 -1,0 -1,-.3 -1,0 -1,-.1 -1,.2 -1,.2 -1,0 -1,-.2 -1,-.8 -.9,-.1 -1,.5 -1,-.1 -1,-.7 -1,.3 -1,.4 -1,.3 -1,.1 -1,.1 -1,-.2 -1,.1 -1,.3 -1,-.1 -1,.5 -1,-.3 -1,-.7 -1,0 -1,.4 -1,-.1 -1,-.6 -1,.4 -1,.5 -1,.1 -1,0 -1,.2 -1,-.4 -1,.1 -1,.7 -1,-.5 -1,-.2 -1,-.1 -1,.2 -1,.7 -1,-.3 -1,-.5 -1,.9 -1,-.8 -1,.9 -1,-.1 -1,-1 -1,.1 -1,-.3 -1,.4 -1,.3 -1,-.3 -1,-.9 -1,-.4 -1,-.2 -1,.1 -1,.4 -1,-.2 -1,-.6 -1,.2 -1,.2 -1,.1 -1,-.4 -1,-.1 -1,.3 -1,-.2 -1,.3 -1,-.1 -1,0 -1,0 -1,.4 -1,.3 -1,-.4 -1,-.4 -1,.3 -1,.1 -1,-.4 -1,.1 -1,.1 -1,.2 -1,-.3 -1,-.4 -1,-.1 -1,0 -1,.2 -1,0 -1,-.1 -1,.1 -1,.2 -1,0 -1,.3 -1,.1 -1,.4 -1,-.2 -1,-.2 -1,0 -1,-.3 -.9,.4 -1,-.6 -1,.1 -1,.2 -1,-.2 -1,.7 -1,-.4 -1,.8 -1,-.4 -1,.7 -1,-.4 -1,.8 -1,-.5 -1,.8 -1,-.7 -1,.3 -1,-.7 -1,.1 -1,-.5 -1,.4 -1,0 -1,-.1 -1,-.8 -1,-.3 -1,.9 -1,0 -1,-.8 -1,-.3 -1,-.2 -1,-.2 -1,.1 -1,.4 -1,-.1 -1,.3 -1,.4 -1,-.5 -1,-.4 -1,-.4 -1,.8 -1,-.3 -1,-.2 -1,.3 -1,.3 -1,0 -1,-.1 -1,-.2 -1,-.1 -1,.1 -1,-.2 -1,-.1 -1,.3 -1,.3 -1,-.2 -1,-.4 -1,.7 -1,.2 -1,-.5 -1,.2 -1,-.1 -1,-.3 -1,.1 -1,-.1 -1,.1 -1,-.1 -1,-.4 -1,.1 -1,0 -1,.1 -1,-.1 -1,-.2 -1,.3 -1,-.5 -1,.5 -1,-.5 -1,.1 -1,.3 -1,.6 -1,-.2 -1,-.6 -1,.1 -1,-.6 -1,-.1 -1,-.2 -1,.1 -1,.3 -1,-.5 -1,.3 -1,-.3 -1,.5 -.9,-.3 -1,-.4 -1,.5 -1,.3 -1,-.1 -1,-.3 -1,-.1 -1,-.1 -1,.3 -1,.1 -1,-.1 -1,.2 -1,-.1 -1,.1 -1,0 -1,-.1 -1,-.4 -1,-.1 -1,-.3 -1,0 -1,.1 -1,-.4 -1,-.2 -1,.1 -1,.2 -1,-.4 -1,.1 -1,-.1 -1,0 -1,0 -1,0 -1,.3 -1,.4 -1,-.5 -1,0 -1,-.1 -1,-.4 -1,-.1 -1,.1 -1,.2 -1,0 -1,.5 -1,.2 -1,-.3 -1,-.5 -1,.3 -1,-.1 -1,.1 -1,.1 -1,-.4 -1,0 -1,.3 -1,-.3 -1,.7 -1,-.2 -1,-.2 -1,.4 -1,-.1 -1,-.1 -1,-.7 -1,.1 -1,0 -1,-.5 -1,-.5 -1,-.1 -1,-.3 -1,-.4 -1,-.4 -1,0 -1,-.2 -1,0 -1,.2 -1,0 -1,.4 -1,-.1 -1,.7 -1,.1 -1,.1 -1,.2 -1,-.1 -1,.2 -1,.1 -1,.1 -1,.2 -1,-.6 -1,-.2 -1,.1 -1,-.6 -1,-.1 -1,.4 -.9,.4 -1,-.2 -1,-.4 -1,-.2 -1,.6 -1,.9 -1,.1 -1,.1 -1,-.3 -1,-.6 -1,.1 -1,-.2 -1,.8 -1,-.4 -1,-.9 -1,.4 -1,0 -1,-.6 -1,-.1 -1,.1 -1,-.9 -1,.2 -1,-.3 -1,.1 -1,.3 -1,.5 -1,-.8 -1,.4 -1,0 -1,-.2 -1,.2 -1,-.3 -1,0 -1,-.3 -1,-.2 -1,-.1 -1,-.2 -1,.3 -1,-.3 -1,-.2 -1,-.3 -1,.2 -1,-.1 -1,0 -1,.3 -1,-.3 -1,.8 -1,-.1 -1,-.7 -1,-.1 -1,.2 -1,.1 -1,.3 -1,0 -1,.5 -1,-1 -1,.4 -1,.1 -1,-.2 -1,-.7 -1,.2 -1,-.1 -1,-.1 -1,-.7 -1,-.2 -1,-.1 -1,0 -1,.1 -1,-.2 -1,-.1 -1,.1 -1,-.3 -1,.1 -1,0 -1,.4 -1,-.7 -1,.7 -1,0 -1,-.6 -1,.7 -1,.3 -1,-.3 -1,-.3 -1,-.2 -1,0 -1,-.4 -1,-.5 -1,-.3 -1,-.4 -.9,.4 -1,-.3 -1,-.1 -1,0 -1,-.1 -1,0 -1,-.4 -1,-.4 -1,-.1 -1,-.1 -1,.2 -1,-.3 -1,0 -1,.2 -1,-.2 -1,-.5 -1,.1 -1,.4 -1,0 -1,-.4 -1,-.5 -1,-.1 -1,-.1 -1,-.4 -1,-.7 -1,-.1 -1,-.4 -1,-.3 -1,0 -1,0 -1,-.2 -1,-.4 -1,0 -1,.3 -1,-.7 -1,-.3 -1,.7 -1,.2 -1,-.9 -1,-.5 -1,.6 -1,-.4 -1,-1.1 -1,.2 -1,-.5 -1,.6 -1,-.1 -1,-1.1 -1,-.2 -1,.2 -1,-.5 -1,-.1 -1,-.2 -1,.5 -1,-.3 -1,-1 -1,-.7 -1,0 -1,-.5 -1,.5 -1,-.6 -1,-.6 -1,-.3 -1,-.1 -1,-.2 -1,.3 -1,-.4 -1,.2 -1,-.2 -1,-.9 -1,.1 -1,-.6 -1,-.1 -1,-.4 -1,-.3 -1,-.5 -1,-.3 -1,-.1 -1,-.5 -1,-.5 -1,.1 -1,-.2 -1,-1.1 -1,.8 -1,-1.4 -1,0 -1,-.8 -1,-.5 -1,0 -1,.3 -.9,-.5 -1,-1.2 -1,.5 -1,-1.1 -1,-1 -1,.4 -1,-.4 -1,-1.3 -1,-.1 -1,-.6 -1,.1 -1,-1 -1,-.6 -1,-.3 -1,-.5 -1,-.9 -1,-.1 -1,-.1 -1,-.5 -1,-1.1 -1,-.7 -1,-.5 -1,-.6 -1,-.7 -1,-.4 -1,-.6 -1,-.1 -1,-.8 -1,-.6 -1,-1.1 -1,-.1 -1,-1.3 -1,-.6 -1,-.2 -1,-.6 -1,-.5 -1,-.4 -1,-.3 -1,-1.3 -1,-1.1 -1,-.6 -1,-.5 -1,-.9 -1,-.6 -1,-.7 -1,-.6 -1,.4 -1,-.7 -1,-1.6 -1,-.5 -1,-.7 -1,-1.5 -1,-.9 -1,-.6 -1,-.5 -1,-1 -1,-1.3 -1,-.8 -1,-.9 -1,-.2 -1,-1.7 -1,-.1 -1,-1.2 -1,-1.9 -1,-.6 -1,-1.6 -1,-.4 -1,-1.9 -1,-1.4 -1,-1 -1,-1.5 -1,-1 -1,-1.4 -1,-1.4 -1,-1 -1,-2.1 -1,-1.7 -1,-1.6 -1,-1.3 -1,-1.8 -1,-1.8 -1,-1.3 -1,-1.3 -1,-1.8 -1,-2.5 -1,-1.3 -1,-1.7 -1,-1.9 -1,-1.9 -1,-1.5 -.9,-1.7 -1,-1.5 -1,-1.5 -1,-1.9 -1,-1.4 -1,-2 -1,-2.6 -1,-2.7 -1,-2.6 -1,-2.7 -1,-3.2 -1,-3.4 -1,-3.1 -1,-3.3 -1,-3.4 -1,-3.4 -1,-3.5 -1,-3.7 -1,-3.4 -1,-3.7 -1,-3.6 -1,-3.7 -1,-3.7 -1,-3.8 -1,-3.9 -1,-3.9 -1,-3.9 -1,-3.9 -1,-4.3 -1,-4.6 -1,-4.1z" fill="#000"/>
<path d="M1452,446.7l1,4.6 1,4.8 1,4.3 1,4.1 1,3.7 1,3.5 1,3.4 1,3.2 1,2.9 1,2.8 1,2.7 1,2.5 1,2.4 1,2.3 1,2.4 1,2.5 1,2.5 1,2.2 1,2.4 1,2.1 1,2.4 1,2 1,2 1,1.7 1,1.6 1,1.7 1,1.7 1,1.7 1,1.5 1,1.2 .9,1.7 1,1.1 1,1.6 1,1.4 1,1.3 1,1 1,1.1 1,1.5 1,1 1,.9 1,.8 1,1.6 1,1.1 1,.4 1,1.3 1,.8 1,1.1 1,.7 1,1.2 1,.6 1,.8 1,1.1 1,.4 1,.7 1,1.1 1,.9 1,.2 1,1.8 1,.3 1,.9 1,-.4 1,1.8 1,-.6 1,.6 1,2.1 1,.3 1,-.4 1,1.3 1,1.8 1,.4 1,-.3 1,-.2 1,1.7 1,1.3 1,.6 1,.2 1,.3 1,.9 1,.1 1,-.4 1,.7 1,1.4 1,1.4 1,-.2 1,.6 1,.6 1,1.2 1,-.7 1,.3 1,1.2 1,.3 1,.4 1,.9 1,.4 1,.8 1,.6 1,.7 1,.1 1,.6 1,.4 1,.2 1,.7 1,.8 1,.4 1,.2 1,0 1,.4 1,.7 1,.8 1,.4 1,.6 1,.4 1,0 1,.2 1,.5 1,.6 1,.1 1,0 1,.8 1,1 .9,.1 1,.3 1,.7 1,.2 1,.3 1,-.4 1,.1 1,.8 1,.9 1,-.2 1,1 1,.1 1,.4 1,-.1 1,-.3 1,1 1,.3 1,.3 1,1.3 1,.5 1,.1 1,0 1,.8 1,0 1,.1 1,.2 1,1.1 1,.2 1,.1 1,.2 1,.6 1,.3 1,.3 1,-.4 1,.9 1,-.3 1,.4 1,.7 1,.3 1,-.2 1,.7 1,-.1 1,.3 1,.3 1,-.1 1,.6 1,.5 1,.5 1,.2 1,.2 1,-.1 1,-.1 1,.6 1,.5 1,.4 1,.4 1,-.1 1,.3 1,-.9 1,.3 1,.5 1,.6 1,.1 1,-.8 1,.7 1,-.2 1,.3 1,.5 1,.8 1,-.4 1,.5 1,.3 1,0 1,.5 1,-1.2 1,.7 1,0 1,-.7 1,1 1,.5 1,.5 1,.1 1,.1 1,0 1,.2 1,.5 1,-1.2 1,.3 1,1 1,-.1 .9,-.6 1,.4 1,.5 1,-.2 1,1.2 1,-.3 1,.4 1,.1 1,.2 1,.2 1,-.2 1,.5 1,.6 1,-.1 1,-.6 1,-.3 1,-.2 1,.4 1,.5 1,.1 1,.2 1,.2 1,.3 1,.1 1,.2 1,.5 1,0 1,-.3 1,.6 1,.5 1,-.5 1,-.3 1,.7 1,-.2 1,-.3 1,-.2 1,.2 1,.5 1,.5 1,-.5 1,.7 1,.4 1,-.3 1,.3 1,-.4 1,.3 1,-.2 1,-.3 1,.2 1,.3 1,-.5 1,.2 1,.6 1,-.2 1,-.1 1,.6 1,.4 1,.2 1,.4 1,.2 1,.4 1,0 1,-.2 1,.4 1,.6 1,-.5 1,-.3 1,0 1,.7 1,.6 1,0 1,-.8 1,-.5 1,1 1,0 1,-.2 1,.4 1,.6 1,-.1 1,-.2 1,.1 1,.3 1,-.5 1,.3 1,0 1,-.9 1,.1 1,.3 1,.1 .9,.7 1,.5 1,.1 1,-.2 1,.1 1,.6 1,-.2 1,0 1,-.3 1,-.5 1,.7 1,.1 1,.3 1,0 1,0 1,.1 1,-.1 1,.5 1,0 1,.5 1,.1 1,-.2 1,.3 1,-.2 1,-.5 1,.8 1,-.7 1,.1 1,0 1,.2 1,.7 1,0 1,-.6 1,.2 1,.8 1,-.2 1,-.2 1,0 1,0 1,-.3 1,.3 1,.3 1,0 1,-.4 1,-.2 1,-.2 1,.1 1,1.1 1,-.5 1,-.1 1,.6 1,.7 1,.1 1,.3 1,-.7 1,-.6 1,0 1,.1 1,.4 1,.8 1,-.4 1,.5 1,.6 1,.5 1,.2 1,-.2 1,.4 1,-.6 1,.1 1,-1 1,.4 1,-1.6 1,.4 1,.9 1,-.1 1,0 1,.7 1,.3 1,-.5 1,.4 1,.8 1,.2 1,.6 1,-.4 1,0 1,.7 1,.1 1,-.7 1,-.9 1,.1 .9,.5 1,.2 1,-.1 1,-.3 1,.4 1,-.1 1,-.8 1,.1 1,.3 1,-.3 1,-.3 1,.8 1,-.7 1,.5 1,.8 1,-.2 1,-.3 1,0 1,0 1,.4 1,-.9 1,.1 1,.6 1,-.1 1,-.1 1,.1 1,0 1,.3 1,.1 1,.1 1,-.1 1,0 1,.4 1,.3 1,-.1 1,-.1 1,.1 1,.1 1,0 1,.3 1,-.2 1,.2 1,0 1,0 1,0 1,.2 1,-.4 1,.2 1,0 1,0 1,.1 1,-.3 1,.1 1,.4 1,-.2 1,-.2 1,.4 1,-.9 1,-.1 1,.4 1,.4 1,-.2 1,.1 1,-.2 1,-.1 1,.3 1,.2 1,-.2 1,-.1 1,.2 1,-.7 1,-.2 1,.6 1,-1.2 1,0 1,.7 1,.6 1,0 1,-.2 1,0 1,-.1 1,-.5 1,1.2 1,-.4 1,.4 1,-.3 1,.7 1,-.7 1,.7 .9,.9 1,.1 1,-.8 1,-.3 1,.9 1,-.5 1,-.7 1,.9 1,-.5 1,-.1 1,-.7 1,.7 1,.4 1,.7 1,-.3 1,-.1 1,-.9 1,.6 1,.5 1,-.8 1,-.5 1,-.2 1,.3 1,0 1,-.6 1,-.2 1,.8 1,.1 1,-.6 1,-1.2 1,.6 1,1 1,-.7 1,.5 1,.2 1,-.6 1,.4 1,1 1,.1 1,-1.1 1,.1 1,.8 1,-.1 1,-.3 1,.1 1,.5 1,.7 1,0 1,-.2 1,-.4 1,-.1 1,.8 1,-.6 1,.4 1,-.1 1,-.4 1,.2 1,-.7 1,1.1 1,-.2 1,-.1 1,-.3 1,1 1,-1 1,-.5 1,0 1,.3 1,.3 1,.1 1,-.5 1,.1 1,0 1,-.5 1,.3 1,-.1 1,-.4 1,-.1 1,.5 1,.3 1,-.7 1,.2 1,.7 1,.2 1,-.3 1,-.9 1,0 1,.8 1,-1.1 1,-.4 1,.1 .9,.3 1,.3 1,.1 1,0 1,.3 1,.2 1,-.3 1,-.1 1,.3 1,.1 1,-.1 1,-.2 1,-.2 1,0 1,.3 1,-.3 1,.1 1,-.8 1,0 1,.5 1,0 1,.1 1,-.1 1,.3 1,.1 1,.1 1,0 1,-.2 1,.1 1,.5 1,.4 1,0 1,.4 1,-.4 1,-.2 1,-.3 1,-.1 1,.5 1,0 1,-.7 1,-.1 1,.2 1,.3 1,-1 1,-.2 1,.7 1,.4 1,-.2 1,0 1,-.4 1,-.6 1,.6 1,.6 1,.1 1,-.2 1,-.4 1,.5 1,-1.1 1,-.2 1,.3 1,.5 1,-.1 1,-.4 1,.2 1,-.2 1,.2 1,-.5 1,.3 1,-.3 1,-.1 1,.8 1,.4 1,-.2 1,.3 1,.7 1,.2 1,-.2 1,-.2 1,.4 1,-.8 1,1.1 1,-1.2 1,-.3 1,.1 1,.1 1,-1.1 1,.7 1,.6 1,-.4 .9,.8 1,-1.1 1,.3 1,.8 1,-.2 1,-.6 1,.2 1,.2 1,-.3 1,.2 1,-.8 1,.3 1,-1 1,.7 1,.5 1,.1 1,-.2 1,-.6 1,.9 1,.1 1,-1.6 1,.7 1,.3 1,.1 1,1.1 1,-.1 1,-.7 1,0 1,.9 1,0 1,-.1 1,-.4 1,0 1,.1 1,-.7 1,-.5 1,.8 1,-.8 1,-.4 1,-.6 1,.6 1,.6 1,-.6 1,-.2 1,.1 1,.7 1,1.1 1,0 1,.1 1,-.3 1,.3 1,-.3 1,-.6 1,.3 1,-.4 1,-.6 1,-.3 1,.5 1,.9 1,-.3 1,.5 1,-.6 1,-.1 1,.8 1,-.3 1,-.2 1,.3 1,.1 1,-.3 1,.3 1,-.4 1,-.7 1,-.1 1,.6 1,.9 1,-.7 1,-.1 1,.3 1,-.2 1,0 1,-.6 1,0 1,.4 1,.3 1,-.3 1,0 1,.4 1,.1 1,-.7 1,-.1 .9,.1 1,.3 1,0 1,-.2 1,-.1 1,.7 1,.2 1,-.1 1,.4 1,-.4 1,-.3 1,-.9 1,0 1,1.7 1,-.7 1,.7 1,0 1,-.8 1,1.2 1,-1.9 1,.5 1,1 1,-.1 1,.1 1,-.5 1,.4 1,.2 1,0 1,-.2 1,-.2 1,-.3 1,.1 1,-.3 1,.2 1,.2 1,-.5 1,.5 1,.1 1,.4 1,0 1,0 1,-.3 1,.1 1,-.8 1,-.1 1,.1 1,-1.1 1,-.5 1,.5 1,.3 1,-1.1 1,1 1,.1 1,.1 1,.7 1,-.1 1,-.5 1,-.6 1,.1 1,.5 1,.5 1,-.7 1,.6 1,0 1,-.8 1,-.5 1,1.3 1,-.2 1,.2 1,.2 1,-.4 1,1.1 1,-1.7 1,-.1 1,.8 1,1.3 1,-.2 1,.3 1,.1 1,.2 1,-.4 1,-.7 1,.8 1,.2 1,-1.2 1,-.6 1,.2 1,.3 1,.2 1,-.3 .9,-.4 1,.2 1,.4 1,.3 1,-.1 1,-.1 1,-.1 1,.3 1,0 1,.3 1,-.2 1,.1 1,-.5 1,.2 1,0 1,-.7 1,-1.2 1,.2 1,1.3 1,.4 1,-.4 1,.2 1,-.1 1,.5 1,-.1 1,-.3 1,0 1,-.3 1,-.1 1,-.3 1,-.4 1,.1 1,1.2 1,.1 1,-.1 1,.2 1,-.5 1,.4 1,-.4 1,-.6 1,.2 1,.4 1,-1 1,1.2 1,-1.5 0,7.8 -1,-1.1 -1,-.5 -1,.7 -1,-.2 -1,.2 -1,.7 -1,-.6 -1,-.7 -1,.5 -1,-.4 -1,-.5 -1,.1 -1,0 -1,-.3 -1,.1 -1,-.2 -1,1.2 -1,.2 -1,-.6 -1,.1 -1,.7 -1,.6 -1,.2 -1,-1 -1,-.8 -1,.6 -1,.6 -1,.4 -1,0 -1,-1.5 -1,1.5 -1,-.5 -1,-.8 -1,-.1 -1,0 -1,-.3 -1,.5 -1,.5 -1,-.8 -1,-.4 -1,.3 -1,0 -1,1 -1,-.4 -.9,-.6 -1,.2 -1,.2 -1,.3 -1,.1 -1,-.4 -1,.9 -1,.1 -1,-.6 -1,.9 -1,-.3 -1,-.6 -1,.3 -1,-.2 -1,0 -1,-.4 -1,.2 -1,-.2 -1,-.3 -1,.1 -1,-.1 -1,0 -1,.7 -1,.7 -1,-1.2 -1,-.6 -1,.7 -1,0 -1,-.7 -1,1.2 -1,.2 -1,-1.5 -1,.9 -1,-.4 -1,-.1 -1,-.1 -1,-.8 -1,-.1 -1,.1 -1,0 -1,-.3 -1,0 -1,.6 -1,.3 -1,-.4 -1,1.1 -1,-.3 -1,-.2 -1,.2 -1,0 -1,-.1 -1,-.1 -1,0 -1,-.3 -1,-.1 -1,.1 -1,-.2 -1,.1 -1,.1 -1,.6 -1,.3 -1,0 -1,-.3 -1,.1 -1,.8 -1,-.2 -1,-.3 -1,-.2 -1,0 -1,.7 -1,.3 -1,-.8 -1,.1 -1,-.2 -1,.1 -1,.2 -1,0 -1,.1 -1,-.6 -1,1.1 -1,.5 -1,-.6 -1,-1.1 -1,.7 -1,-.5 -1,-.1 -1,-.3 -1,.2 -1,-.1 -1,.5 -.9,.2 -1,-.3 -1,.5 -1,-.1 -1,-1.2 -1,-.4 -1,.2 -1,-.2 -1,.3 -1,.2 -1,.1 -1,-.4 -1,.6 -1,1.4 -1,.1 -1,.1 -1,0 -1,-1.3 -1,-.2 -1,.1 -1,-.2 -1,-.3 -1,0 -1,-.2 -1,0 -1,.4 -1,.2 -1,-.2 -1,-.1 -1,.7 -1,-.9 -1,-.2 -1,-.1 -1,.5 -1,-.2 -1,.1 -1,.7 -1,-.1 -1,-.7 -1,.5 -1,1.4 -1,-.1 -1,-1 -1,-.6 -1,.1 -1,0 -1,-.7 -1,.2 -1,0 -1,0 -1,.2 -1,-.3 -1,-.5 -1,.4 -1,.5 -1,-.1 -1,.8 -1,-.1 -1,1.6 -1,-.4 -1,-1 -1,.1 -1,0 -1,-.3 -1,.4 -1,1.2 -1,.2 -1,-.1 -1,-1.1 -1,-.4 -1,1.3 -1,-.4 -1,.1 -1,-.2 -1,-1.5 -1,-.5 -1,-.2 -1,.4 -1,-.2 -1,0 -1,-.2 -1,.4 -1,-.1 -1,.2 -1,.1 -1,.8 -1,.4 -1,-.6 -1,-.6 -1,.2 -.9,0 -1,.7 -1,-.9 -1,.4 -1,0 -1,.7 -1,.9 -1,.1 -1,-1 -1,.5 -1,.7 -1,-.9 -1,-.2 -1,-.4 -1,.2 -1,-.3 -1,-1.1 -1,-.1 -1,-.2 -1,-.1 -1,.3 -1,.2 -1,-.2 -1,-.6 -1,.8 -1,.5 -1,-.1 -1,-.4 -1,-.4 -1,.1 -1,.2 -1,.1 -1,.1 -1,0 -1,.1 -1,.2 -1,-.2 -1,.3 -1,-.4 -1,0 -1,.1 -1,-.1 -1,.1 -1,0 -1,-.2 -1,-.1 -1,.2 -1,.3 -1,.4 -1,1 -1,.2 -1,.1 -1,-.7 -1,-.6 -1,.4 -1,.8 -1,-.5 -1,-.4 -1,0 -1,-.4 -1,-.8 -1,.4 -1,-.7 -1,.4 -1,.3 -1,-.6 -1,.2 -1,-.4 -1,.2 -1,.2 -1,-.3 -1,-.3 -1,.5 -1,.4 -1,.2 -1,-.3 -1,.4 -1,.4 -1,-.5 -1,-.1 -1,.1 -1,-.4 -1,.3 -1,0 -1,-.5 -1,-.3 -1,.4 -1,-.6 -1,1.1 -.9,.5 -1,0 -1,-.7 -1,.2 -1,0 -1,.8 -1,-.6 -1,.3 -1,.3 -1,0 -1,-.7 -1,-.4 -1,0 -1,-.1 -1,.3 -1,.1 -1,-.3 -1,-.3 -1,.5 -1,-.2 -1,.3 -1,0 -1,.4 -1,0 -1,1.2 -1,.4 -1,-.8 -1,.1 -1,.5 -1,-.5 -1,.2 -1,.8 -1,-.3 -1,-.5 -1,-.3 -1,-.9 -1,.3 -1,1.8 -1,.1 -1,-1.3 -1,.4 -1,-1 -1,.6 -1,-.8 -1,-.1 -1,.3 -1,-.6 -1,.7 -1,-.8 -1,.6 -1,-.4 -1,.2 -1,.1 -1,.5 -1,-.2 -1,.7 -1,-1 -1,.6 -1,.2 -1,-.2 -1,-1.7 -1,1.4 -1,-1 -1,.5 -1,-.4 -1,1.4 -1,0 -1,-.7 -1,-.5 -1,.4 -1,-.4 -1,.2 -1,.9 -1,.1 -1,-.6 -1,.3 -1,.1 -1,-.5 -1,-.2 -1,0 -1,.5 -1,.7 -1,-.6 -1,-.6 -1,.5 -1,0 -1,.2 -1,-.3 -1,-.1 -1,-.1 -.9,1.3 -1,-.5 -1,-1.5 -1,.2 -1,.2 -1,-.6 -1,-.6 -1,.1 -1,-.1 -1,.5 -1,0 -1,-1 -1,.8 -1,.2 -1,-1 -1,.9 -1,-.2 -1,-.9 -1,.2 -1,0 -1,.2 -1,.9 -1,-.2 -1,-.3 -1,0 -1,-.1 -1,-.1 -1,0 -1,-.1 -1,0 -1,0 -1,.1 -1,.1 -1,.5 -1,.2 -1,-.4 -1,-.6 -1,.4 -1,.2 -1,-.6 -1,.6 -1,-.4 -1,-.1 -1,.2 -1,-.2 -1,.2 -1,.4 -1,-.5 -1,-.5 -1,0 -1,.3 -1,.2 -1,-.3 -1,.1 -1,-.1 -1,.2 -1,.1 -1,-.6 -1,.5 -1,-.2 -1,-.8 -1,-.6 -1,-.1 -1,.3 -1,-.1 -1,-.1 -1,-.1 -1,.1 -1,.4 -1,0 -1,.8 -1,.1 -1,-.3 -1,-.4 -1,.2 -1,-.3 -1,.1 -1,-.5 -1,1 -1,-.3 -1,.1 -1,.6 -1,-.4 -1,-.7 -1,.3 -1,1.5 -1,-.5 -1,-.7 -1,.1 -.9,-.1 -1,0 -1,.1 -1,.6 -1,.6 -1,-.1 -1,-.5 -1,-.7 -1,-.7 -1,-.5 -1,.4 -1,.1 -1,-.8 -1,-.2 -1,.3 -1,.3 -1,-.3 -1,-.2 -1,.5 -1,-.5 -1,.3 -1,.1 -1,.6 -1,-.1 -1,-.2 -1,-.6 -1,1 -1,-1 -1,.2 -1,-1 -1,-.3 -1,-.4 -1,-.2 -1,.2 -1,-.3 -1,.4 -1,0 -1,-.2 -1,-.1 -1,0 -1,0 -1,.1 -1,-.3 -1,-.1 -1,-.6 -1,.4 -1,.4 -1,-.2 -1,-.4 -1,-.8 -1,0 -1,.4 -1,0 -1,-.3 -1,.6 -1,-.1 -1,-.5 -1,.3 -1,-.4 -1,.5 -1,-.1 -1,-.5 -1,-.1 -1,.2 -1,-.3 -1,-.1 -1,0 -1,0 -1,.1 -1,-.1 -1,-.4 -1,-.3 -1,.1 -1,-.3 -1,.2 -1,0 -1,-.5 -1,.1 -1,-.6 -1,.5 -1,-.4 -1,.1 -1,.3 -1,-.1 -1,-.2 -1,0 -1,.2 -1,-.7 -1,-.2 -1,-.2 -.9,.1 -1,.5 -1,-.2 -1,-.1 -1,.1 -1,-.5 -1,.4 -1,0 -1,-.4 -1,0 -1,.3 -1,.4 -1,.4 -1,-.9 -1,-.3 -1,.1 -1,.4 -1,.2 -1,-.3 -1,-.1 -1,-.4 -1,-.8 -1,.2 -1,-.4 -1,.3 -1,-.2 -1,-.6 -1,-.1 -1,-.4 -1,.2 -1,.1 -1,-.9 -1,-.1 -1,-.5 -1,.3 -1,-.4 -1,-.2 -1,-.5 -1,0 -1,-.3 -1,.4 -1,.7 -1,-.6 -1,-.2 -1,.4 -1,0 -1,-.4 -1,.2 -1,.4 -1,.1 -1,-.2 -1,-.5 -1,-.7 -1,-.3 -1,-.1 -1,.4 -1,.5 -1,0 -1,-.6 -1,-.1 -1,.4 -1,-.3 -1,-.4 -1,-.5 -1,.4 -1,-.7 -1,-.3 -1,-.7 -1,.2 -1,-.3 -1,.2 -1,-.6 -1,.1 -1,-.1 -1,.1 -1,.1 -1,.7 -1,.2 -1,-.9 -1,.6 -1,.2 -1,-.6 -1,-.4 -1,-.2 -1,-.7 -1,-.1 -1,.1 -1,-.4 -1,-.5 -.9,.2 -1,-.5 -1,.3 -1,-.4 -1,.3 -1,-.1 -1,-.7 -1,.3 -1,.8 -1,-.1 -1,-1.1 -1,.4 -1,-.5 -1,-.7 -1,.6 -1,-.3 -1,0 -1,-.5 -1,.2 -1,-.4 -1,-.5 -1,-.2 -1,-.1 -1,-.5 -1,-.3 -1,.2 -1,-.1 -1,-.4 -1,-.1 -1,-.4 -1,.9 -1,.1 -1,-.3 -1,-.5 -1,-.8 -1,-.2 -1,.3 -1,-.5 -1,-.9 -1,-.2 -1,-.1 -1,.6 -1,-.4 -1,-1.2 -1,-.4 -1,-.3 -1,.1 -1,-.6 -1,-.2 -1,-.2 -1,-.1 -1,.1 -1,-.4 -1,-.8 -1,.7 -1,-.2 -1,-.5 -1,-.6 -1,.4 -1,-.3 -1,-.7 -1,-.9 -1,-.2 -1,-.1 -1,-.4 -1,-.2 -1,.4 -1,-.3 -1,-.2 -1,-.2 -1,-.6 -1,0 -1,-.3 -1,-1.6 -1,-.1 -1,-.2 -1,-.4 -1,-.9 -1,-.4 -1,0 -1,-.6 -1,.7 -1,-.7 -1,-.3 -1,-.2 -1,-.9 -1,-.2 -1,-.8 -1,-.7 -1,-.2 -.9,0 -1,-.3 -1,-1.1 -1,-.3 -1,-.7 -1,.1 -1,-.6 -1,-.4 -1,-.1 -1,-.6 -1,-.8 -1,-.2 -1,-.5 -1,-.1 -1,-.7 -1,-.3 -1,-.2 -1,-.9 -1,.4 -1,-.5 -1,-1.3 -1,.2 -1,-.3 -1,-1.2 -1,-.3 -1,-.5 -1,-.7 -1,-.6 -1,-.4 -1,-.6 -1,0 -1,0 -1,-.3 -1,-.8 -1,-1.2 -1,-.5 -1,-.2 -1,-.6 -1,-1 -1,-.2 -1,-.5 -1,-.9 -1,-.6 -1,-.5 -1,-.3 -1,-.7 -1,.5 -1,.3 -1,-.8 -1,-2.1 -1,-.4 -1,-.7 -1,.2 -1,-.5 -1,-1.4 -1,-.5 -1,.1 -1,-.5 -1,-2.3 -1,0 -1,-1.3 -1,-.6 -1,.3 -1,-.9 -1,-1.2 -1,-.9 -1,-1.8 -1,-.9 -1,-.7 -1,-1 -1,-.4 -1,-.1 -1,-1.5 -1,-1.8 -1,-.7 -1,-1.3 -1,-.7 -1,-.1 -1,-.9 -1,-1.1 -1,-1.6 -1,-.9 -1,-1 -1,-1.7 -1,-1.1 -1,-1.2 -1,-1.9 -1,-1 -1,-1.2 -1,-1.6 -.9,-1.6 -1,-1.7 -1,-.9 -1,-1.7 -1,-2.1 -1,-1.7 -1,-1.7 -1,-1.8 -1,-2.1 -1,-2 -1,-2.2 -1,-2.2 -1,-2.2 -1,-2.5 -1,-2.1 -1,-2.5 -1,-2.6 -1,-2.5 -1,-2.5 -1,-2.6 -1,-2.7 -1,-2.8 -1,-3 -1,-3.1 -1,-3.3 -1,-3.6 -1,-3.8 -1,-4.1 -1,-4.4 -1,-4.8 -1,-4.6z" fill="#000"/>
<g>
<use href="#mx" x="1438" y="188.9"/>
<use href="#mx" x="1485.73" y="515.5"/>
<use href="#mx" x="1533.47" y="569.7"/>
<use href="#mx" x="1581.2" y="594.1"/>
<use href="#mx" x="1628.93" y="605.9"/>
<use href="#mx" x="1676.67" y="612.2"/>
<use href="#mx" x="1724.4" y="615.7"/>
<use href="#mx" x="1772.13" y="616.4"/>
<use href="#mx" x="1819.87" y="618.7"/>
<use href="#mx" x="1867.6" y="621.3"/>
<use href="#mx" x="1915.33" y="620.1"/>
<use href="#mx" x="1963.07" y="621.6"/>
<use href="#mx" x="2010.8" y="622.4"/>
<use href="#mx" x="2058.53" y="622.4"/>
<use href="#mx" x="2106.27" y="620.9"/>
<use href="#mx" x="2154" y="622.4"/>
<use href="#mx" x="2201.73" y="623.1"/>
<use href="#mx" x="2249.47" y="624.6"/>
<use href="#mx" x="2297.2" y="623.1"/>
<use href="#mt" x="1438" y="213.9"/>
<use href="#mt" x="1527.5" y="568.5"/>
<use href="#mt" x="1617" y="604.1"/>
<use href="#mt" x="1706.5" y="617.7"/>
<use href="#mt" x="1796" y="626.8"/>
<use href="#mt" x="1885.5" y="631.3"/>
<use href="#mt" x="1975" y="631.3"/>
<use href="#mt" x="2064.5" y="628.6"/>
<use href="#mt" x="2154" y="630.5"/>
<use href="#mt" x="2243.5" y="630.8"/>
<use href="#mt" x="2333" y="631.3"/>
</g>
</g>
<g class="plot-c">
<g fill="none" stroke="#878787" stroke-width="2" stroke-linecap="square">
<rect x="194" y="1014" width="896" height="662"/>
</g>
<path d="M194,1161.11h9.3M1090,1161.11h-9.3M194,1308.22h9.3M1090,1308.22h-9.3M194,1455.33h9.3M1090,1455.33h-9.3M194,1602.44h9.3M1090,1602.44h-9.3M492.67,1676v-9.3M492.67,1014v9.3M791.33,1676v-9.3M791.33,1014v9.3" fill="none" stroke="#878787" stroke-width="2"/>
<path d="M194,1014h9.3M1090,1014h-9.3M1090,1676v-9.3M1090,1014v9.3" fill="none" stroke="#444444" stroke-width="2" stroke-linecap="square"/>
<g font-family="'Liberation Serif', 'Times New Roman', serif" font-size="56.3" fill="#262626">
<g text-anchor="end">
<text x="175.4" y="1034.2">0</text>
<text x="175.4" y="1181.31">-10</text>
<text x="175.4" y="1328.42">-20</text>
<text x="175.4" y="1475.53">-30</text>
<text x="175.4" y="1622.64">-40</text>
</g>
<g text-anchor="middle">
<text x="492.67" y="1746.6">5,000</text>
<text x="791.33" y="1746.6">10,000</text>
<text x="1090" y="1746.6">15,000</text>
</g>
</g>
<g font-family="'Liberation Serif', 'Times New Roman', serif" font-size="62" fill="#262626" text-anchor="middle">
<text x="640.8" y="1820.5">time [sample]</text>
<text transform="translate(80,1345.2) rotate(-90)">MSD [dB]</text>
</g>
<g font-family="'Liberation Serif', 'Times New Roman', serif" font-size="64" fill="#000">
<text transform="translate(577.12,1895.71) scale(0.8821,0.9977)">(</text>
<text transform="translate(597.5,1895.7) scale(0.9584,1.0114)" font-weight="bold">c</text>
<text transform="translate(625.47,1895.71) scale(0.8882,0.9977)">)</text>
</g>
<g fill="none" stroke="#000" stroke-width="3.3" stroke-linejoin="round" stroke-linecap="butt">
<path d="M194,1015.6l0,.8 0,.8 .1,.8 0,.8 0,.8 0,.8 .1,.8 0,.8 0,.8 0,.8 0,.8 .1,.8 0,.8 0,.8 0,.8 0,.8 .1,.8 0,.8 0,.8 0,.8 0,.8 0,.8 .1,.8 0,.8 0,.8 0,.8 0,.8 0,.8 .1,.8 0,.8 0,.8 0,.8 0,.8 .1,.8 0,.8 0,.8 0,.8 0,.8 0,.8 .1,.8 0,.8 0,.8 0,.8 0,.8 0,.8 0,.8 .1,.8 0,.8 0,.8 0,.8 0,.8 0,.8 .1,.8 0,.8 0,.8 0,.8 0,.8 0,.8 .1,.8 0,.8 0,.8 0,.8 0,.8 .1,.8 0,.8 0,.8 0,.8 0,.8 0,.8 .1,.8 0,.8 0,.8 0,.8 0,.8 .1,.8 0,.8 0,.8 0,.8 0,.8 0,.8 .1,.8 0,.8 0,.8 0,.8 0,.8 .1,.8 0,.8 0,.8 0,.8 0,.8 .1,.8 0,.8 0,.8 0,.8 0,.8 .1,.8 0,.8 0,.8 0,.8 0,.8 .1,.8 0,.8 0,.8 0,.8 0,.8 .1,.8 0,.8 0,.8 0,.8 0,.8 .1,.8 0,.8 0,.8 0,.8 0,.8 .1,.8 0,.8 0,.8 0,.8 0,.8 0,.8 .1,.8 0,.8 0,.8 0,.8 0,.8 .1,.8 0,.8 0,.8 0,.8 0,.8 0,.8 .1,.8 0,.8 0,.8 0,.8 0,.8 0,.8 .1,.8 0,.8 0,.8 0,.8 0,.8 0,.8 .1,.8 0,.8 0,.8 0,.8 0,.8 0,.8 0,.8 .1,.8 0,.8 0,.8 0,.8 0,.8 0,.8 .1,.8 0,.8 0,.8 0,.8 0,.8 0,.8 0,.8 .1,.8 0,.8 0,.8 0,.8 0,.8 0,.8 0,.8 .1,.8 0,.8 0,.8 0,.8 0,.8 0,.8 0,.8 .1,.8 0,.8 0,.8 0,.8 0,.8 0,.8 0,.8 0,.8 .1,.8 0,.8 0,.8 0,.8 0,.8 0,.8 0,.8 .1,.8 0,.8 0,.8 0,.8 0,.8 0,.8 0,.8 .1,.8 0,.8 0,.8 0,.8 0,.8 0,.8 0,.8 .1,.8 0,.8 0,.8 0,.8 0,.8 0,.8 0,.8 .1,.8 0,.8 0,.8 0,.8 0,.8 0,.8 0,.8 .1,.8 0,.8 0,.8 0,.8 0,.8 0,.8 0,.8 .1,.8 0,.8 0,.8 0,.8 0,.8 0,.8 0,.8 0,.8 .1,.8 0,.8 0,.8 0,.8 0,.8 0,.8 0,.8 .1,.8 0,.8 0,.8 0,.8 0,.8 0,.8 0,.8 0,.8 .1,.8 0,.8 0,.8 0,.8 0,.8 0,.8 0,.8 .1,.8 0,.8 0,.8 0,.8 0,.8 0,.8 0,.8 0,.8 .1,.8 0,.8 0,.8 0,.8 0,.8 0,.8 .1,.8 0,.8 0,.8 0,.8 0,.8 0,.8 0,.8 .1,.8 0,.8 0,.8 0,.8 0,.8 0,.8 .1,.8 0,.8 0,.8 0,.8 0,.8 .1,.8 0,.8 0,.8 0,.8 0,.8 0,.8 .1,.8 0,.8 0,.8 0,.8 0,.8 .1,.8 0,.8 0,.8 0,.8 0,.8 .1,.8 0,.8 0,.8 0,.8 0,.8 .1,.8 0,.8 0,.8 0,.8 0,.8 .1,.8 0,.8 0,.8 0,.8 .1,.9 0,.8 0,.8 0,.8 0,.8 .1,.8 0,.8 0,.8 .1,.8 0,.8 0,.8 0,.7 .1,.8 0,.8 0,.8 .1,.8 0,.8 0,.8 0,.8 .1,.8 0,.8 0,.8 .1,.8 0,.8 0,.8 .1,.8 0,.8 .1,.8 0,.8 0,.8 .1,.8 0,.8 .1,.8 0,.8 .1,.8 0,.8 .1,.8 .1,.8 0,.8 .1,.8 .1,.8 0,.8 .1,.8 .1,.8 0,.8 .1,.8 .1,.8 .1,.8 .1,.8 0,.8 .1,.8 .1,.8 .1,.8 .1,.8 .1,.8 0,.8 .1,.8 .1,.8 .1,.8 .1,.7 0,.8 .1,.8 .1,.8 .1,.8 0,.8 .1,.8 .1,.8 .1,.8 .1,.8 .1,.8 0,.8 .1,.8 .1,.8 .1,.8 .1,.8 .1,.8 0,.8 .1,.8 .1,.8 .1,.8 .1,.8 .1,.8 .1,.8 0,.8 .1,.8 .1,.7 .1,.8 .1,.8 .1,.8 0,.8 .1,.8 .1,.8 .1,.8 .1,.8 0,.8 .1,.8 .1,.8 .1,.8 .1,.8 0,.8 .1,.8 .1,.8 .1,.8 .1,.8 0,.8 .1,.8 .1,.8 .1,.8 .1,.8 0,.8 .1,.8 .1,.7 .1,.8 .1,.8 .1,.8 .1,.8 .1,.8 .1,.8 .1,.8 .1,.8 .1,.8 .1,.8 .1,.8 .1,.8 .1,.8 .1,.8 .1,.8 .1,.8 .1,.8 .1,.7 .1,.8 .2,.8 .1,.8 .1,.8 .2,.8 .1,.8 .1,.8 .2,.7 .1,.8 .2,.8 .1,.8 .2,.8 .2,.8 .2,.7 .1,.8 .2,.8 .2,.8 .2,.8 .2,.7 .1,.8 .2,.8 .2,.8 .2,.7 .2,.8 .2,.8 .3,.8 .2,.7 .2,.8 .2,.8 .2,.8 .2,.7 .2,.8 .3,.8 .2,.7 .2,.8 .2,.8 .2,.8 .3,.7 .2,.8 .2,.8 .2,.7 .3,.8 .2,.8 .2,.7 .3,.8 .2,.8 .2,.8 .2,.7 .3,.8 .2,.8 .2,.7 .2,.8 .3,.8 .2,.7 .2,.8 .2,.8 .3,.7 .2,.8 .2,.8 .3,.7 .2,.8 .2,.8 .3,.7 .2,.8 .3,.7 .2,.8 .2,.8 .3,.7 .2,.8 .3,.8 .2,.7 .3,.8 .2,.7 .3,.8 .2,.8 .3,.7 .2,.8 .3,.7 .3,.8 .2,.8 .3,.7 .2,.8 .3,.7 .3,.8 .2,.7 .3,.8 .3,.7 .2,.8 .3,.7 .3,.8 .3,.7 .3,.8 .3,.7 .3,.8 .3,.7 .3,.8 .3,.7 .3,.7 .3,.8 .3,.7 .3,.8 .3,.7 .3,.7 .3,.8 .3,.7 .3,.7 .3,.8 .3,.7 .3,.8 .3,.7 .3,.7 .3,.8 .3,.7 .3,.8 .3,.7 .3,.8 .3,.7 .3,.8 .2,.8 .3,.7 .2,.8 .3,.8 .2,.7 .3,.8 .2,.8 .3,.8 .2,.7 .3,.8 .2,.8 .3,.7 .3,.8 .2,.7 .3,.8 .3,.7 .3,.7 .3,.7 .4,.7 .3,.7 .4,.7 .4,.7 .4,.7 .4,.6 .4,.7 .5,.6 .5,.7 .4,.6 .5,.6 .6,.7 .5,.6 .5,.6 .6,.6 .5,.6 .6,.6 .5,.6 .6,.6 .6,.6 .5,.6 .6,.6 .6,.5 .6,.6 .5,.6 .6,.5 .6,.6 .5,.5 .6,.6 .6,.5 .6,.6 .6,.5 .6,.5 .6,.6 .6,.5 .6,.5 .7,.5 .6,.5 .6,.5 .7,.5 .6,.5 .6,.4 .7,.5 .6,.5 .7,.4 .6,.5 .7,.4 .7,.5 .6,.4 .7,.4 .7,.4 .7,.5 .6,.3 .7,.4 .7,.4 .7,.4 .7,.4 .7,.3 .7,.4 .8,.4 .7,.3 .7,.4 .7,.3 .8,.4 .7,.4 .7,.3 .8,.4 .7,.3 .7,.4 .8,.3 .7,.4 .8,.3 .7,.3 .8,.3 .7,.2 .8,.3 .7,.2 .8,.2 .7,.2 .8,.2 .7,.2 .8,.2 .7,.2 .8,.2 .8,.2 .7,.2 .8,.2 .7,.2 .8,.2 .8,.2 .7,.2 .8,.2 .8,.2 .8,.3 .7,.2 .8,.2 .8,.3 .8,.2 .8,.2 .7,.2 .8,.2 .8,.2 .8,.2 .8,.2 .8,.1 .7,.2 .8,.1 .8,.2 .8,.1 .8,.2 .8,.1 .8,.1 .8,.2 .8,.1 .8,.1 .8,.1 .8,.1 .7,.2 .8,.1 .8,.1 .8,.2 .8,.1 .8,.1 .8,.1 .8,.2 .8,.1 .8,.2 .8,.2 .8,.2 .8,.3 .8,.2 .8,.2 .8,.2 .8,.2 .8,.2 .7,.2 .8,.1 .8,.1 .8,.1 .8,0 .8,.1 .8,0 .8,.1 .8,0 .8,.1 .7,.1 .8,.1 .8,.1 .8,.2 .8,.1 .8,.2 .8,.1 .8,.2 .8,.2 .8,.1 .8,.2 .8,.1 .8,.1 .8,.1 .7,.1 .8,.1 .8,0 .8,0 .8,0 .8,.1 .8,0 .8,0 .8,0 .8,0 .8,.1 .8,0 .8,.1 .8,0 .8,.1 .8,0 .8,.1 .8,.1 .8,.1 .8,.2 .8,.1 .8,.2 .8,.1 .8,.2 .8,.1 .7,.1 .8,.1 .8,.1 .8,.1 .8,0 .8,0 .8,-.1 .8,0 .8,0 .8,-.1 .8,0 .8,.1 .8,.1 .8,.1 .8,.2 .8,.2 .8,.2 .8,.3 .8,.2 .8,.2 .8,.2 .8,.1 .8,.1 .8,0 .8,0 .8,.1 .8,0 .8,0 .8,.1 .8,0 .8,.1 .8,.1 .8,.1 .8,.2 .8,0 .8,.1 .7,0 .8,0 .8,-.1 .8,-.1 .8,-.1 .8,0 .8,0 .8,0 .8,.1 .8,.1 .8,.1 .8,.2 .8,.1 .8,.3 .8,.2 .8,.2 .8,.1 .8,.2 .8,.1 .8,.1 .8,.1 .8,0 .8,0 .8,0 .8,0 .8,0 .8,0 .8,0 .8,-.1 .8,0 .8,0 .8,0 .8,0 .8,0 .8,0 .8,-.1 .8,0 .8,-.1 .8,-.1 .8,-.1 .8,0 .8,-.1 .8,-.1 .8,-.1 .8,-.2 .8,-.1 .9,-.1 .8,-.1 .8,-.1 .8,-.2 .8,-.1 .8,-.1 .8,-.1 .8,-.1 .8,-.1 .7,-.1 .8,-.1 .8,0 .8,-.1 .7,0 .8,0 .7,-.1 .8,-.2 .7,-.2 .8,-.2 .7,-.3 .8,-.3 .7,-.4 .7,-.3 .7,-.4 .8,-.3 .7,-.4 .7,-.4 .7,-.4 .7,-.4 .7,-.5 .7,-.4 .7,-.4 .7,-.4 .7,-.4 .7,-.4 .7,-.4 .6,-.4 .7,-.4 .7,-.4 .7,-.5 .7,-.4 .6,-.5 .7,-.4 .7,-.5 .6,-.5 .7,-.4 .6,-.5 .7,-.5 .6,-.5 .7,-.5 .6,-.5 .6,-.5 .6,-.5 .7,-.6 .6,-.5 .6,-.5 .6,-.5 .6,-.6 .6,-.5 .5,-.5 .6,-.6 .6,-.5 .5,-.6 .6,-.5 .5,-.6 .6,-.6 .5,-.6 .6,-.6 .5,-.6 .5,-.6 .6,-.6 .5,-.7 .5,-.6 .5,-.6 .5,-.6 .5,-.7 .5,-.6 .5,-.7 .5,-.6 .4,-.7 .5,-.6 .5,-.7 .4,-.6 .4,-.7 .5,-.6 .4,-.7 .4,-.7 .4,-.6 .4,-.7 .4,-.7 .4,-.7 .4,-.7 .4,-.7 .4,-.7 .4,-.7 .4,-.7 .3,-.7 .4,-.7 .4,-.7 .3,-.8 .4,-.7 .4,-.7 .3,-.7 .4,-.7 .3,-.8 .4,-.7 .3,-.7 .4,-.7 .3,-.8 .4,-.7 .3,-.7 .3,-.8 .4,-.7 .3,-.7 .4,-.7 .3,-.8 .4,-.7 .3,-.7 .3,-.7 .4,-.7 .3,-.8 .4,-.7 .3,-.7 .3,-.7 .4,-.8 .3,-.7 .4,-.7 .3,-.8 .3,-.7 .4,-.7 .3,-.7 .3,-.8 .4,-.7 .3,-.7 .3,-.8 .4,-.7 .3,-.7 .3,-.8 .3,-.7 .4,-.7 .3,-.8 .3,-.7 .3,-.8 .3,-.7 .3,-.7 .3,-.8 .3,-.7 .3,-.8 .3,-.7 .3,-.7 .3,-.8 .3,-.7 .3,-.8 .2,-.7 .3,-.8 .3,-.7 .3,-.8 .2,-.7 .3,-.8 .2,-.7 .3,-.8 .2,-.7 .3,-.8 .2,-.8 .3,-.7 .2,-.8 .2,-.8 .3,-.7 .2,-.8 .2,-.8 .2,-.7 .3,-.8 .2,-.8 .2,-.7 .2,-.8 .2,-.8 .3,-.7 .2,-.8 .2,-.8 .2,-.8 .2,-.7 .2,-.8 .2,-.8 .3,-.7 .2,-.8 .2,-.8 .2,-.8 .2,-.7 .2,-.8 .2,-.8 .3,-.8 .2,-.7 .2,-.8 .2,-.8 .2,-.7 .3,-.8 .2,-.8 .2,-.8 .2,-.7 .3,-.8 .2,-.8 .2,-.7 .3,-.8 .2,-.7 .2,-.8 .3,-.8 .2,-.7 .2,-.8 .3,-.8 .2,-.7 .3,-.8 .2,-.8 .2,-.7 .3,-.8 .2,-.8 .2,-.7 .3,-.8 .2,-.7 .3,-.8 .2,-.8 .2,-.7 .3,-.8 .2,-.8 .3,-.7 .2,-.8 .2,-.8 .3,-.7 .2,-.8 .3,-.7 .2,-.8 .3,-.8 .2,-.7 .2,-.8 .3,-.8 .2,-.7 .3,-.8 .2,-.7 .3,-.8 .2,-.8 .2,-.7 .3,-.8 .2,-.7 .3,-.8 .2,-.8 .3,-.7 .2,-.8 .3,-.8 .2,-.7 .2,-.8 .3,-.7 .2,-.8 .3,-.8 .2,-.7 .3,-.8 .2,-.8 .3,-.7 .2,-.8 .3,-.7 .2,-.8 .3,-.8 .2,-.7 .3,-.8 .2,-.7 .3,-.8 .2,-.8 .3,-.7 .2,-.8 .2,-.7 .3,-.8 .2,-.8 .3,-.7 .2,-.8 .3,-.7 .2,-.8 .3,-.8 .2,-.7 .3,-.8 .2,-.7 .3,-.8 .2,-.8 .3,-.7 .3,-.8 .2,-.7 .3,-.8 .2,-.8 .3,-.7 .2,-.8 .3,-.7 .2,-.8 .3,-.8 .2,-.7 .3,-.8 .2,-.7 .3,-.8 .2,-.8 .3,-.7 .2,-.8 .3,-.7 .2,-.8 .3,-.8 .3,-.7 .2,-.8 .3,-.7 .2,-.8 .3,-.8 .2,-.7 .3,-.8 .2,-.7 .3,-.8 .2,-.8 .3,-.7 .3,-.8 .2,-.7 .3,-.8 .2,-.7 .3,-.8 .2,-.8 .3,-.7 .2,-.8 .3,-.7 .3,-.8 .2,-.8 .3,-.7 .2,-.8 .3,-.7 .2,-.8 .3,-.7 .2,-.8 .3,-.8 .3,-.7 .2,-.8 .3,-.7 .2,-.8 .3,-.7 .2,-.8 .3,-.8 .3,-.7 .2,-.8 .3,-.7 .2,-.8 .3,-.8 .2,-.7 .3,-.8 .3,-.7 .2,-.8 .3,-.7 .2,-.8 .3,-.8 .3,-.7 .2,-.8 .3,-.7 .2,-.8 .3,-.7 .2,-.8 .3,-.8 .3,-.7 .2,-.8 .3,-.7 .2,-.8 .3,-.8 .3,-.7 .2,-.8 .3,-.7 .2,-.8 .3,-.7 .2,-.8 .3,-.8 .3,-.7 .2,-.8 .3,-.7 .2,-.8 .3,-.7 .3,-.8 .2,-.8 .3,-.7 .2,-.8 .3,-.7 .3,-.8 .2,-.7 .3,-.8 .2,-.8 .3,-.7 .3,-.8 .2,-.7 .3,-.8 .2,-.7 .3,-.8 .3,-.8 .2,-.7 .3,-.8 .2,-.7 .3,-.8 .3,-.7 .2,-.8 .3,-.8 .2,-.7 .3,-.8 .2,-.7 .3,-.8 .3,-.7 .2,-.8 .3,-.8 .2,-.7 .3,-.8 .3,-.7 .2,-.8 .3,-.7 .2,-.8 .3,-.7 .3,-.8 .2,-.8 .3,-.7 .2,-.8 .3,-.7 .3,-.8 .2,-.7 .3,-.8 .2,-.8 .3,-.7 .3,-.8 .2,-.7 .3,-.8 .2,-.8 .3,-.7 .3,-.8 .2,-.7 .3,-.8 .2,-.7 .3,-.8 .3,-.7 .2,-.8 .3,-.8 .3,-.7 .2,-.8 .3,-.7 .2,-.8 .3,-.7 .3,-.8 .2,-.8 .3,-.7 .2,-.8 .3,-.7 .3,-.8 .2,-.7 .3,-.8 .3,-.8 .2,-.7 .3,-.8 .2,-.7 .3,-.8 .3,-.7 .2,-.8 .3,-.7 .2,-.8 .3,-.8 .3,-.7 .2,-.8 .3,-.7 .3,-.8 .2,-.7 .3,-.8 .3,-.8 .2,-.7 .3,-.8 .2,-.7 .3,-.8 .3,-.7 .2,-.8 .3,-.7 .3,-.8 .2,-.8 .3,-.7 .3,-.8 .2,-.7 .3,-.8 .3,-.7 .2,-.8 .3,-.7 .3,-.8 .2,-.8 .3,-.7 .2,-.8 .3,-.7 .3,-.8 .2,-.7 .3,-.8 .3,-.7 .2,-.8 .3,-.8 .3,-.7 .2,-.8 .3,-.7 .3,-.8 .3,-.7 .2,-.8 .3,-.7 .3,-.8 .2,-.7 .3,-.8 .3,-.8 .2,-.7 .3,-.8 .3,-.7 .2,-.8 .3,-.7 .3,-.8 .2,-.7 .3,-.8 .3,-.7 .3,-.8 .2,-.7 .3,-.8 .3,-.7 .2,-.8 .3,-.7 .3,-.8 .3,-.8 .2,-.7 .3,-.8 .3,-.7 .2,-.8 .3,-.7 .3,-.8 .3,-.7 .2,-.8 .3,-.7 .3,-.8 .3,-.7 .2,-.8 .3,-.7 .3,-.8 .3,-.7 .2,-.8 .3,-.7 .3,-.8 .3,-.7 .2,-.8 .3,-.8 .3,-.7 .3,-.8 .2,-.7 .3,-.8 .3,-.7 .3,-.7 .3,-.8 .2,-.7 .3,-.8 .3,-.7 .3,-.8 .2,-.7 .3,-.8 .3,-.7 .3,-.8 .3,-.7 .2,-.8 .3,-.7 .3,-.8 .3,-.7 .3,-.8 .3,-.7 .2,-.8 .3,-.7 .3,-.8 .3,-.7 .3,-.8 .3,-.7 .2,-.8 .3,-.7 .3,-.8 .3,-.7 .3,-.8 .3,-.7 .2,-.8 .3,-.7 .3,-.7 .3,-.8 .3,-.7 .3,-.8 .3,-.7 .2,-.8 .3,-.7 .3,-.8 .3,-.7 .3,-.8 .3,-.7 .3,-.8 .3,-.7 .2,-.7 .3,-.8 .3,-.7 .3,-.8 .3,-.7 .3,-.8 .3,-.7 .3,-.8 .3,-.7 .3,-.8 .3,-.7 .2,-.7 .3,-.8 .3,-.7 .3,-.8 .3,-.7 .3,-.8 .3,-.7 .3,-.8 .3,-.7 .3,-.7 .3,-.8 .3,-.7 .3,-.8 .3,-.7 .3,-.8 .2,-.7 .3,-.8 .3,-.7 .3,-.7 .3,-.8 .3,-.7 .3,-.8 .3,-.7 .3,-.8 .3,-.7 .3,-.7 .3,-.8 .3,-.7 .3,-.8 .3,-.7 .3,-.8 .3,-.7 .3,-.7 .3,-.8 .3,-.7 .3,-.8 .3,-.7 .3,-.8 .3,-.7 .3,-.7 .3,-.8 .3,-.7 .3,-.8 .3,-.7 .3,-.7 .3,-.8 .3,-.7 .3,-.8 .3,-.7 .3,-.7 .3,-.8 .3,-.7 .3,-.8 .3,-.7 .3,-.7 .3,-.8 .3,-.7 .3,-.8 .4,-.7 .3,-.7 .3,-.8 .3,-.7 .3,-.8 .3,-.7 .3,-.7 .3,-.8 .3,-.7 .3,-.8 .3,-.7 .3,-.7 .3,-.8 .3,-.7 .3,-.8 .3,-.7 .4,-.7 .3,-.8 .3,-.7 .3,-.8 .3,-.7 .3,-.7 .3,-.8 .3,-.7 .3,-.8 .3,-.7 .4,-.7 .3,-.8 .3,-.7 .3,-.7 .3,-.8 .3,-.7 .3,-.8 .3,-.7 .3,-.7 .4,-.8 .3,-.7 .3,-.7 .3,-.8 .3,-.7 .3,-.7 .3,-.8 .3,-.7 .4,-.8 .3,-.7 .3,-.7 .3,-.8 .3,-.7 .3,-.7 .3,-.8 .4,-.7 .3,-.7 .3,-.8 .3,-.7 .3,-.8 .3,-.7 .4,-.7 .3,-.8 .3,-.7 .3,-.7 .3,-.8 .3,-.7 .4,-.7 .3,-.8 .3,-.7 .3,-.7 .3,-.8 .3,-.7 .4,-.8 .3,-.7 .3,-.7 .3,-.8 .3,-.7 .4,-.7 .3,-.8 .3,-.7"/>
<path d="M194,1015.6l0,.8 0,.8 .1,.8 0,.8 0,.8 0,.8 .1,.8 0,.8 0,.8 0,.8 0,.8 .1,.8 0,.8 0,.8 0,.8 0,.8 .1,.8 0,.8 0,.8 0,.8 0,.8 0,.8 .1,.8 0,.8 0,.8 0,.8 0,.8 0,.8 .1,.8 0,.8 0,.8 0,.8 0,.8 .1,.8 0,.8 0,.8 0,.8 0,.8 0,.8 .1,.8 0,.8 0,.8 0,.8 0,.8 0,.8 0,.8 .1,.8 0,.8 0,.8 0,.8 0,.8 0,.8 .1,.8 0,.8 0,.8 0,.8 0,.8 0,.8 .1,.8 0,.8 0,.8 0,.8 0,.8 .1,.8 0,.8 0,.8 0,.8 0,.8 0,.8 .1,.8 0,.8 0,.8 0,.8 0,.8 .1,.8 0,.8 0,.8 0,.8 0,.8 0,.8 .1,.8 0,.8 0,.8 0,.8 0,.8 .1,.8 0,.8 0,.8 0,.8 0,.8 .1,.8 0,.8 0,.8 0,.8 0,.8 .1,.8 0,.8 0,.8 0,.8 0,.8 .1,.8 0,.8 0,.8 0,.8 0,.8 .1,.8 0,.8 0,.8 0,.8 0,.8 .1,.8 0,.8 0,.8 0,.8 0,.8 .1,.8 0,.8 0,.8 0,.8 0,.8 0,.8 .1,.8 0,.8 0,.8 0,.8 0,.8 .1,.8 0,.8 0,.8 0,.8 0,.8 0,.8 .1,.8 0,.8 0,.8 0,.8 0,.8 0,.8 .1,.8 0,.8 0,.8 0,.8 0,.8 0,.8 .1,.8 0,.8 0,.8 0,.8 0,.8 0,.8 0,.8 .1,.8 0,.8 0,.8 0,.8 0,.8 0,.8 .1,.8 0,.8 0,.8 0,.8 0,.8 0,.8 0,.8 .1,.8 0,.8 0,.8 0,.8 0,.8 0,.8 0,.8 .1,.8 0,.8 0,.8 0,.8 0,.8 0,.8 0,.8 .1,.8 0,.8 0,.8 0,.8 0,.8 0,.8 0,.8 0,.8 .1,.8 0,.8 0,.8 0,.8 0,.8 0,.8 0,.8 .1,.8 0,.8 0,.8 0,.8 0,.8 0,.8 0,.8 .1,.8 0,.8 0,.8 0,.8 0,.8 0,.8 0,.8 .1,.8 0,.8 0,.8 0,.8 0,.8 0,.8 0,.8 .1,.8 0,.8 0,.8 0,.8 0,.8 0,.8 0,.8 0,.8 .1,.8 0,.8 0,.8 0,.8 0,.8 0,.8 .1,.8 0,.8 0,.8 0,.8 0,.8 0,.8 0,.8 .1,.8 0,.8 0,.8 0,.8 0,.8 0,.8 0,.8 .1,.8 0,.8 0,.8 0,.8 0,.8 0,.8 0,.8 .1,.8 0,.8 0,.8 0,.8 0,.8 0,.8 0,.8 .1,.8 0,.8 0,.8 0,.8 0,.8 0,.8 0,.8 .1,.8 0,.8 0,.8 0,.8 0,.8 0,.8 0,.8 .1,.8 0,.8 0,.8 0,.8 0,.8 0,.8 0,.8 .1,.8 0,.8 0,.8 0,.8 0,.8 0,.8 0,.8 .1,.8 0,.8 0,.8 0,.8 0,.8 0,.8 0,.8 .1,.8 0,.8 0,.8 0,.8 0,.8 0,.8 0,.8 .1,.8 0,.8 0,.8 0,.8 0,.8 0,.8 0,.8 0,.8 .1,.8 0,.8 0,.8 0,.8 0,.8 0,.8 0,.8 .1,.8 0,.8 0,.8 0,.8 0,.8 0,.8 0,.8 .1,.8 0,.8 0,.8 0,.8 0,.8 0,.8 0,.8 .1,.8 0,.8 0,.8 0,.8 0,.8 0,.8 0,.8 .1,.8 0,.8 0,.8 0,.8 0,.8 0,.8 .1,.8 0,.8 0,.8 0,.8 0,.8 0,.8 .1,.8 0,.8 0,.8 0,.8 0,.8 .1,.8 0,.8 0,.8 0,.8 0,.8 .1,.8 0,.8 0,.8 0,.8 0,.8 .1,.8 0,.8 0,.8 0,.8 .1,.8 0,.8 0,.8 0,.8 .1,.8 0,.8 0,.8 0,.8 .1,.8 0,.8 0,.8 0,.8 .1,.8 0,.8 0,.8 0,.8 .1,.8 0,.8 0,.8 .1,.8 0,.8 0,.8 0,.8 .1,.8 0,.8 0,.8 0,.8 .1,.8 0,.8 0,.8 0,.8 .1,.8 0,.8 0,.8 0,.8 .1,.8 0,.8 0,.8 .1,.8 0,.8 0,.8 0,.8 .1,.8 0,.8 0,.8 .1,.8 0,.8 0,.8 0,.8 .1,.8 0,.8 0,.8 .1,.8 0,.8 0,.8 .1,.8 0,.8 0,.8 0,.8 .1,.8 0,.8 0,.8 .1,.8 0,.8 0,.8 .1,.8 0,.8 0,.8 .1,.8 0,.8 0,.8 .1,.8 0,.8 0,.8 .1,.8 0,.8 0,.8 .1,.8 0,.8 0,.8 0,.8 .1,.8 0,.8 0,.8 .1,.8 0,.8 0,.8 .1,.8 0,.8 .1,.8 0,.8 .1,.8 0,.8 .1,.8 .1,.8 .1,.8 .1,.8 .1,.7 .1,.8 .1,.8 .1,.8 .1,.8 .1,.8 .1,.8 .1,.8 .1,.8 .1,.8 .1,.8 .1,.8 .1,.8 .1,.8 .1,.8 .1,.8 .1,.8 .1,.8 .1,.8 .1,.7 .1,.8 .1,.8 .1,.8 .1,.8 .1,.8 .1,.8 .1,.8 .1,.8 .1,.8 .1,.8 .2,.8 .1,.8 .1,.8 .1,.7 .2,.8 .1,.8 .1,.8 .2,.8 .1,.8 .2,.7 .2,.8 .1,.8 .2,.8 .2,.8 .2,.7 .1,.8 .2,.8 .2,.8 .2,.7 .2,.8 .2,.8 .3,.8 .2,.7 .2,.8 .2,.8 .2,.8 .3,.7 .2,.8 .2,.8 .3,.7 .2,.8 .2,.8 .3,.7 .2,.8 .3,.8 .2,.7 .2,.8 .3,.8 .2,.7 .3,.8 .2,.7 .3,.8 .2,.8 .2,.7 .3,.8 .2,.8 .3,.7 .2,.8 .3,.7 .2,.8 .3,.8 .2,.7 .3,.8 .3,.7 .2,.8 .3,.7 .3,.8 .3,.7 .2,.8 .3,.7 .3,.8 .3,.7 .3,.8 .2,.7 .3,.8 .3,.7 .3,.8 .3,.7 .3,.8 .3,.7 .3,.7 .3,.8 .4,.7 .3,.7 .3,.8 .3,.7 .3,.7 .4,.8 .3,.7 .3,.7 .4,.7 .3,.8 .4,.7 .3,.7 .4,.7 .3,.7 .4,.8 .3,.7 .4,.7 .4,.7 .3,.7 .4,.7 .4,.7 .4,.8 .3,.7 .4,.7 .4,.7 .4,.7 .3,.7 .4,.7 .4,.7 .4,.7 .4,.7 .3,.7 .4,.7 .4,.7 .4,.7 .4,.7 .4,.8 .4,.7 .4,.7 .4,.7 .4,.7 .4,.7 .4,.7 .4,.7 .4,.6 .4,.7 .5,.7 .4,.7 .4,.7 .5,.6 .4,.7 .4,.7 .5,.6 .4,.7 .5,.6 .5,.6 .4,.7 .5,.6 .5,.6 .5,.6 .5,.6 .5,.6 .5,.6 .6,.6 .5,.6 .5,.6 .6,.5 .6,.6 .5,.6 .6,.6 .6,.5 .6,.6 .6,.5 .6,.6 .5,.5 .6,.6 .6,.5 .6,.6 .6,.5 .6,.6 .6,.5 .6,.6 .6,.5 .6,.6 .6,.5 .5,.6 .6,.5 .6,.6 .6,.5 .6,.5 .6,.6 .6,.5 .5,.6 .6,.5 .6,.6 .6,.5 .6,.6 .6,.5 .6,.5 .6,.6 .6,.5 .7,.5 .6,.5 .6,.5 .6,.5 .7,.5 .6,.4 .6,.5 .7,.4 .6,.5 .7,.4 .6,.5 .7,.4 .7,.5 .7,.4 .6,.5 .7,.4 .7,.5 .7,.4 .7,.5 .7,.4 .6,.4 .7,.5 .7,.4 .7,.4 .7,.3 .7,.4 .7,.4 .6,.4 .7,.3 .7,.4 .7,.4 .7,.4 .7,.4 .7,.4 .7,.4 .7,.4 .7,.4 .6,.5 .7,.4 .7,.4 .7,.4 .7,.5 .7,.4 .7,.4 .7,.4 .7,.4 .7,.4 .7,.4 .7,.4 .7,.3 .7,.4 .7,.4 .7,.4 .7,.4 .7,.4 .8,.4 .7,.4 .7,.4 .7,.4 .7,.3 .7,.4 .7,.3 .7,.3 .7,.4 .8,.3 .7,.4 .7,.3 .7,.3 .7,.4 .8,.3 .7,.3 .7,.3 .7,.4 .7,.3 .8,.3 .7,.3 .7,.3 .8,.3 .7,.3 .7,.3 .8,.3 .7,.4 .7,.3 .8,.3 .7,.3 .8,.3 .7,.3 .7,.3 .8,.3 .7,.3 .8,.3 .7,.3 .8,.2 .7,.3 .8,.3 .7,.3 .8,.2 .8,.3 .7,.2 .8,.2 .7,.3 .8,.2 .8,.2 .7,.2 .8,.2 .7,.3 .8,.2 .8,.2 .7,.2 .8,.2 .8,.3 .7,.2 .8,.3 .8,.3 .7,.3 .8,.2 .8,.4 .8,.3 .7,.3 .8,.3 .8,.3 .7,.3 .8,.2 .8,.3 .8,.2 .7,.2 .8,.2 .8,.2 .7,.1 .8,.2 .8,.2 .8,.2 .7,.1 .8,.2 .8,.2 .8,.1 .7,.2 .8,.2 .8,.1 .8,.2 .7,.2 .8,.2 .8,.2 .7,.2 .8,.3 .8,.2 .8,.2 .7,.3 .8,.2 .8,.3 .8,.2 .7,.3 .8,.2 .8,.2 .8,.2 .7,.2 .8,.2 .8,.2 .8,.2 .8,.2 .7,.2 .8,.1 .8,.1 .8,.2 .8,.1 .7,.2 .8,.1 .8,.2 .8,.1 .8,.1 .7,.2 .8,.1 .8,.1 .8,.2 .8,.1 .8,.2 .7,.1 .8,.2 .8,.1 .8,.2 .8,.2 .8,.1 .7,.2 .8,.2 .8,.1 .8,.2 .8,.2 .8,.1 .7,.2 .8,.2 .8,.2 .8,.3 .8,.2 .8,.3 .8,.2 .7,.3 .8,.2 .8,.2 .8,.2 .8,.2 .8,.1 .8,.1 .7,.1 .8,.1 .8,0 .8,.1 .8,0 .8,.1 .8,0 .8,.1 .7,.1 .8,.2 .8,.2 .8,.2 .8,.2 .8,.2 .8,.2 .8,.2 .7,.2 .8,.2 .8,.1 .8,.2 .8,.1 .8,.2 .8,.1 .8,.1 .8,.1 .8,.1 .7,.1 .8,.1 .8,.1 .8,.1 .8,.1 .8,.2 .8,.1 .8,.1 .8,.1 .8,.2 .8,.1 .7,.1 .8,.1 .8,0 .8,.1 .8,.1 .8,0 .8,0 .8,0 .8,-.1 .8,0 .8,0 .8,-.1 .8,0 .8,0 .8,.1 .7,.1 .8,.1 .8,.1 .8,.2 .8,.2 .8,.2 .8,.3 .8,.2 .8,.2 .8,.2 .8,.2 .8,.1 .8,0 .8,.1 .8,0 .8,-.1 .8,0 .8,0 .8,-.1 .8,0 .8,0 .8,0 .8,-.1 .8,0 .7,.1 .8,0 .8,0 .8,0 .8,.1 .8,0 .8,0 .8,0 .8,.1 .8,0 .8,.1 .8,.1 .8,0 .8,.1 .8,.1 .8,.1 .8,.1 .8,0 .8,0 .8,.1 .8,0 .8,0 .8,-.1 .8,0 .8,-.1 .8,0 .8,-.1 .8,-.1 .8,-.1 .8,-.1 .8,-.1 .8,0 .8,-.1 .8,0 .8,0 .8,0 .8,0 .8,0 .8,0 .8,.1 .8,0 .8,.1 .8,0 .9,.1 .8,0 .8,.1 .8,.1 .8,.1 .8,.1 .8,.1 .8,.1 .8,.1 .8,.1 .8,.2 .8,0 .8,.1 .8,.1 .8,0 .8,.1 .8,0 .8,.1 .8,.1 .8,.1 .8,0 .8,.1 .8,0 .8,.1 .8,0 .8,0 .8,.1 .8,0 .8,0 .8,0 .8,-.1 .8,0 .8,-.2 .8,-.1 .8,-.1 .8,-.2 .8,-.1 .8,-.1 .8,-.1 .8,-.1 .8,0 .8,0 .8,0 .8,.1 .8,.2 .8,.1 .8,.2 .8,.1 .8,0 .8,.1 .8,0 .8,0 .8,-.1 .8,0 .8,0 .8,0 .8,.1 .8,.1 .8,.1 .8,.1 .8,.1 .8,.2 .8,0 .8,0 .8,0 .8,0 .8,-.1 .8,-.1 .8,0 .8,-.1 .8,0 .8,0 .8,0 .8,.1 .8,.1 .8,.1 .8,.2 .8,.1 .8,.1 .8,.1 .8,.1 .8,0 .8,0 .8,-.1 .8,-.1 .8,0 .8,-.1 .8,-.1 .8,-.1 .8,-.1 .8,-.1 .8,-.1 .8,0 .8,0 .8,0 .8,0 .8,0 .8,0 .8,0 .8,0 .8,0 .8,0 .8,0 .8,.1 .8,0 .8,.1 .8,.1 .8,.1 .8,0 .8,.1 .8,.1 .8,.1 .8,.1 .8,.1 .8,.1 .8,.1 .8,.1 .8,0 .8,.1 .8,0 .8,0 .8,0 .8,0 .8,0 .8,0 .8,0 .8,.1 .8,0 .8,.1 .8,.1 .8,0 .8,.1 .8,.1 .8,0 .8,-.1 .8,0 .8,-.2 .8,-.1 .8,-.1 .8,-.1 .8,-.1 .8,-.1 .8,-.1 .8,0 .8,-.1 .8,-.1 .8,-.1 .8,-.1 .8,-.1 .8,-.1 .8,-.1 .8,0 .8,-.1 .8,0 .8,.1 .8,.1 .8,.2 .8,.2 .8,.2 .8,.2 .8,.2 .8,.1 .8,.1 .8,0 .8,0 .8,-.1 .8,-.1 .8,-.2 .8,-.2 .8,-.1 .8,-.2 .8,-.1 .8,0 .8,-.1 .8,.1 .8,.1 .8,.1 .8,.2 .8,.2 .8,.3 .8,.2 .8,.1 .8,.2 .8,.1 .8,.1 .8,0 .8,0 .8,0 .8,0 .8,-.1 .8,0 .8,-.1 .8,0 .8,0 .8,.1 .8,0 .8,.1 .8,0 .8,0 .8,0 .8,0 .8,-.1 .8,-.1 .8,-.1 .8,-.1 .8,-.1 .8,-.2 .8,-.1 .8,-.1 .8,-.1 .8,-.1 .8,0 .8,0 .8,0 .8,0 .8,.1 .8,0 .8,.1 .8,0 .8,0 .8,.1 .8,0 .8,.1 .8,.1 .8,.1 .8,.1 .8,.2 .8,.1 .8,.1 .8,.1 .8,.1 .8,0 .8,.1 .8,0 .8,0 .8,0 .8,0 .8,0 .8,-.1 .8,0 .8,-.1 .8,0 .8,-.1 .8,-.1 .8,-.1 .8,0 .8,-.1 .8,0 .8,0 .8,.1 .8,.1 .8,.2 .8,.1 .8,.2 .8,.2 .8,.2 .8,.1 .8,.1 .8,.1 .8,.1 .8,0 .8,.1 .8,.1 .8,.1 .8,.1 .8,0 .8,0 .8,0 .8,-.1 .8,-.1 .8,-.1 .8,-.1 .8,-.1 .8,-.1 .8,0 .8,0 .8,0 .8,.2 .8,.2 .8,.1 .8,.2 .8,.1 .8,0 .8,0 .8,-.1 .8,-.1 .8,-.2 .8,-.2 .8,-.3 .8,-.1 .8,-.2 .8,-.1 .8,0 .8,0 .8,.1 .8,.1 .8,.1 .8,.1 .8,.1 .8,0 .8,0 .8,0 .8,0 .8,0 .8,0 .8,0 .8,0 .8,0 .8,0 .8,0 .8,.1 .8,0 .8,.1 .8,.1 .8,0 .8,.1 .8,.1 .8,0 .8,0 .8,0 .8,0 .8,0 .8,0 .8,-.1 .8,0 .8,0 .8,-.1 .8,0 .8,-.1 .8,-.1 .8,0 .8,0 .8,0 .8,.1 .8,0 .8,.1 .8,0 .8,.1 .8,0 .8,0 .8,0 .8,.1 .8,0 .8,.1 .8,0 .8,.1 .8,.1 .8,.1 .8,0 .8,.1 .8,0 .8,0 .8,0 .8,0 .8,-.1 .8,-.1 .8,0 .8,0 .8,-.1 .8,0 .8,-.1 .8,0 .8,0 .8,0 .8,0 .8,-.1 .8,0 .8,-.1 .8,-.2 .8,-.1 .8,-.1 .8,-.2 .8,0 .8,0 .8,0 .8,.1 .8,.2 .8,.2 .8,.1 .8,.2 .8,.2 .8,.2 .8,.1 .8,.1 .8,0 .8,.1 .8,-.1 .8,-.1 .8,-.1 .8,-.1 .8,-.1 .8,-.1 .8,-.1 .8,-.1 .8,0 .8,0 .8,.1 .8,0 .8,.1 .8,.1 .8,.1 .8,0 .8,.1 .8,0 .8,0 .8,0 .8,0 .8,-.1 .8,0 .8,0 .8,0 .8,0 .8,.1 .8,0 .8,.1 .8,.1 .8,0 .8,.1 .8,0 .8,0 .8,0 .8,0 .8,0 .8,0 .8,0 .8,.1 .8,.1 .8,.1 .8,.1 .8,.1 .8,.2 .8,.1 .8,0 .8,.1 .8,0 .8,.1 .8,-.1 .8,0 .8,-.1 .8,-.1 .8,-.1 .8,-.2 .8,-.1 .8,-.2 .8,-.1 .8,-.1 .8,-.1 .8,0 .8,0 .8,.1 .8,0 .8,.2 .8,.1 .8,.2 .8,.1 .8,.2 .8,.2 .8,.1 .8,.1 .9,.1 .8,0 .8,0 .8,0 .8,-.1 .8,0 .8,-.1 .8,-.1 .8,-.1 .8,-.1 .8,-.1 .8,-.1 .8,0 .8,0 .8,0 .8,0 .8,0 .8,0 .8,0 .8,-.1 .8,0 .8,-.1 .8,-.1 .8,0 .8,-.1 .8,0 .8,0 .8,0 .8,0 .8,.1 .8,0 .8,.1 .8,.1 .8,.1 .8,.1 .8,0 .8,.1 .8,0 .8,0 .8,0 .8,0 .8,0 .8,0 .8,0 .8,.1 .8,0 .8,.1 .8,.1 .8,.1 .8,.1 .8,0 .8,.1 .8,0 .8,.1 .8,0 .8,0 .8,-.1 .8,0 .8,-.1 .8,-.1 .8,-.1 .8,-.1 .8,0 .8,0 .8,0 .8,0 .8,.1 .8,0 .8,.1 .8,0 .8,.1 .8,0 .8,.1 .8,-.1 .8,0 .8,0 .8,-.1 .8,-.1 .8,-.1 .8,-.1 .8,-.1 .8,0 .8,-.1 .8,0 .8,0 .8,0 .8,0 .8,.1 .8,.1 .8,0 .8,.1 .8,0 .8,0 .8,-.1 .8,0 .8,-.1 .8,0 .8,-.1 .8,0 .8,0 .8,0 .8,.1 .8,.1 .8,.1 .8,.1 .8,.1 .8,.1 .8,0 .8,0 .8,-.1 .8,-.2 .8,-.2 .8,-.2 .8,-.2 .8,-.2 .8,-.1 .8,-.1 .8,0 .8,.1 .8,.1 .8,.2 .8,.2 .8,.2 .8,.2 .8,.2 .8,.2 .8,.1 .8,.1 .8,0 .8,0 .8,0 .8,-.1 .8,0 .8,-.1 .8,0 .8,0 .8,-.1 .8,0 .8,0 .8,0 .8,0 .8,0 .8,0 .8,0 .8,0 .8,0 .8,-.1 .8,0 .8,-.1 .8,-.2 .8,-.1 .8,-.2 .8,-.2 .8,-.1 .8,-.1 .8,0 .8,0 .8,0 .8,.1 .8,.1 .8,.1 .8,.2 .8,.1 .8,.1 .8,0 .8,0 .8,0 .8,0 .8,0 .8,0 .8,0 .8,0 .8,0 .8,.1 .8,.1 .8,.1 .8,0 .8,.1 .8,0 .8,-.1 .8,-.1 .8,-.1 .8,-.2 .8,-.2 .8,-.1 .8,-.2 .8,-.1 .8,-.1 .8,0 .8,0 .8,0 .8,0 .8,0 .8,0 .8,0 .8,0 .8,0 .8,0 .8,0 .8,0 .8,-.1 .8,-.1 .8,-.1 .8,0 .8,-.1 .8,0 .8,0 .8,.1 .8,.1 .8,.1 .8,.2 .8,.1 .8,.2 .8,.2 .8,.3 .8,.2 .8,.3 .8,.2 .8,.1 .8,.1 .8,0 .8,0 .8,0 .8,-.1 .8,-.1 .8,-.1 .8,-.1 .8,-.1 .8,-.1 .8,-.1 .8,0 .8,-.1 .8,0 .8,.1 .8,0 .8,.1 .8,0 .8,0 .8,0 .8,-.1 .8,0 .8,0 .8,-.1 .8,0 .8,0 .8,.1 .8,0 .8,0 .8,0 .8,-.1 .8,-.1 .8,0 .8,-.1 .8,-.1 .8,-.1 .8,-.1 .8,-.1 .8,-.1 .8,-.1 .8,-.1 .8,0"/>
</g>
<path d="M208,1371.2l1,6 1,5.3 1,4.5 1,4 1,3.8 1,3.6 1,3.5 1,3.4 1,3.4 1,3.4 1,3.4 1,3.4 1,3.2 1,3.2 1,3.1 1,3 1,3 1,2.9 1,2.8 1,2.7 1,2.6 1,2.5 1,2.4 1,2.4 1,2.4 1,2.4 1,2.5 1,2.5 1,2.9 1,3.2 1,3.1 1,2.8 1,2.4 1,2.1 1,1.7 1,1.5 1,1.4 1,1.2 1,1.2 1,1.2 1,1 1,1.1 1,1 1,1 1,1 1,1 1,1 1,.9 1,.9 1,.9 1,.9 1,.8 1,.9 1,.7 1,.7 1,.8 1,.7 1,.8 1,.7 1,.7 1,.6 1,.6 1,.6 1,.6 1,.4 1,.6 1,.5 1,.5 1,.5 1,.5 1,.5 1,.5 1,.5 1,.4 1,.5 1,.5 1,.4 1,.4 1,.3 1,.2 1,.4 1,.4 1,.1 1,.3 1,.3 1,.3 1,.2 1,.4 1,.3 1,.1 1,.3 1,.2 1,.3 1,.4 1,.3 1,.3 1,.3 1,.3 1,.2 1,.3 1,.2 1,.2 1,.1 1,.3 1,.2 1,.2 1,.1 1,.1 1,.2 1,.2 1,.1 1,.2 1,.2 1,.1 1,.2 1,.1 1,.2 1,.2 1,.2 1,.2 1,.3 1,.2 1,.3 1,.3 1,.3 1,.2 1,.2 1,.1 1,.1 1,.1 1,0 1,.1 1,0 1,.1 1,.2 1,.2 1,.2 1,.1 1,.2 1,.1 1,.2 1,.3 1,.2 1,.2 1,0 1,.1 1,.2 1,0 1,0 1,0 1,0 1,.1 1,0 1,0 1,.1 1,.1 1,.1 1,0 1,.1 1,.2 1,.1 1,.2 1,.2 1,.2 1,.2 1,.1 1,.2 1,0 1,.1 1,0 1,-.1 1,-.1 1,0 1,.1 1,0 1,.2 1,.3 1,.2 1,.3 1,.3 1,.2 1,.1 1,.1 1,.1 1,.1 1,0 1,.1 1,0 1,.2 1,.1 1,.1 1,.1 1,.1 1,.1 1,0 1,-.1 1,-.2 1,-.1 1,0 1,.1 1,.1 1,.1 1,.2 1,.3 1,.2 1,.3 1,.2 1,.2 1,.2 1,.1 1,0 1,0 1,0 1,0 1,0 1,0 1,0 1,-.1 1,0 1,0 1,0 1,-.1 1,0 1,-.1 1,-.1 1,-.1 1,-.1 1,-.2 1,-.1 1,-.2 1,-.1 1,-.1 1,-.1 1,-.2 1,-.2 1,-.2 1,-.2 1,0 1,-.1 1,-.1 1,-.2 1,0 1,0 1,-.2 1,-.3 1,-.4 1,-.4 1,-.5 1,-.5 1,-.7 1,-.4 1,-.5 1,-.6 1,-.6 1,-.6 1,-.7 1,-.5 1,-.5 1,-.8 1,-.5 1,-.8 1,-.6 1,-.7 1,-.7 1,-.8 1,-.8 1,-.7 1,-.9 1,-.8 1,-.8 1,-.9 1,-.9 1,-.9 1,-1 1,-1 1,-1.1 1,-1 1,-1.1 1,-1.2 1,-1.3 1,-1.3 1,-1.2 1,-1.4 1,-1.3 1,-1.6 1,-1.5 1,-1.7 1,-1.7 1,-1.8 1,-1.8 1,-2 1,-1.9 1,-2.1 1,-2.2 1,-2 1,-2.1 1,-2.1 1,-2.2 1,-2.2 1,-2 1,-2.1 1,-2.2 1,-2.2 1,-2.3 1,-2.3 1,-2.3 1,-2.5 1,-2.5 1,-2.7 1,-2.7 1,-3 1,-3.1 1,-3.3 1,-3.5 1,-3.6 1,-3.6 1,-3.6 1,-3.6 1,-3.5 1,-3.3 1,-3.2 1,-3.2 1,-3.3 1,-3.2 1,-3.1 1,-3.1 1,-3.2 1,-3.2 1,-3.1 1,-3.1 1,-3.1 1,-3.1 1,-3.1 1,-3 1,-3.2 1,-3.1 1,-3 1,-3.1 1,-3 1,-3 1,-2.9 1,-3.2 1,-3 1,-2.9 1,-3 1,-2.9 1,-3 1,-3.1 1,-2.9 1,-2.9 1,-3 1,-2.9 1,-3 1,-2.9 1,-3 1,-2.9 1,-2.9 1,-3 1,-2.9 1,-3 1,-2.9 1,-2.9 1,-2.9 1,-3 1,-2.9 1,-2.9 1,-2.9 1,-2.9 1,-2.9 1,-3 1,-2.9 1,-2.9 1,-2.9 1,-2.9 1,-3 1,-2.9 1,-2.9 1,-2.9 1,-2.8 1,-2.9 1,-3 1,-2.9 1,-2.8 1,-3 1,-2.9 1,-2.7 1,-2.9 1,-2.9 1,-2.9 1,-2.8 1,-2.9 1,-2.7 1,-2.9 1,-2.8 1,-2.8 1,-2.8 1,-2.9 1,-2.7 1,-2.9 1,-2.7 1,-2.8 1,-2.7 1,-2.8 1,-2.7 1,-2.7 1,-2.8 1,-2.7 1,-2.7 1,-2.7 1,-2.7 1,-2.7 1,-2.7 1,-2.6 1,-2.6 1,-2.6 1,-2.7 1,-2.6 1,-2.7 1,-2.6 1,-2.5 1,-2.6 1,-2.5 1,-2.7 1,-2.5 1,-2.5 1,-2.7 1,-2.4 1,-2.5 1,-2.6 1,-2.5 1,-2.4 1,-2.6 1,-2.4 1,-2.7 1,-2.4 1,-2.4 1,-2.4 1,-2.5 1,-2.5 1,-2.4 1,-2.4 1,-2.3 1,-2.5 1,-2.4 1,-2.4 1,-2.4 1,-2.4 1,-2.4 1,-2.4 1,-2.4 1,-2.3 1,-2.4 1,-2.4 1,-2.3 1,-2.4 1,-2.3 1,-2.3 1,-2.4 1,-2.4 1,-2.3 1,-2.3 1,-2.3 1,-2.4 1,-2.3 0,3.8 -1,2.2 -1,2.2 -1,2.3 -1,2.5 -1,2.3 -1,2.2 -1,2.3 -1,2.4 -1,2.4 -1,2.4 -1,2.3 -1,2.2 -1,2.5 -1,2.3 -1,2.3 -1,2.4 -1,2.4 -1,2.4 -1,2.4 -1,2.4 -1,2.4 -1,2.4 -1,2.5 -1,2.4 -1,2.5 -1,2.4 -1,2.4 -1,2.5 -1,2.5 -1,2.4 -1,2.6 -1,2.4 -1,2.5 -1,2.7 -1,2.5 -1,2.3 -1,2.6 -1,2.5 -1,2.6 -1,2.5 -1,2.6 -1,2.6 -1,2.6 -1,2.5 -1,2.6 -1,2.6 -1,2.6 -1,2.6 -1,2.7 -1,2.5 -1,2.7 -1,2.7 -1,2.7 -1,2.6 -1,2.7 -1,2.6 -1,2.7 -1,2.7 -1,2.8 -1,2.8 -1,2.7 -1,2.7 -1,2.8 -1,2.7 -1,2.9 -1,2.8 -1,2.8 -1,2.7 -1,2.9 -1,2.9 -1,2.8 -1,2.7 -1,2.8 -1,2.9 -1,2.9 -1,2.8 -1,2.9 -1,2.8 -1,3 -1,2.9 -1,2.7 -1,3 -1,2.9 -1,2.8 -1,2.9 -1,2.9 -1,2.9 -1,2.9 -1,2.9 -1,2.9 -1,3 -1,3 -1,2.8 -1,2.9 -1,3 -1,2.9 -1,2.8 -1,2.9 -1,3 -1,2.9 -1,3 -1,2.8 -1,3 -1,2.8 -1,3 -1,2.9 -1,3 -1,2.9 -1,3 -1,3 -1,2.8 -1,3.1 -1,2.9 -1,3 -1,3 -1,2.9 -1,2.9 -1,3 -1,3 -1,2.9 -1,3.1 -1,3 -1,3 -1,3 -1,3 -1,3 -1,3.1 -1,3 -1,3.1 -1,3 -1,3.1 -1,3.1 -1,3.1 -1,3.1 -1,3.2 -1,3.1 -1,3.1 -1,3.2 -1,3.2 -1,3.1 -1,3.3 -1,3.2 -1,3.1 -1,3.4 -1,3.2 -1,3.4 -1,3.6 -1,3.7 -1,3.6 -1,3.6 -1,3.5 -1,3.2 -1,3.2 -1,2.9 -1,2.8 -1,2.6 -1,2.6 -1,2.4 -1,2.3 -1,2.4 -1,2.2 -1,2.2 -1,2.1 -1,2.2 -1,2.2 -1,2.1 -1,2.1 -1,2.1 -1,2.2 -1,2.1 -1,2 -1,2 -1,2.1 -1,1.9 -1,1.9 -1,1.8 -1,1.7 -1,1.6 -1,1.5 -1,1.6 -1,1.3 -1,1.4 -1,1.3 -1,1.3 -1,1.2 -1,1.1 -1,1.2 -1,1.1 -1,1 -1,1 -1,1.1 -1,1 -1,.8 -1,1 -1,.7 -1,.9 -1,.8 -1,.8 -1,.8 -1,.6 -1,.8 -1,.8 -1,.6 -1,.7 -1,.6 -1,.7 -1,.5 -1,.7 -1,.5 -1,.6 -1,.5 -1,.6 -1,.6 -1,.6 -1,.4 -1,.6 -1,.4 -1,.5 -1,.3 -1,.4 -1,.2 -1,.2 -1,0 -1,0 -1,.1 -1,0 -1,.1 -1,.2 -1,.2 -1,.1 -1,.1 -1,.2 -1,.1 -1,.2 -1,.1 -1,.1 -1,.2 -1,.2 -1,.1 -1,.1 -1,.1 -1,0 -1,0 -1,0 -1,0 -1,0 -1,.1 -1,0 -1,0 -1,.1 -1,0 -1,-.1 -1,0 -1,-.1 -1,0 -1,-.2 -1,-.2 -1,-.2 -1,-.3 -1,-.2 -1,-.3 -1,-.1 -1,-.1 -1,-.1 -1,0 -1,-.1 -1,.1 -1,.1 -1,.2 -1,-.1 -1,0 -1,-.1 -1,-.2 -1,0 -1,-.2 -1,-.1 -1,-.1 -1,.1 -1,0 -1,-.1 -1,-.1 -1,-.2 -1,-.2 -1,-.2 -1,-.3 -1,-.3 -1,-.3 -1,-.2 -1,-.2 -1,0 -1,0 -1,-.1 -1,.1 -1,.1 -1,0 -1,0 -1,-.1 -1,-.1 -1,-.1 -1,-.2 -1,-.2 -1,-.2 -1,-.2 -1,-.1 -1,-.2 -1,-.1 -1,-.1 -1,0 -1,0 -1,-.2 -1,0 -1,0 -1,0 -1,0 -1,0 -1,-.2 -1,0 -1,-.1 -1,0 -1,-.2 -1,-.1 -1,-.2 -1,-.1 -1,-.3 -1,-.2 -1,-.2 -1,-.1 -1,-.1 -1,-.2 -1,-.1 -1,-.2 -1,-.1 -1,0 -1,-.1 -1,-.1 -1,-.1 -1,-.1 -1,-.2 -1,-.2 -1,-.3 -1,-.3 -1,-.3 -1,-.2 -1,-.3 -1,-.3 -1,-.2 -1,-.2 -1,-.1 -1,-.2 -1,-.1 -1,-.2 -1,-.2 -1,-.2 -1,-.1 -1,-.2 -1,-.1 -1,-.2 -1,-.1 -1,-.3 -1,-.1 -1,-.2 -1,-.2 -1,-.2 -1,-.2 -1,-.2 -1,-.2 -1,-.3 -1,-.4 -1,-.3 -1,-.3 -1,-.2 -1,-.3 -1,-.3 -1,-.2 -1,-.4 -1,-.2 -1,-.2 -1,-.2 -1,-.4 -1,-.1 -1,-.3 -1,-.2 -1,-.3 -1,-.5 -1,-.3 -1,-.3 -1,-.4 -1,-.4 -1,-.5 -1,-.5 -1,-.5 -1,-.5 -1,-.5 -1,-.5 -1,-.5 -1,-.4 -1,-.5 -1,-.5 -1,-.6 -1,-.6 -1,-.5 -1,-.6 -1,-.6 -1,-.7 -1,-.6 -1,-.7 -1,-.7 -1,-.7 -1,-.7 -1,-.8 -1,-.9 -1,-.7 -1,-.8 -1,-.9 -1,-.9 -1,-.9 -1,-1 -1,-1 -1,-.9 -1,-1.1 -1,-1 -1,-1 -1,-1 -1,-1.1 -1,-1.2 -1,-1.1 -1,-1.3 -1,-1.4 -1,-1.5 -1,-1.7 -1,-2 -1,-2.4 -1,-2.9 -1,-3.1 -1,-3.1 -1,-2.9 -1,-2.6 -1,-2.5 -1,-2.4 -1,-2.4 -1,-2.4 -1,-2.5 -1,-2.5 -1,-2.5 -1,-2.7 -1,-2.9 -1,-2.8 -1,-3 -1,-3.1 -1,-3.1 -1,-3.1 -1,-3.3 -1,-3.3 -1,-3.5 -1,-3.4 -1,-3.4 -1,-3.4 -1,-3.5 -1,-3.6 -1,-3.8 -1,-4 -1,-4.5 -1,-5.3 -1,-6z" fill="#000"/>
<path d="M208,1418.3l1,3.4 1,3.6 1,3.5 1,3.3 1,3.1 1,3.2 1,3.1 1,3 1,3 1,2.8 1,2.7 1,2.7 1,2.6 1,2.4 1,2.2 1,2.3 1,2.3 1,2 1,2.2 1,2 1,1.9 1,1.8 1,1.8 1,2 1,1.7 1,1.6 1,1.7 1,2 1,1.6 1,1.4 1,2.4 1,1.6 1,1.2 1,1.7 1,1.9 1,1.2 1,1.4 1,1.4 1,.9 1,1.1 1,.9 1,.8 1,1.1 1,.9 1,1.4 1,-.2 1,2.1 1,.7 1,.9 1,.5 1,1.5 1,1 1,.7 1,1 1,0 1,.9 1,1.5 1,1.5 1,1 1,.8 1,.7 1,1 1,1 1,.9 1,.6 1,.2 1,.5 1,1.4 1,-.3 1,.8 1,1.1 1,.4 1,.6 1,1.5 1,.6 1,.2 1,.8 1,-.3 1,1.6 1,-.3 1,.8 1,-.4 1,1.5 1,.9 1,0 1,.8 1,1.2 1,.2 1,.6 1,.7 1,1 1,-.9 1,1.2 1,.4 1,-.1 1,1.2 1,1.4 1,.1 1,1.1 1,.6 1,.6 1,.3 1,.5 1,.5 1,.2 1,.7 1,.8 1,.5 1,.3 1,.4 1,.7 1,.2 1,.5 1,.5 1,0 1,.1 1,.8 1,.6 1,-.7 1,.3 1,1.6 1,.3 1,.2 1,.9 1,.4 1,.1 1,.6 1,.1 1,.5 1,-.3 1,.4 1,1.1 1,0 1,.3 1,.2 1,-.2 1,-.3 1,.3 1,.5 1,1.4 1,.1 1,0 1,-.2 1,1.6 1,.2 1,-.3 1,.8 1,-.1 1,0 1,.4 1,1.5 1,.3 1,-.5 1,.7 1,.1 1,.2 1,.3 1,-.7 1,.2 1,1.4 1,.2 1,.3 1,-.1 1,.5 1,-.7 1,.4 1,1.2 1,-.9 1,-.1 1,1.6 1,-.2 1,-.1 1,0 1,1.7 1,0 1,.4 1,.4 1,.2 1,.6 1,-.3 1,.2 1,.2 1,-.5 1,.3 1,1.1 1,-.2 1,.4 1,.3 1,0 1,0 1,-.2 1,-.2 1,-.2 1,.6 1,1 1,.1 1,.2 1,.6 1,-.2 1,-.2 1,.8 1,.5 1,.4 1,.2 1,-.2 1,.2 1,.4 1,.3 1,.8 1,-.3 1,0 1,.9 1,-.2 1,0 1,-.1 1,.5 1,-.1 1,-.1 1,-.5 1,-.1 1,.4 1,.6 1,.5 1,.5 1,.3 1,.4 1,.3 1,-.1 1,.3 1,.3 1,-.4 1,.1 1,.5 1,-.4 1,.9 1,0 1,-.1 1,-.4 1,.4 1,.1 1,0 1,1.1 1,-.7 1,.2 1,-.3 1,-.1 1,.5 1,.4 1,-.2 1,-.6 1,.4 1,0 1,-.6 1,.2 1,.2 1,.3 1,.5 1,1.2 1,-.4 1,.9 1,-.1 1,-.6 1,1 1,-.1 1,-1 1,-.1 1,.9 1,-.8 1,0 1,.3 1,-.5 1,-.2 1,1.3 1,-1 1,.8 1,-.8 1,.2 1,1 1,-.3 1,-.6 1,.3 1,.6 1,.3 1,-.4 1,-.4 1,.7 1,.5 1,-.2 1,-.8 1,.4 1,.7 1,-.6 1,-.4 1,.6 1,-.7 1,-.6 1,.9 1,-.3 1,.4 1,-.3 1,0 1,-.2 1,-.3 1,.6 1,-.1 1,.4 1,-.1 1,-1.1 1,-.2 1,.4 1,.4 1,.9 1,.4 1,.1 1,0 1,-.6 1,-.5 1,1 1,-1.1 1,-.2 1,1 1,.8 1,-.3 1,.5 1,-.1 1,.1 1,-.5 1,0 1,-.1 1,.7 1,.5 1,-.4 1,-.1 1,-.1 1,-1.1 1,-.3 1,.8 1,-.4 1,.4 1,-.2 1,.4 1,.2 1,.3 1,.1 1,-.1 1,-.9 1,.2 1,.2 1,.1 1,.4 1,-.4 1,.2 1,.5 1,-.5 1,-.1 1,.9 1,-.2 1,-.2 1,.5 1,-.6 1,.3 1,-.5 1,-.8 1,-.3 1,.7 1,.5 1,-.7 1,-.3 1,.5 1,.3 1,-.1 1,.2 1,.9 1,.4 1,-.2 1,-.3 1,-.5 1,.3 1,-.3 1,-.2 1,.4 1,.3 1,-.8 1,-.3 1,.9 1,-1 1,.7 1,.1 1,-.4 1,.7 1,0 1,.4 1,.1 1,.2 1,-.2 1,.2 1,.3 1,-.4 1,-.1 1,.3 1,.6 1,-.1 1,-.2 1,-.2 1,0 1,.1 1,0 1,-.3 1,.1 1,.7 1,.1 1,-.5 1,-.8 1,.8 1,.3 1,-.7 1,-1.1 1,0 1,.9 1,-1.5 1,-.1 1,.9 1,0 1,-.4 1,.3 1,.5 1,-.5 1,-.3 1,-.1 1,.5 1,.6 1,-.2 1,0 1,.4 1,-1.2 1,.8 1,.8 1,0 1,0 1,-.8 1,-.2 1,.7 1,-.5 1,-.2 1,-.2 1,.2 1,.2 1,.5 1,-.2 1,.2 1,-.6 1,-.1 1,.9 1,1.1 1,-.5 1,.5 1,-.4 1,.2 1,-1.1 1,.6 1,.1 1,-.2 1,.6 1,.2 1,-.6 1,-.5 1,.7 1,.2 1,-.8 1,.2 1,-.3 1,.1 1,-1.5 1,-.2 1,.6 1,.9 1,.1 1,-1 1,-.7 1,1.2 1,.2 1,.5 1,-.9 1,0 1,1.3 1,-.2 1,-.6 1,-.4 1,1.2 1,.1 1,-.1 1,.5 1,-.9 1,.1 1,.9 1,.1 1,0 1,0 1,-.1 1,-.3 1,0 1,-.5 1,.1 1,-.9 1,.3 1,.4 1,-1 1,.2 1,2 1,-.9 1,.8 1,.7 1,0 1,0 1,0 1,.3 1,-.4 1,.7 1,-.3 1,-.1 1,.3 1,-1.2 1,.4 1,.1 1,0 1,-1.5 1,-.3 1,2 1,-.3 1,-.1 1,.5 1,0 1,.1 1,.3 1,-.9 1,.1 1,-.2 1,-1.3 1,-.2 1,1.1 1,-1 1,1.3 1,-.7 1,.8 1,.2 1,.3 1,-.3 1,-1.2 1,.8 1,0 1,-.9 1,1.1 1,0 1,.5 1,-.4 1,-.1 1,.6 1,.3 1,-.3 1,.5 1,-1.1 1,-.7 1,0 1,1.3 1,-.2 1,-.9 1,-.2 1,.6 1,.8 1,-.7 1,.4 1,.1 1,.4 1,-.5 1,.5 1,-.1 1,-.4 1,.7 1,-.7 1,-.1 1,.7 1,.4 1,.1 1,-.2 1,-.2 1,.1 1,.3 1,-.6 1,-.6 1,.7 1,-.5 1,-1.1 1,-.1 1,.6 1,1 1,-1.1 1,1 1,-.4 1,-.1 1,.4 1,0 1,-1.1 1,-.5 1,.5 1,.1 1,.8 1,-.9 1,.9 1,.5 1,-.3 1,.2 1,.7 1,.1 1,0 1,-.2 1,-.5 1,-.8 1,.3 1,.7 1,-.4 1,.2 1,-.3 1,-.2 1,.7 1,-.9 1,.7 1,.6 1,-.6 1,-.6 1,.4 1,0 1,-.8 1,.7 1,.6 1,.2 1,-.1 1,-.2 1,-.3 1,.7 1,0 1,-.1 1,.4 1,.1 1,-.2 1,0 1,.2 1,-1 1,.1 1,.8 1,.7 1,-.2 1,.2 1,-.7 1,.1 1,.3 1,.1 1,.2 1,-.2 1,-.4 1,.1 1,-.4 1,-.7 1,-.3 1,-.1 1,.2 1,.1 1,-.2 1,.3 1,.5 1,1 1,-.6 1,-.2 1,.2 1,.6 1,.7 1,-.4 1,-.1 1,.2 1,0 1,-.2 1,-.2 1,-.1 1,-.4 1,.2 1,0 1,.1 1,0 1,-.2 1,.2 1,-.5 1,.2 1,.1 1,-.5 1,0 1,-1.2 1,.4 1,1.1 1,-.2 1,.4 1,-.3 1,.5 1,-.3 1,-.1 1,-.1 1,-1 1,.2 1,1.3 1,-.9 1,.7 1,.3 1,.2 1,-.1 1,0 1,.2 1,.4 1,.1 1,.2 1,-.4 1,-.6 1,.6 1,-.3 1,.2 1,-.3 1,-.2 1,-.5 1,.6 1,0 1,-.4 1,.2 1,-.3 1,0 1,1.2 1,-.7 1,.1 1,.1 1,-.8 1,.6 1,.1 1,-.3 1,.2 1,-.2 1,.2 1,-.6 1,.3 1,0 1,0 1,.1 1,-.4 1,.2 1,.2 1,-.7 1,.3 1,.3 1,-.2 1,-.1 1,.7 1,-.6 1,1.1 1,-.1 1,-.1 1,-1.1 1,-.3 1,.9 1,-.2 1,-.1 1,-.8 1,.2 1,.5 1,-.1 1,.4 1,.2 1,-.5 1,-.1 1,.4 1,.8 1,0 1,0 1,.1 1,0 1,-.1 1,0 1,-.4 1,.4 1,-.8 1,.1 1,.7 1,-.5 1,.3 1,0 1,.3 1,0 1,-1.2 1,-.3 1,-.2 1,0 1,-.1 1,.7 1,-.2 1,-.1 1,-.2 1,.6 1,.3 1,-.5 1,-.5 1,.1 1,.6 1,.2 1,-.3 1,-.1 1,.7 1,-1.6 1,0 1,.9 1,.6 1,.4 1,-.5 1,.1 1,-.3 1,.1 1,.1 1,-1.1 1,.1 1,.5 1,-.1 1,-.2 1,-.8 1,-.1 1,1.3 1,-1 1,.8 1,-.2 1,.1 1,-.4 1,.4 1,0 1,-.7 1,.3 1,-.2 1,-.4 1,.7 1,-.4 1,.2 1,.7 1,-.1 1,.6 1,0 1,.7 1,-1.2 1,.5 1,1 1,0 1,-.8 1,-1.4 1,-.2 1,-.2 1,1.2 1,-.2 1,-.1 1,.7 1,-1.6 1,1 1,.7 1,-.1 1,.2 1,-.4 1,-1 1,.1 1,-.6 1,0 1,.4 1,1.2 1,.1 1,.3 1,0 1,-.2 1,0 1,-.6 1,-.2 1,.2 1,-.7 1,.2 1,.1 0,5 -1,-.1 -1,.3 -1,1.3 -1,.4 -1,-1.2 -1,-.2 -1,-.1 -1,.5 -1,.7 -1,-.3 -1,-.3 -1,.5 -1,-.2 -1,-.5 -1,0 -1,.3 -1,-.2 -1,.6 -1,-.7 -1,.8 -1,.1 -1,-.2 -1,.6 -1,.8 -1,.1 -1,0 -1,-.9 -1,-.2 -1,-.6 -1,1.2 -1,-.2 -1,.1 -1,.4 -1,.2 -1,-.7 -1,-1.3 -1,-.5 -1,0 -1,-.4 -1,.2 -1,-.4 -1,.3 -1,.1 -1,-.1 -1,-.8 -1,.6 -1,.4 -1,-.6 -1,-.1 -1,.1 -1,.7 -1,-.4 -1,-.3 -1,.3 -1,-.6 -1,-.1 -1,.3 -1,-.2 -1,.1 -1,0 -1,1 -1,.3 -1,-.5 -1,.6 -1,.3 -1,.1 -1,.2 -1,.2 -1,.3 -1,-.4 -1,-1.1 -1,0 -1,.2 -1,-.6 -1,.4 -1,0 -1,-.1 -1,0 -1,-.2 -1,-.2 -1,.1 -1,-.6 -1,1 -1,0 -1,.1 -1,-1.1 -1,1 -1,.5 -1,.2 -1,-.9 -1,.9 -1,0 -1,-.3 -1,-.4 -1,.4 -1,.5 -1,-.3 -1,-.5 -1,.1 -1,.4 -1,-.3 -1,.9 -1,.3 -1,-.5 -1,-.4 -1,.7 -1,-.2 -1,-.3 -1,0 -1,-1.2 -1,.9 -1,-.2 -1,-1.1 -1,-.1 -1,0 -1,-.1 -1,0 -1,.4 -1,.1 -1,.8 -1,-.3 -1,.8 -1,-.6 -1,.9 -1,-.9 -1,-.4 -1,-.2 -1,-.2 -1,.1 -1,.2 -1,0 -1,1 -1,-.6 -1,-.2 -1,0 -1,-.2 -1,.1 -1,-.1 -1,0 -1,-.2 -1,.4 -1,-.1 -1,-.1 -1,1 -1,-.4 -1,-.2 -1,-.2 -1,.1 -1,1.1 -1,.1 -1,-.4 -1,.6 -1,-.3 -1,-.6 -1,-.2 -1,0 -1,-.4 -1,-.1 -1,.4 -1,-.4 -1,.9 -1,-.7 -1,.9 -1,-.5 -1,.1 -1,.3 -1,-.7 -1,.5 -1,-.3 -1,1.2 -1,0 -1,-1.4 -1,.2 -1,-.1 -1,-.6 -1,.3 -1,0 -1,.7 -1,.2 -1,-.5 -1,-.4 -1,-.2 -1,.3 -1,1 -1,0 -1,-.7 -1,-1.2 -1,.3 -1,-.4 -1,1 -1,.4 -1,.3 -1,-.8 -1,-.2 -1,.3 -1,-.5 -1,.4 -1,.2 -1,-.8 -1,.5 -1,-.1 -1,.2 -1,-.1 -1,.3 -1,-.2 -1,.4 -1,-.3 -1,.1 -1,.6 -1,-.6 -1,.6 -1,-.1 -1,-.2 -1,-1.2 -1,.4 -1,.1 -1,-.2 -1,-.1 -1,-.4 -1,.2 -1,.4 -1,-.2 -1,-.1 -1,.9 -1,.6 -1,.1 -1,.1 -1,-.3 -1,-1.1 -1,.1 -1,.2 -1,.2 -1,-.2 -1,-.3 -1,-.6 -1,-.1 -1,-.1 -1,.1 -1,.3 -1,.7 -1,-.2 -1,-.7 -1,1 -1,.3 -1,-.3 -1,-.9 -1,-.5 -1,.3 -1,.8 -1,0 -1,-.9 -1,.5 -1,.3 -1,-.5 -1,-.2 -1,.8 -1,.1 -1,-.2 -1,-1.5 -1,.1 -1,.9 -1,.8 -1,-1.1 -1,.7 -1,0 -1,-.7 -1,.7 -1,-.4 -1,.3 -1,.1 -1,-1 -1,.2 -1,.3 -1,-.4 -1,-.7 -1,.1 -1,.6 -1,-.2 -1,-.9 -1,1.1 -1,-.5 -1,.3 -1,1 -1,-.6 -1,1.2 -1,-1.4 -1,.7 -1,-.7 -1,-.1 -1,.5 -1,.1 -1,-.2 -1,1 -1,-.6 -1,-.6 -1,.3 -1,-.4 -1,.4 -1,-.6 -1,0 -1,-.4 -1,.5 -1,.2 -1,-.6 -1,-.1 -1,0 -1,.1 -1,-.2 -1,.1 -1,-.3 -1,.2 -1,.4 -1,.4 -1,-.4 -1,.2 -1,-.1 -1,-.2 -1,.2 -1,-.2 -1,.3 -1,-.4 -1,.2 -1,-.3 -1,.6 -1,-.7 -1,.4 -1,-.6 -1,.5 -1,.1 -1,-.6 -1,.2 -1,0 -1,1.3 -1,.7 -1,.1 -1,-1.2 -1,-1 -1,.8 -1,-.9 -1,.6 -1,-.9 -1,0 -1,.6 -1,.8 -1,-1 -1,2.2 -1,-.7 -1,-.3 -1,.2 -1,-.5 -1,-.3 -1,.2 -1,-.2 -1,-.2 -1,.7 -1,.5 -1,0 -1,.5 -1,.2 -1,-.6 -1,-1.2 -1,.8 -1,.3 -1,-.5 -1,-.4 -1,.5 -1,-.4 -1,.4 -1,.2 -1,-.7 -1,-.9 -1,.1 -1,-.4 -1,.6 -1,-.3 -1,.6 -1,-.1 -1,0 -1,-1.3 -1,.7 -1,-.8 -1,.2 -1,-.1 -1,.9 -1,-.6 -1,.3 -1,.3 -1,-.3 -1,.3 -1,.5 -1,0 -1,.1 -1,-.4 -1,-1.5 -1,.2 -1,-.5 -1,0 -1,.6 -1,-.5 -1,-.4 -1,1.7 -1,.4 -1,-.9 -1,-1.2 -1,-.2 -1,0 -1,.5 -1,.4 -1,-.5 -1,0 -1,.1 -1,.2 -1,.6 -1,-.1 -1,.1 -1,.2 -1,-.5 -1,-.1 -1,.3 -1,0 -1,.9 -1,0 -1,-.3 -1,-.4 -1,.1 -1,.1 -1,.4 -1,-.8 -1,.3 -1,0 -1,-.7 -1,-.4 -1,-.2 -1,.5 -1,1.1 -1,-.4 -1,-1.8 -1,.5 -1,1.5 -1,.2 -1,-1.3 -1,.3 -1,-.5 -1,.5 -1,.2 -1,.1 -1,-.7 -1,.1 -1,-.6 -1,.1 -1,-.2 -1,-.3 -1,-.5 -1,.1 -1,.1 -1,1.3 -1,.6 -1,-1.3 -1,.5 -1,-.4 -1,.7 -1,.6 -1,-1.3 -1,.7 -1,0 -1,.7 -1,-.4 -1,-.3 -1,.6 -1,.1 -1,-.8 -1,.7 -1,-.1 -1,-.7 -1,-.1 -1,-.2 -1,.2 -1,.4 -1,.1 -1,-.5 -1,.1 -1,.5 -1,-.8 -1,0 -1,.9 -1,-.8 -1,-.6 -1,-.2 -1,-.2 -1,.1 -1,-.3 -1,.3 -1,-.1 -1,.8 -1,-.1 -1,-.3 -1,-.7 -1,.3 -1,-.1 -1,-.4 -1,.1 -1,.3 -1,.4 -1,-.2 -1,0 -1,.1 -1,.3 -1,.2 -1,.4 -1,-.2 -1,0 -1,-.2 -1,-.3 -1,-.2 -1,.3 -1,.7 -1,-.5 -1,-1 -1,.5 -1,-.1 -1,.6 -1,0 -1,-.8 -1,.2 -1,0 -1,.3 -1,-.5 -1,-.1 -1,-.4 -1,.6 -1,.4 -1,-.7 -1,-.1 -1,-.1 -1,.3 -1,.3 -1,-.7 -1,-.4 -1,-.2 -1,.4 -1,.2 -1,-1 -1,.4 -1,-.4 -1,.9 -1,.4 -1,0 -1,.1 -1,.1 -1,.4 -1,.2 -1,-1 -1,.3 -1,.9 -1,.2 -1,-.3 -1,-.2 -1,-.9 -1,.2 -1,.3 -1,-.5 -1,.4 -1,-.7 -1,0 -1,.6 -1,-.5 -1,.4 -1,-1 -1,.8 -1,-.6 -1,1 -1,-1.3 -1,-.4 -1,1.2 -1,.2 -1,-.5 -1,-1 -1,-.1 -1,-.2 -1,-.5 -1,0 -1,.2 -1,.7 -1,.4 -1,-.2 -1,0 -1,-.6 -1,.5 -1,.6 -1,-.2 -1,-.3 -1,-.4 -1,1.2 -1,0 -1,0 -1,-.9 -1,-.2 -1,.2 -1,-.3 -1,.2 -1,-.5 -1,0 -1,.3 -1,.3 -1,-.5 -1,0 -1,.7 -1,.4 -1,-.3 -1,-.4 -1,0 -1,1 -1,-1 -1,.4 -1,1.2 -1,0 -1,-1.4 -1,.9 -1,.2 -1,-1 -1,-1.1 -1,-.3 -1,-.2 -1,-.2 -1,-.3 -1,-.5 -1,.2 -1,.2 -1,-1 -1,.5 -1,-.3 -1,1 -1,0 -1,-1.1 -1,.6 -1,.1 -1,-.8 -1,.5 -1,-.6 -1,.2 -1,.8 -1,-.6 -1,-.6 -1,.7 -1,-1.1 -1,1 -1,-.6 -1,-1.1 -1,.2 -1,.6 -1,-.5 -1,-.4 -1,1 -1,-.1 -1,-1.1 -1,-.7 -1,.1 -1,.1 -1,-1 -1,-.2 -1,1 -1,0 -1,-.6 -1,-.3 -1,-.3 -1,-.5 -1,-.4 -1,-.3 -1,.2 -1,0 -1,.3 -1,.3 -1,-.9 -1,-.7 -1,-.1 -1,-.2 -1,-.6 -1,0 -1,-.1 -1,-.8 -1,-.1 -1,.1 -1,-.1 -1,-.6 -1,.6 -1,.2 -1,-.6 -1,-.8 -1,-.6 -1,.2 -1,-.3 -1,-.4 -1,.1 -1,-.4 -1,-.4 -1,-.2 -1,.4 -1,0 -1,-.9 -1,.4 -1,0 -1,-.1 -1,-.7 -1,-.3 -1,-.5 -1,0 -1,-.3 -1,-.4 -1,.3 -1,.1 -1,.2 -1,-.4 -1,-.7 -1,-.5 -1,-1 -1,.6 -1,0 -1,-1.7 -1,.1 -1,-.6 -1,.4 -1,.5 -1,-.2 -1,-1 -1,-.7 -1,.3 -1,.1 -1,-.1 -1,-.2 -1,-.1 -1,-.9 -1,.1 -1,-.3 -1,-1.2 -1,-.3 -1,-.6 -1,-.5 -1,.1 -1,-.3 -1,-.3 -1,.3 -1,-1.3 -1,-.6 -1,.2 -1,-.4 -1,-.3 -1,-.2 -1,-.5 -1,-.5 -1,-.3 -1,.1 -1,.4 -1,.3 -1,-.4 -1,-1.4 -1,-1 -1,-.1 -1,-.2 -1,-.5 -1,-.3 -1,-.3 -1,-1 -1,.2 -1,-.7 -1,-.9 -1,-.5 -1,0 -1,-.1 -1,-.7 -1,-.9 -1,-.4 -1,-.3 -1,.3 -1,-.5 -1,-1.1 -1,-.4 -1,-.2 -1,-.4 -1,-.7 -1,-.6 -1,-.6 -1,-.3 -1,-.5 -1,-.6 -1,-1 -1,-.6 -1,-.3 -1,.2 -1,-.9 -1,-1.2 -1,-.1 -1,-.5 -1,-.5 -1,-.2 -1,-1.2 -1,-.9 -1,0 -1,-.8 -1,-.7 -1,-.7 -1,-.7 -1,-.8 -1,-.3 -1,-.8 -1,-.3 -1,-.6 -1,-.6 -1,-.8 -1,-.6 -1,-.9 -1,-.7 -1,-.1 -1,-1.1 -1,-.4 -1,.1 -1,-.6 -1,-.9 -1,-1.7 -1,-.6 -1,-.7 -1,-1.1 -1,-.9 -1,-1 -1,-.5 -1,-1.2 -1,-1 -1,-.9 -1,-.3 -1,-1.1 -1,-1.2 -1,-1.1 -1,.1 -1,-1.7 -1,-.2 -1,-1.1 -1,-1.1 -1,-.7 -1,-1.5 -1,-1 -1,-.5 -1,-1.2 -1,-1.6 -1,-1.3 -1,-1 -1,-1.1 -1,-1.5 -1,-1 -1,-1.4 -1,-2.3 -1,-1.4 -1,-.9 -1,-1.8 -1,-2.4 -1,-.8 -1,-1.8 -1,-2.5 -1,-2.1 -1,-1.7 -1,-1.9 -1,-2.2 -1,-1.6 -1,-1.8 -1,-2.2 -1,-2.2 -1,-2 -1,-2.6 -1,-2.3 -1,-2.2 -1,-2.5 -1,-2.8 -1,-2.6 -1,-2.8 -1,-2.8 -1,-3 -1,-3.1 -1,-3 -1,-3.2 -1,-3.3 -1,-3.2 -1,-3.5 -1,-3.7 -1,-3.4z" fill="#000"/>
<g>
<use href="#mx" x="194" y="1149.2"/>
<use href="#mx" x="241.79" y="1482.3"/>
<use href="#mx" x="289.57" y="1517.1"/>
<use href="#mx" x="337.36" y="1526.8"/>
<use href="#mx" x="385.15" y="1532.4"/>
<use href="#mx" x="432.93" y="1536.1"/>
<use href="#mx" x="480.72" y="1514.3"/>
<use href="#mx" x="528.51" y="1413"/>
<use href="#mx" x="576.29" y="1267.9"/>
<use href="#mx" x="624.08" y="1132.9"/>
<use href="#mt" x="194" y="1191.7"/>
<use href="#mt" x="283.6" y="1538.2"/>
<use href="#mt" x="373.2" y="1575.8"/>
<use href="#mt" x="462.8" y="1592.9"/>
<use href="#mt" x="552.4" y="1595.9"/>
<use href="#mt" x="642" y="1597.2"/>
<use href="#mt" x="731.6" y="1598.7"/>
<use href="#mt" x="821.2" y="1600"/>
<use href="#mt" x="910.8" y="1601"/>
<use href="#mt" x="1000.4" y="1601"/>
<use href="#mt" x="1090" y="1601"/>
</g>
</g>
<g class="plot-d">
<g fill="none" stroke="#878787" stroke-width="2" stroke-linecap="square">
<rect x="1438" y="1014" width="895" height="662"/>
</g>
<path d="M1438,1161.11h9.3M2333,1161.11h-9.3M1438,1308.22h9.3M2333,1308.22h-9.3M1438,1455.33h9.3M2333,1455.33h-9.3M1438,1602.44h9.3M2333,1602.44h-9.3M1736.33,1676v-9.3M1736.33,1014v9.3M2034.67,1676v-9.3M2034.67,1014v9.3" fill="none" stroke="#878787" stroke-width="2"/>
<path d="M1438,1014h9.3M2333,1014h-9.3M2333,1676v-9.3M2333,1014v9.3" fill="none" stroke="#444444" stroke-width="2" stroke-linecap="square"/>
<g font-family="'Liberation Serif', 'Times New Roman', serif" font-size="56.3" fill="#262626">
<g text-anchor="end">
<text x="1419.4" y="1034.2">0</text>
<text x="1419.4" y="1181.31">-10</text>
<text x="1419.4" y="1328.42">-20</text>
<text x="1419.4" y="1475.53">-30</text>
<text x="1419.4" y="1622.64">-40</text>
</g>
<g text-anchor="middle">
<text x="1736.33" y="1746.6">5,000</text>
<text x="2034.67" y="1746.6">10,000</text>
<text x="2333" y="1746.6">15,000</text>
</g>
</g>
<g font-family="'Liberation Serif', 'Times New Roman', serif" font-size="62" fill="#262626" text-anchor="middle">
<text x="1884.3" y="1820.5">time [sample]</text>
<text transform="translate(1324,1345.2) rotate(-90)">MSD [dB]</text>
</g>
<g font-family="'Liberation Serif', 'Times New Roman', serif" font-size="64" fill="#000">
<text transform="translate(1815.24,1895.71) scale(0.8760,0.9977)">(</text>
<text transform="translate(1835.43,1895.56) scale(1.0285,1.0304)" font-weight="bold">d</text>
<text transform="translate(1873.34,1895.71) scale(0.9004,0.9977)">)</text>
</g>
<g fill="none" stroke="#000" stroke-width="3.3" stroke-linejoin="round" stroke-linecap="butt">
<path d="M1438,1015.6l0,.8 0,.8 .1,.8 0,.8 0,.8 0,.8 .1,.8 0,.8 0,.8 0,.8 0,.8 .1,.8 0,.8 0,.8 0,.8 0,.8 .1,.8 0,.8 0,.8 0,.8 0,.8 0,.8 .1,.8 0,.8 0,.8 0,.8 0,.8 0,.8 .1,.8 0,.8 0,.8 0,.8 0,.8 .1,.8 0,.8 0,.8 0,.8 0,.8 0,.8 0,.8 .1,.8 0,.8 0,.8 0,.8 0,.8 0,.8 .1,.8 0,.8 0,.8 0,.8 0,.8 0,.8 .1,.8 0,.8 0,.8 0,.8 0,.8 0,.8 .1,.8 0,.8 0,.8 0,.8 0,.8 0,.8 .1,.8 0,.8 0,.8 0,.8 0,.8 .1,.8 0,.8 0,.8 0,.8 0,.8 .1,.8 0,.8 0,.8 0,.8 0,.8 0,.8 .1,.8 0,.8 0,.8 0,.8 0,.8 .1,.8 0,.8 0,.8 0,.8 0,.8 .1,.8 0,.8 0,.8 0,.8 0,.8 .1,.8 0,.8 0,.8 0,.8 0,.8 .1,.8 0,.8 0,.8 0,.8 0,.8 .1,.8 0,.8 0,.8 0,.8 0,.8 .1,.8 0,.8 0,.8 0,.8 0,.8 0,.8 .1,.8 0,.8 0,.8 0,.8 0,.8 .1,.8 0,.8 0,.8 0,.8 0,.8 .1,.8 0,.8 0,.8 0,.8 0,.8 0,.8 .1,.8 0,.8 0,.8 0,.8 0,.8 0,.8 .1,.8 0,.8 0,.8 0,.8 0,.8 0,.8 0,.8 .1,.8 0,.8 0,.8 0,.8 0,.8 0,.8 .1,.8 0,.8 0,.8 0,.8 0,.8 0,.8 0,.8 .1,.8 0,.8 0,.8 0,.8 0,.8 0,.8 .1,.8 0,.8 0,.8 0,.8 0,.8 0,.8 0,.8 .1,.8 0,.8 0,.8 0,.8 0,.8 0,.8 0,.8 0,.8 .1,.8 0,.8 0,.8 0,.8 0,.8 0,.8 0,.8 .1,.8 0,.8 0,.8 0,.8 0,.8 0,.8 0,.8 .1,.8 0,.8 0,.8 0,.8 0,.8 0,.8 0,.8 .1,.8 0,.8 0,.8 0,.8 0,.8 0,.8 0,.8 0,.8 .1,.8 0,.8 0,.8 0,.8 0,.8 0,.8 0,.8 .1,.8 0,.8 0,.8 0,.8 0,.8 0,.8 0,.8 .1,.8 0,.8 0,.8 0,.8 0,.8 0,.8 0,.8 .1,.8 0,.8 0,.8 0,.8 0,.8 0,.8 0,.8 .1,.8 0,.8 0,.8 0,.8 0,.8 0,.8 0,.8 0,.8 .1,.8 0,.8 0,.8 0,.8 0,.8 0,.8 0,.8 .1,.8 0,.8 0,.8 0,.8 0,.8 0,.8 0,.8 0,.8 .1,.8 0,.8 0,.8 0,.8 0,.8 0,.8 0,.8 .1,.8 0,.8 0,.8 0,.8 0,.8 0,.8 0,.8 .1,.8 0,.8 0,.8 0,.8 0,.8 0,.8 .1,.8 0,.8 0,.8 0,.8 0,.8 0,.8 .1,.8 0,.8 0,.8 0,.8 0,.8 0,.8 .1,.8 0,.8 0,.8 0,.8 0,.8 .1,.8 0,.8 0,.8 0,.8 0,.8 .1,.8 0,.8 0,.8 0,.8 0,.8 0,.8 .1,.8 0,.8 0,.8 0,.8 0,.8 .1,.8 0,.8 0,.8 0,.8 .1,.8 0,.8 0,.8 0,.8 0,.8 .1,.8 0,.8 0,.8 0,.8 .1,.8 0,.8 0,.8 0,.8 .1,.8 0,.8 0,.8 .1,.8 0,.8 0,.8 0,.8 .1,.8 0,.8 0,.8 .1,.8 0,.8 0,.8 .1,.8 0,.8 0,.8 .1,.8 0,.8 0,.8 .1,.8 0,.8 .1,.8 0,.8 .1,.8 0,.8 .1,.8 0,.8 .1,.8 0,.8 .1,.8 .1,.8 0,.8 .1,.8 .1,.8 .1,.8 0,.8 .1,.8 .1,.8 .1,.8 .1,.8 0,.7 .1,.8 .1,.8 .1,.8 .1,.8 0,.8 .1,.8 .1,.8 .1,.8 .1,.8 0,.8 .1,.8 .1,.8 .1,.8 .1,.8 0,.8 .1,.8 .1,.8 .1,.8 .1,.8 0,.8 .1,.8 .1,.8 .1,.8 .1,.8 0,.8 .1,.8 .1,.7 .1,.8 .1,.8 .1,.8 .1,.8 0,.8 .1,.8 .1,.8 .1,.8 .1,.8 .1,.8 .1,.8 0,.8 .1,.8 .1,.8 .1,.8 .1,.8 .1,.8 .1,.8 0,.8 .1,.8 .1,.8 .1,.8 .1,.8 0,.8 .1,.7 .1,.8 .1,.8 .1,.8 .1,.8 .1,.8 0,.8 .1,.8 .1,.8 .1,.8 .1,.8 .1,.8 .1,.8 .1,.8 .1,.8 .1,.8 .1,.8 .1,.7 .2,.8 .1,.8 .1,.8 .1,.8 .2,.8 .1,.8 .1,.8 .2,.8 .1,.8 .2,.7 .1,.8 .2,.8 .1,.8 .2,.8 .1,.8 .2,.8 .1,.7 .2,.8 .2,.8 .1,.8 .2,.8 .2,.8 .1,.7 .2,.8 .2,.8 .2,.8 .1,.8 .2,.7 .2,.8 .2,.8 .2,.8 .1,.8 .2,.7 .2,.8 .2,.8 .2,.8 .2,.7 .2,.8 .2,.8 .2,.8 .2,.8 .2,.7 .2,.8 .2,.8 .2,.8 .2,.7 .2,.8 .2,.8 .2,.7 .2,.8 .2,.8 .2,.8 .2,.7 .3,.8 .2,.8 .2,.8 .2,.7 .2,.8 .2,.8 .2,.7 .2,.8 .3,.8 .2,.7 .2,.8 .2,.8 .2,.8 .3,.7 .2,.8 .2,.8 .2,.7 .3,.8 .2,.8 .2,.7 .3,.8 .2,.8 .2,.7 .3,.8 .2,.8 .2,.7 .3,.8 .2,.8 .3,.7 .2,.8 .2,.7 .3,.8 .3,.8 .2,.7 .3,.8 .2,.7 .3,.8 .2,.8 .3,.7 .3,.8 .2,.7 .3,.8 .3,.7 .2,.8 .3,.7 .3,.8 .3,.7 .3,.8 .3,.7 .3,.7 .3,.8 .3,.7 .3,.7 .3,.8 .4,.7 .3,.7 .3,.8 .4,.7 .3,.7 .3,.7 .4,.8 .3,.7 .3,.7 .3,.8 .4,.7 .3,.7 .3,.8 .3,.7 .4,.7 .3,.8 .3,.7 .3,.8 .3,.7 .2,.8 .3,.7 .3,.8 .3,.8 .2,.8 .3,.7 .3,.8 .2,.8 .3,.7 .3,.8 .3,.7 .3,.8 .3,.7 .3,.7 .4,.7 .3,.7 .4,.6 .4,.7 .4,.6 .5,.7 .4,.6 .5,.6 .5,.7 .5,.6 .6,.6 .5,.6 .5,.6 .6,.6 .6,.5 .6,.6 .6,.6 .6,.5 .6,.6 .6,.5 .6,.6 .6,.5 .6,.5 .6,.6 .6,.5 .6,.5 .6,.5 .6,.6 .6,.5 .6,.5 .6,.5 .6,.5 .6,.5 .7,.5 .6,.5 .6,.5 .7,.5 .6,.5 .7,.5 .6,.5 .7,.5 .6,.4 .7,.5 .7,.4 .7,.5 .6,.4 .7,.4 .7,.4 .7,.4 .7,.4 .7,.4 .7,.3 .7,.4 .7,.4 .7,.3 .7,.4 .8,.3 .7,.3 .7,.4 .8,.3 .7,.3 .8,.4 .7,.3 .8,.3 .7,.3 .8,.3 .7,.2 .8,.3 .8,.3 .7,.2 .8,.3 .8,.2 .7,.3 .8,.2 .7,.2 .8,.2 .8,.2 .7,.2 .8,.2 .7,.1 .8,.2 .8,.2 .7,.1 .8,.2 .8,.2 .7,.2 .8,.2 .7,.3 .8,.2 .8,.3 .8,.3 .7,.3 .8,.2 .8,.3 .7,.3 .8,.3 .8,.2 .8,.3 .7,.2 .8,.2 .8,.2 .8,.3 .7,.2 .8,.2 .8,.2 .8,.2 .7,.2 .8,.2 .8,.2 .8,.2 .8,.2 .7,.2 .8,.1 .8,.2 .8,.2 .8,.2 .7,.2 .8,.2 .8,.2 .8,.1 .8,.2 .8,.2 .7,.2 .8,.1 .8,.2 .8,.1 .8,.1 .8,.1 .7,0 .8,.1 .8,.1 .8,.2 .8,.1 .8,.2 .8,.2 .7,.3 .8,.2 .8,.3 .8,.2 .8,.2 .8,.2 .7,.2 .8,.1 .8,.1 .8,0 .8,0 .8,0 .8,0 .8,0 .7,-.1 .8,.1 .8,0 .8,0 .8,.1 .8,.2 .8,.1 .8,.2 .8,.2 .8,.2 .8,.2 .7,.2 .8,.2 .8,.1 .8,.1 .8,.1 .8,0 .8,.1 .8,0 .8,0 .8,0 .8,0 .8,0 .8,0 .8,.1 .8,.1 .8,.1 .8,.1 .7,.1 .8,.2 .8,.1 .8,.2 .8,.1 .8,.2 .8,.1 .8,.1 .8,.1 .8,.2 .8,.1 .8,.1 .8,.1 .8,.1 .8,.1 .8,.1 .8,0 .8,0 .8,0 .8,-.1 .8,0 .7,-.1 .8,0 .8,-.1 .8,0 .8,0 .8,.1 .8,.1 .8,.1 .8,.2 .8,.2 .8,.3 .8,.2 .8,.3 .8,.1 .8,.2 .8,.2 .8,.1 .8,0 .8,.1 .7,0 .8,.1 .8,0 .8,.1 .8,.1 .8,.2 .8,.2 .8,.2 .8,.2 .8,.2 .8,.2 .8,.2 .8,.1 .8,.1 .8,.1 .8,.1 .8,.1 .8,.1 .8,0 .8,.1 .8,0 .8,0 .8,.1 .8,0 .8,0 .7,0 .8,.1 .8,0 .8,0 .8,0 .8,0 .8,0 .8,.1 .8,0 .8,.1 .8,.1 .8,0 .8,.1 .8,0 .8,0 .8,0 .8,0 .8,.1 .8,0 .8,.1 .8,0 .8,.1 .8,0 .8,.1 .8,0 .8,.1 .8,0 .8,.1 .8,.1 .8,.1 .8,0 .8,.1 .8,0 .8,0 .8,0 .8,0 .8,0 .8,.1 .8,0 .8,0 .8,0 .8,0 .8,.1 .8,0 .8,.1 .8,.1 .8,.1 .8,.1 .8,.1 .8,.1 .8,.1 .8,0 .8,.1 .8,0 .8,0 .8,0 .8,0 .8,-.1 .8,-.1 .8,-.1 .8,-.2 .8,-.1 .8,-.1 .8,-.1 .8,-.1 .8,-.1 .8,-.1 .8,0 .8,-.1 .8,-.1 .8,0 .8,0 .8,0 .8,.1 .8,0 .7,.1 .8,.2 .8,.1 .8,.2 .8,.3 .8,.2 .8,.2 .8,.2 .8,.1 .8,.1 .8,0 .8,-.1 .8,-.2 .8,-.2 .8,-.2 .8,-.2 .8,-.2 .8,-.2 .8,-.2 .8,-.1 .8,-.1 .8,0 .8,0 .8,0 .8,.1 .8,.1 .8,.1 .8,0 .8,.1 .8,.1 .8,.1 .8,0 .8,0 .8,0 .8,0 .8,0 .8,0 .8,0 .8,-.1 .8,0 .8,.1 .8,0 .8,.1 .8,.1 .8,.1 .8,.1 .8,.1 .8,.1 .8,.2 .8,.1 .8,.1 .8,0 .8,0 .8,0 .8,-.1 .8,-.1 .8,-.1 .8,-.1 .8,-.1 .8,-.1 .8,-.1 .8,-.1 .8,0 .8,-.1 .8,.1 .8,0 .8,.1 .8,.1 .8,.1 .8,.1 .8,.2 .8,.1 .8,.1 .8,.1 .8,.2 .8,.1 .8,.1 .8,0 .8,.1 .8,0 .8,-.1 .8,0 .8,0 .8,0 .8,0 .8,0 .8,0 .8,.1 .8,0 .8,0 .8,0 .8,.1 .8,0 .8,0 .8,-.1 .8,0 .8,-.1 .8,0 .8,-.1 .8,0 .8,.1 .8,.1 .8,.1 .8,.2 .8,.1 .8,.1 .8,.1 .8,.1 .8,0 .8,0 .7,0 .8,0 .8,0 .8,0 .8,0 .8,0 .8,0 .8,.1 .8,0 .8,.1 .8,.1 .8,.1 .8,0 .8,-.1 .8,0 .8,-.1 .8,-.1 .8,-.1 .8,-.1 .8,-.2 .8,-.1 .8,-.1 .8,-.1 .8,-.1 .8,0 .8,0 .8,0 .8,0 .8,.1 .8,.1 .8,0 .8,.1 .8,.1 .8,.1 .8,.1 .8,.1 .8,.1 .8,.1 .8,.1 .8,.1 .8,0 .8,.1 .8,0 .8,0 .8,0 .8,.1 .8,0 .8,-.1 .8,0 .8,0 .8,0 .8,-.1 .8,-.1 .8,-.1 .8,-.1 .8,0 .8,-.1 .8,-.1 .8,0 .8,0 .8,0 .8,.1 .8,.1 .8,.1 .8,.1 .8,.1 .8,.1 .8,.1 .8,0 .8,0 .8,-.1 .8,0 .8,-.1 .8,0 .8,0 .8,-.1 .8,.1 .8,0 .8,0 .8,0 .8,0 .8,-.1 .8,0 .8,-.1 .8,-.1 .8,-.1 .8,-.1 .8,-.1 .8,0 .8,.1 .8,.1 .8,.2 .8,.2 .8,.2 .8,.1 .8,.2 .8,.1 .8,0 .8,0 .8,0 .8,-.1 .8,-.1 .8,-.1 .7,-.1 .8,-.1 .8,-.1 .8,-.1 .8,-.1 .8,-.1 .8,-.1 .8,-.1 .8,-.1 .8,-.1 .8,-.1 .8,-.2 .8,-.1 .8,-.1 .8,-.1 .8,-.1 .8,0 .8,-.1 .8,.1 .8,0 .8,.1 .8,0 .8,0 .8,0 .8,0 .8,-.1 .8,-.1 .8,-.1 .8,-.1 .8,-.2 .8,-.1 .8,-.2 .8,-.1 .8,0 .8,0 .8,.1 .8,.1 .8,.1 .8,.2 .8,.1 .8,.2 .8,.1 .8,0 .8,0 .8,0 .8,-.1 .8,-.1 .8,-.1 .8,-.1 .8,0 .8,-.1 .8,0 .8,0 .8,0 .8,.1 .8,0 .8,0 .8,0 .8,0 .8,-.1 .8,0 .8,-.1 .8,-.1 .8,-.1 .8,0 .8,-.1 .8,0 .8,.1 .8,0 .8,0 .8,0 .8,.1 .8,0 .8,-.1 .8,0 .8,-.1 .8,-.1 .8,-.1 .8,-.1 .8,-.2 .8,-.1 .8,-.2 .8,-.1 .7,-.1 .8,-.1 .8,-.1 .8,-.1 .8,-.1 .8,-.1 .8,0 .8,0 .8,0 .8,0 .8,0 .8,.1 .8,0 .8,0 .8,0 .8,0 .8,0 .8,-.1 .8,0 .8,-.1 .8,-.1 .8,-.1 .8,0 .8,-.1 .8,-.1 .8,-.1 .8,0 .8,-.1 .8,0 .8,-.1 .8,.1 .7,0 .8,0 .8,0 .8,.1 .8,0 .8,0 .8,-.1 .8,-.1 .8,-.1 .8,-.2 .8,-.2 .8,-.2 .8,-.3 .8,-.2 .8,-.3 .8,-.3 .8,-.3 .8,-.2 .8,-.3 .8,-.2 .8,-.1 .8,-.1 .7,-.1 .8,0 .8,-.1 .8,0 .8,0 .8,-.1 .8,0 .8,0 .8,-.1 .8,0 .8,-.1 .8,0 .8,-.1 .8,-.1 .8,0 .8,0 .8,-.1 .8,0 .8,0 .8,0 .7,-.1 .8,-.1 .8,-.1 .8,-.1 .8,-.1 .8,-.1 .8,-.1 .8,-.1 .8,0 .8,-.1 .8,0 .8,0 .8,-.1 .8,0 .8,-.1 .8,-.1 .8,-.1 .8,-.1 .8,-.2 .7,-.2 .8,-.2 .8,-.2 .8,-.2 .8,-.2 .8,-.1 .8,-.1 .8,-.1 .8,-.1 .8,0 .8,.1 .8,0 .8,.1 .8,.1 .8,0 .8,.1 .7,-.1 .8,0 .8,-.1 .8,-.2 .8,-.1 .8,-.2 .8,-.1 .8,-.2 .8,-.2 .8,-.1 .8,-.2 .8,-.1 .7,-.1 .8,-.1 .8,-.1 .8,-.1 .8,-.1 .8,0 .8,-.1 .8,-.1 .8,-.2 .8,-.1 .7,-.2 .8,-.2 .8,-.2 .8,-.3 .8,-.2 .8,-.3 .8,-.3 .8,-.3 .8,-.3 .7,-.2 .8,-.2 .8,-.1 .8,-.1 .8,0 .8,0 .8,0 .8,0 .8,0 .7,-.1 .8,0 .8,-.1 .8,-.1 .8,-.1 .8,-.2 .8,-.2 .8,-.2 .7,-.2 .8,-.2 .8,-.3 .8,-.2 .8,-.3 .8,-.3 .8,-.2 .7,-.3 .8,-.2 .8,-.2 .8,-.1 .8,-.2 .8,-.1 .8,-.1 .7,-.1 .8,-.1 .8,-.1 .8,-.1 .8,-.1 .7,-.1 .8,-.2 .8,-.1 .8,-.1 .8,-.2 .7,-.1 .8,-.2 .8,-.2 .8,-.1 .8,-.1 .7,-.2 .8,-.1 .8,-.1 .8,-.1 .7,-.2 .8,-.1 .8,-.2 .8,-.2 .8,-.1 .7,-.2 .8,-.2 .8,-.2 .8,-.2 .8,-.3 .7,-.2 .8,-.2 .8,-.3 .8,-.2 .7,-.1 .8,-.2 .8,-.2 .8,-.2 .8,-.2 .7,-.2 .8,-.2 .8,-.2 .8,-.3 .7,-.2 .8,-.2 .8,-.2 .8,-.3 .7,-.2 .8,-.2 .8,-.2 .7,-.3 .8,-.2 .8,-.3 .7,-.2 .8,-.3 .8,-.2 .7,-.3 .8,-.2 .8,-.3 .7,-.2 .8,-.3 .8,-.2 .7,-.3 .8,-.2 .7,-.2 .8,-.2 .8,-.3 .7,-.2 .8,-.2 .7,-.3 .8,-.3 .7,-.2 .8,-.3 .7,-.2 .8,-.3 .7,-.3 .7,-.2 .8,-.3 .7,-.2 .8,-.3 .7,-.3 .7,-.3 .8,-.3 .7,-.2 .7,-.3 .8,-.3 .7,-.3 .7,-.3 .8,-.3 .7,-.3 .7,-.3 .8,-.3 .7,-.3 .7,-.4 .7,-.3 .8,-.3 .7,-.4 .7,-.4 .7,-.3 .8,-.4 .7,-.4 .7,-.3 .7,-.4 .7,-.4 .8,-.3 .7,-.4 .7,-.3 .7,-.4 .7,-.3 .7,-.4 .8,-.3 .7,-.4 .7,-.3 .7,-.4 .7,-.4 .7,-.3 .7,-.4 .7,-.4 .7,-.3 .8,-.4 .7,-.4 .7,-.4 .7,-.4 .7,-.3 .7,-.4 .7,-.4 .7,-.4 .7,-.4 .7,-.4 .7,-.4 .7,-.4 .7,-.4 .7,-.4 .7,-.4 .7,-.4 .7,-.4 .7,-.4 .8,-.3 .7,-.4 .7,-.4 .7,-.4 .7,-.4 .7,-.4 .7,-.4 .7,-.3 .7,-.4 .7,-.4 .7,-.4 .7,-.4 .7,-.4 .7,-.3 .7,-.4 .7,-.4 .7,-.4 .7,-.4 .7,-.3 .7,-.4 .7,-.4 .7,-.4 .7,-.4 .7,-.3 .7,-.4 .7,-.4 .7,-.4 .7,-.4 .7,-.4 .7,-.4 .7,-.4 .7,-.4 .7,-.4 .7,-.3 .6,-.4 .7,-.4 .7,-.4 .7,-.5 .7,-.4 .7,-.4 .7,-.4 .7,-.4 .7,-.5 .7,-.4 .7,-.4 .7,-.4 .6,-.5 .7,-.4 .7,-.4 .7,-.4 .7,-.4 .7,-.4 .7,-.4 .6,-.3 .7,-.4 .7,-.5 .7,-.4 .7,-.4 .6,-.4 .7,-.4 .7,-.4 .7,-.5 .6,-.4 .7,-.4 .7,-.5 .7,-.4 .6,-.5 .7,-.4 .7,-.4 .6,-.5 .7,-.4 .7,-.5 .6,-.4 .7,-.5 .7,-.4 .6,-.5 .7,-.4 .6,-.4 .7,-.5 .6,-.5 .7,-.4 .6,-.5 .7,-.4 .7,-.5 .6,-.5 .7,-.4 .6,-.5 .6,-.4 .7,-.5 .6,-.5 .7,-.4 .6,-.5 .7,-.5 .6,-.5 .7,-.4 .6,-.5 .6,-.5 .7,-.5 .6,-.4 .6,-.5 .7,-.5 .6,-.5 .7,-.5 .6,-.4 .6,-.5 .7,-.5 .6,-.5 .6,-.5 .6,-.5 .7,-.5 .6,-.5 .6,-.5 .7,-.5 .6,-.5 .6,-.5 .6,-.5 .7,-.5 .6,-.5 .6,-.5 .7,-.5 .6,-.5 .6,-.5 .6,-.5 .6,-.5 .7,-.5 .6,-.5 .6,-.5 .6,-.5 .7,-.5 .6,-.5 .6,-.6 .6,-.5 .7,-.5 .6,-.5 .6,-.5 .6,-.5 .6,-.5 .7,-.5 .6,-.5 .6,-.5 .6,-.5 .6,-.5 .7,-.5 .6,-.5 .6,-.5 .6,-.5 .6,-.5 .7,-.6 .6,-.5 .6,-.5 .6,-.5 .6,-.5 .7,-.5 .6,-.5 .6,-.5 .6,-.6 .6,-.5 .7,-.5 .6,-.5 .6,-.5 .6,-.5 .6,-.5 .7,-.5 .6,-.5 .6,-.5 .6,-.5 .6,-.5 .6,-.5 .6,-.5 .7,-.5 .6,-.5 .6,-.5 .6,-.5 .6,-.6 .6,-.5 .6,-.5 .7,-.5 .6,-.5 .6,-.5 .6,-.6 .6,-.5 .6,-.5 .6,-.5 .6,-.5 .6,-.5 .7,-.5 .6,-.6 .6,-.5 .6,-.5 .6,-.5 .6,-.5 .6,-.6 .6,-.5 .6,-.5 .6,-.6 .6,-.5 .6,-.5 .7,-.6 .6,-.5 .6,-.5 .6,-.5 .6,-.6 .6,-.5 .6,-.5 .6,-.5 .6,-.5 .6,-.5 .6,-.5 .6,-.6 .6,-.5"/>
<path d="M1438,1015.6l0,.8 0,.8 .1,.8 0,.8 0,.8 0,.8 .1,.8 0,.8 0,.8 0,.8 0,.8 .1,.8 0,.8 0,.8 0,.8 0,.8 .1,.8 0,.8 0,.8 0,.8 0,.8 0,.8 .1,.8 0,.8 0,.8 0,.8 0,.8 0,.8 .1,.8 0,.8 0,.8 0,.8 0,.8 .1,.8 0,.8 0,.8 0,.8 0,.8 0,.8 0,.8 .1,.8 0,.8 0,.8 0,.8 0,.8 0,.8 .1,.8 0,.8 0,.8 0,.8 0,.8 0,.8 .1,.8 0,.8 0,.8 0,.8 0,.8 0,.8 .1,.8 0,.8 0,.8 0,.8 0,.8 .1,.8 0,.8 0,.8 0,.8 0,.8 0,.8 .1,.8 0,.8 0,.8 0,.8 0,.8 .1,.8 0,.8 0,.8 0,.8 0,.8 0,.8 .1,.8 0,.8 0,.8 0,.8 0,.8 .1,.8 0,.8 0,.8 0,.8 0,.8 .1,.8 0,.8 0,.8 0,.8 0,.8 .1,.8 0,.8 0,.8 0,.8 0,.8 .1,.8 0,.8 0,.8 0,.8 0,.8 .1,.8 0,.8 0,.8 0,.8 0,.8 .1,.8 0,.8 0,.8 0,.8 0,.8 0,.8 .1,.8 0,.8 0,.8 0,.8 0,.8 .1,.8 0,.8 0,.8 0,.8 0,.8 .1,.8 0,.8 0,.8 0,.8 0,.8 0,.8 .1,.8 0,.8 0,.8 0,.8 0,.8 0,.8 .1,.8 0,.8 0,.8 0,.8 0,.8 0,.8 .1,.8 0,.8 0,.8 0,.8 0,.8 0,.8 0,.8 .1,.8 0,.8 0,.8 0,.8 0,.8 0,.8 0,.8 .1,.8 0,.8 0,.8 0,.8 0,.8 0,.8 .1,.8 0,.8 0,.8 0,.8 0,.8 0,.8 0,.8 .1,.8 0,.8 0,.8 0,.8 0,.8 0,.8 0,.8 0,.8 .1,.8 0,.8 0,.8 0,.8 0,.8 0,.8 0,.8 .1,.8 0,.8 0,.8 0,.8 0,.8 0,.8 0,.8 .1,.8 0,.8 0,.8 0,.8 0,.8 0,.8 0,.8 .1,.8 0,.8 0,.8 0,.8 0,.8 0,.8 0,.8 0,.8 .1,.8 0,.8 0,.8 0,.8 0,.8 0,.8 0,.8 .1,.8 0,.8 0,.8 0,.8 0,.8 0,.8 0,.8 .1,.8 0,.8 0,.8 0,.8 0,.8 0,.8 0,.8 .1,.8 0,.8 0,.8 0,.8 0,.8 0,.9 0,.8 .1,.8 0,.8 0,.8 0,.8 0,.8 0,.8 0,.8 .1,.8 0,.8 0,.8 0,.8 0,.8 0,.8 0,.8 .1,.8 0,.8 0,.8 0,.8 0,.8 0,.8 0,.8 .1,.8 0,.8 0,.8 0,.8 0,.8 0,.8 0,.8 .1,.8 0,.8 0,.8 0,.8 0,.8 0,.8 .1,.8 0,.8 0,.8 0,.8 0,.8 0,.8 0,.8 .1,.8 0,.8 0,.8 0,.8 0,.8 0,.8 0,.8 .1,.8 0,.8 0,.8 0,.8 0,.8 0,.8 0,.8 .1,.8 0,.8 0,.8 0,.8 0,.8 0,.8 0,.8 0,.8 .1,.8 0,.8 0,.8 0,.8 0,.8 0,.8 0,.8 .1,.8 0,.8 0,.8 0,.8 0,.8 0,.8 0,.8 .1,.8 0,.8 0,.8 0,.8 0,.8 0,.8 0,.8 0,.8 .1,.8 0,.8 0,.8 0,.8 0,.8 0,.8 0,.8 .1,.8 0,.8 0,.8 0,.8 0,.8 0,.8 .1,.8 0,.8 0,.8 0,.8 0,.8 0,.8 .1,.8 0,.8 0,.8 0,.8 0,.8 0,.8 .1,.8 0,.8 0,.8 0,.8 0,.8 0,.8 .1,.8 0,.8 0,.8 0,.8 .1,.8 0,.8 0,.8 0,.8 0,.8 .1,.8 0,.8 0,.8 0,.8 .1,.8 0,.8 0,.8 0,.8 .1,.8 0,.8 0,.8 0,.8 .1,.8 0,.8 0,.8 0,.8 .1,.8 0,.8 0,.8 0,.8 .1,.8 0,.8 0,.8 0,.8 .1,.8 0,.8 0,.8 0,.8 .1,.8 0,.8 0,.8 .1,.8 0,.8 0,.8 0,.8 .1,.8 0,.8 0,.8 0,.8 .1,.8 0,.8 0,.8 0,.8 .1,.8 0,.8 0,.8 .1,.8 0,.8 0,.8 0,.8 .1,.8 0,.8 0,.8 .1,.8 0,.8 0,.8 0,.8 .1,.8 0,.8 0,.8 .1,.8 0,.8 0,.8 0,.8 .1,.8 0,.8 0,.8 .1,.8 0,.8 0,.8 .1,.8 0,.8 0,.8 .1,.8 0,.8 .1,.8 0,.8 0,.8 .1,.8 0,.8 .1,.8 0,.8 .1,.8 0,.8 .1,.8 0,.8 .1,.8 .1,.8 0,.8 .1,.8 .1,.8 0,.8 .1,.7 .1,.8 0,.8 .1,.8 .1,.8 .1,.8 0,.8 .1,.8 .1,.8 .1,.8 .1,.8 .1,.8 .1,.8 .1,.8 .1,.8 .1,.8 .1,.8 .1,.8 .1,.8 .1,.8 .1,.8 .1,.7 .1,.8 .1,.8 .1,.8 .1,.8 .1,.8 .1,.8 .1,.8 .1,.8 .1,.8 .1,.8 .1,.8 .1,.8 .1,.8 .1,.8 .1,.8 .1,.8 .1,.8 .2,.8 .1,.7 .1,.8 .1,.8 .2,.8 .1,.8 .1,.8 .2,.8 .1,.7 .2,.8 .2,.8 .1,.8 .2,.8 .2,.7 .1,.8 .2,.8 .2,.8 .2,.8 .2,.7 .2,.8 .2,.8 .2,.8 .2,.7 .2,.8 .2,.8 .3,.8 .2,.7 .2,.8 .2,.8 .3,.7 .2,.8 .2,.8 .2,.7 .3,.8 .2,.8 .3,.7 .2,.8 .2,.8 .3,.7 .2,.8 .2,.8 .3,.7 .2,.8 .3,.8 .2,.7 .2,.8 .3,.7 .2,.8 .3,.8 .2,.7 .3,.8 .2,.8 .3,.7 .3,.8 .2,.7 .3,.8 .3,.7 .2,.8 .3,.8 .3,.7 .3,.8 .2,.7 .3,.8 .3,.7 .3,.7 .3,.8 .3,.7 .3,.8 .3,.7 .3,.7 .4,.8 .3,.7 .3,.7 .3,.7 .4,.8 .3,.7 .4,.7 .3,.7 .4,.7 .3,.8 .4,.7 .4,.7 .4,.7 .3,.7 .4,.7 .4,.7 .4,.7 .4,.7 .4,.7 .4,.7 .4,.7 .4,.7 .4,.7 .4,.7 .4,.7 .4,.7 .4,.7 .4,.6 .4,.7 .4,.7 .4,.7 .4,.7 .4,.7 .4,.7 .4,.7 .4,.7 .4,.7 .5,.7 .4,.7 .4,.7 .4,.6 .5,.7 .4,.7 .4,.7 .5,.7 .4,.6 .4,.7 .5,.7 .4,.6 .5,.7 .5,.6 .4,.7 .5,.6 .5,.6 .5,.7 .4,.6 .5,.6 .5,.6 .5,.6 .6,.6 .5,.6 .5,.6 .5,.6 .6,.6 .5,.6 .6,.6 .6,.5 .5,.6 .6,.6 .6,.5 .5,.6 .6,.6 .6,.5 .6,.6 .6,.5 .6,.6 .6,.5 .6,.6 .6,.5 .5,.5 .6,.6 .6,.5 .6,.5 .6,.6 .6,.5 .6,.5 .6,.6 .6,.5 .6,.5 .6,.5 .6,.5 .7,.6 .6,.5 .6,.5 .6,.5 .6,.5 .7,.5 .6,.4 .6,.5 .7,.5 .6,.5 .6,.5 .7,.4 .6,.5 .7,.5 .6,.4 .7,.5 .6,.4 .7,.5 .7,.4 .6,.5 .7,.4 .7,.4 .7,.4 .7,.4 .7,.5 .7,.4 .7,.4 .6,.4 .7,.4 .7,.4 .7,.4 .7,.4 .7,.3 .7,.4 .7,.4 .7,.4 .7,.4 .8,.3 .7,.4 .7,.4 .7,.3 .7,.4 .7,.4 .7,.3 .7,.4 .7,.4 .8,.3 .7,.4 .7,.4 .7,.3 .7,.4 .8,.3 .7,.4 .7,.3 .7,.4 .7,.3 .8,.4 .7,.3 .7,.4 .8,.4 .7,.3 .7,.3 .7,.4 .8,.3 .7,.3 .7,.3 .8,.3 .7,.3 .7,.2 .8,.3 .7,.3 .8,.3 .7,.3 .7,.3 .8,.3 .7,.4 .7,.3 .8,.3 .7,.4 .8,.3 .7,.2 .8,.3 .7,.2 .7,.3 .8,.2 .7,.2 .8,.2 .7,.2 .8,.2 .7,.3 .8,.2 .7,.3 .8,.3 .7,.3 .8,.3 .7,.3 .8,.2 .8,.3 .7,.3 .8,.3 .7,.2 .8,.3 .8,.2 .7,.3 .8,.3 .7,.2 .8,.3 .8,.2 .7,.3 .8,.2 .8,.2 .7,.3 .8,.2 .8,.2 .8,.1 .7,.2 .8,.2 .8,.2 .7,.2 .8,.2 .8,.2 .8,.2 .7,.2 .8,.2 .8,.2 .8,.2 .7,.2 .8,.2 .8,.2 .8,.2 .7,.2 .8,.2 .8,.2 .8,.2 .7,.3 .8,.2 .8,.3 .8,.2 .7,.3 .8,.3 .8,.3 .8,.2 .8,.3 .7,.3 .8,.2 .8,.2 .8,.3 .7,.2 .8,.1 .8,.2 .8,.2 .7,.1 .8,.2 .8,.1 .8,.1 .8,.1 .8,.1 .7,.1 .8,.2 .8,.1 .8,.1 .8,.1 .7,.1 .8,.1 .8,.1 .8,.1 .8,.1 .8,0 .8,.1 .7,.1 .8,.1 .8,.2 .8,.2 .8,.2 .8,.2 .8,.3 .8,.2 .7,.3 .8,.2 .8,.3 .8,.2 .8,.1 .8,.2 .8,.1 .8,.1 .8,.1 .7,.1 .8,.1 .8,.2 .8,.1 .8,.2 .8,.2 .8,.2 .8,.1 .8,.2 .7,.1 .8,.2 .8,.1 .8,.1 .8,.2 .8,.1 .8,.2 .8,.2 .8,.1 .8,.2 .7,.1 .8,.1 .8,.1 .8,.1 .8,0 .8,.1 .8,.1 .8,.1 .8,.1 .8,.1 .8,.2 .7,.1 .8,.2 .8,.2 .8,.1 .8,.2 .8,.1 .8,.1 .8,.1 .8,.1 .8,0 .8,.1 .8,0 .8,.1 .8,0 .7,.1 .8,0 .8,.1 .8,0 .8,.1 .8,.1 .8,.1 .8,.1 .8,.1 .8,.2 .8,.1 .8,.2 .8,.1 .8,.1 .8,.1 .8,.1 .8,0 .7,.1 .8,0 .8,0 .8,0 .8,0 .8,.1 .8,0 .8,.1 .8,.1 .8,.1 .8,.1 .8,.2 .8,.1 .8,.2 .8,.2 .8,.1 .8,.2 .7,.1 .8,.2 .8,.1 .8,.1 .8,.1 .8,.1 .8,0 .8,.1 .8,0 .8,.1 .8,0 .8,.1 .8,.1 .8,0 .8,.1 .8,.1 .8,.2 .8,.1 .7,.1 .8,.1 .8,.1 .8,.1 .8,0 .8,.1 .8,0 .8,.1 .8,0 .8,.1 .8,.1 .8,0 .8,.1 .8,0 .8,.1 .8,.1 .8,.1 .8,.1 .7,.1 .8,.1 .8,.2 .8,.1 .8,.2 .8,.2 .8,.2 .8,.2 .8,.2 .8,.2 .8,.1 .8,.1 .8,.1 .8,0 .8,.1 .8,0 .8,0 .8,0 .8,0 .8,0 .8,.1 .7,.1 .8,.1 .8,.2 .8,.1 .8,.1 .8,.1 .8,0 .8,.1 .8,0 .8,.1 .8,0 .8,.1 .8,0 .8,.1 .8,0 .8,0 .8,0 .8,0 .8,.1 .8,0 .8,0 .8,0 .8,0 .8,.1 .7,.1 .8,.2 .8,.1 .8,.2 .8,.2 .8,.2 .8,.2 .8,.1 .8,.1 .8,.1 .8,0 .8,0 .8,0 .8,0 .8,0 .8,0 .8,0 .8,0 .8,.1 .8,0 .8,0 .8,.1 .8,0 .8,.1 .8,0 .8,.1 .8,.1 .8,.1 .8,0 .7,.1 .8,.1 .8,.1 .8,0 .8,.1 .8,0 .8,0 .8,0 .8,0 .8,0 .8,0 .8,.1 .8,.1 .8,.1 .8,.1 .8,.2 .8,.1 .8,.1 .8,.1 .8,.1 .8,.1 .8,0 .8,0 .8,-.1 .8,0 .8,-.1 .8,0 .8,-.1 .8,-.1 .8,-.1 .8,-.1 .8,-.1 .8,0 .8,0 .8,0 .8,.1 .8,.2 .8,.2 .8,.3 .8,.2 .8,.2 .8,.2 .8,.1 .8,.1 .8,0 .8,0 .8,0 .8,-.1 .8,0 .8,-.1 .8,-.1 .8,0 .8,-.1 .8,0 .8,.1 .8,0 .8,0 .8,0 .7,.1 .8,0 .8,0 .8,0 .8,.1 .8,.1 .8,0 .8,.1 .8,.1 .8,0 .8,.1 .8,.1 .8,.1 .8,0 .8,.1 .8,.1 .8,.1 .8,.1 .8,.1 .8,.1 .8,.1 .8,.1 .8,0 .8,0 .8,0 .8,0 .8,0 .8,-.1 .8,-.1 .8,-.1 .8,0 .8,-.1 .8,0 .8,0 .8,.1 .8,0 .8,.1 .8,.1 .8,.1 .8,.1 .8,.1 .8,.1 .8,.1 .8,0 .8,.1 .8,0 .8,0 .8,0 .8,-.1 .8,0 .8,-.1 .8,0 .8,0 .8,0 .8,0 .8,0 .8,0 .8,0 .8,0 .8,.1 .8,0 .8,0 .8,0 .8,-.1 .8,-.1 .8,0 .8,-.1 .8,-.1 .8,-.1 .8,-.1 .8,0 .8,0 .8,0 .8,.1 .8,.1 .8,0 .8,.1 .8,.1 .8,0 .8,.1 .8,0 .8,0 .8,0 .8,.1 .8,0 .8,0 .8,.1 .8,0 .8,0 .8,0 .8,0 .8,-.1 .8,0 .8,0 .8,0 .8,0 .8,0 .8,.1 .8,0 .8,.1 .8,.1 .8,.2 .8,.1 .8,.1 .8,.1 .8,0 .8,0 .8,0 .8,0 .8,-.1 .8,0 .8,-.1 .8,0 .8,-.1 .8,0 .8,-.1 .8,0 .8,0 .8,0 .8,0 .8,.1 .8,.1 .8,.1 .8,0 .8,.1 .8,0 .8,0 .8,0 .8,-.1 .8,-.1 .8,-.1 .8,-.1 .8,-.1 .8,0 .8,-.1 .8,0 .8,0 .8,-.1 .8,0 .8,.1 .8,0 .8,0 .8,.1 .8,0 .8,.1 .8,0 .8,0 .8,0 .8,0 .8,.1 .8,0 .8,0 .8,0 .8,.1 .8,0 .8,0 .8,-.1 .8,0 .8,0 .8,0 .8,.1 .8,0 .8,-.1 .8,0 .8,-.1 .8,0 .8,-.1 .8,-.1 .7,0 .8,-.1 .8,0 .8,-.1 .8,.1 .8,0 .8,0 .8,0 .8,0 .8,0 .8,0 .8,-.1 .8,0 .8,0 .8,0 .8,0 .8,.1 .8,0 .8,.1 .8,.1 .8,.1 .8,0 .8,.1 .8,.1 .8,.1 .8,.1 .8,0 .8,0 .8,0 .8,0 .8,.1 .8,0 .8,0 .8,0 .8,0 .8,-.1 .8,0 .8,-.1 .8,-.1 .8,-.1 .8,-.1 .8,0 .8,0 .8,0 .8,.1 .8,.1 .8,.1 .8,.2 .8,.1 .8,.2 .8,.2 .8,.2 .8,.2 .8,.2 .8,.1 .8,.2 .8,.1 .8,.1 .8,0 .8,0 .8,0 .8,-.1 .8,-.1 .8,-.1 .8,-.2 .8,-.1 .8,-.1 .8,-.1 .8,0 .8,0 .8,0 .8,0 .8,0 .8,0 .8,0 .8,-.1 .8,-.1 .8,-.2 .8,-.2 .8,-.1 .8,-.2 .8,-.1 .8,0 .8,0 .8,.1 .8,.2 .8,.2 .8,.3 .8,.3 .8,.2 .8,.3 .8,.2 .8,.1 .8,0 .8,0 .8,0 .8,-.1 .8,-.1 .8,-.2 .8,-.1 .8,-.1 .8,-.1 .8,-.1 .8,0 .8,-.1 .8,0 .8,0 .8,0 .8,0 .8,0 .8,0 .8,0 .8,0 .8,-.1 .8,0 .8,-.1 .8,-.1 .8,0 .8,-.1 .8,0 .8,-.1 .8,0 .8,0 .8,.1 .8,.1 .8,.1 .8,.1 .8,.2 .8,.1 .8,.2 .8,.2 .8,.2 .8,.2 .8,.1 .8,.1 .8,.1 .8,0 .8,0 .8,0 .8,0 .8,0 .8,.1 .8,0 .8,0 .8,0 .8,-.1 .8,0 .8,-.2 .8,-.1 .8,-.1 .8,-.2 .8,-.2 .8,-.1 .8,-.2 .8,-.1 .8,-.1 .8,-.1 .8,0 .8,0 .8,0 .8,0 .8,0 .8,0 .8,0 .8,-.1 .8,0 .8,0 .8,0 .7,.1 .8,.1 .8,.1 .8,.2 .8,.1 .8,.2 .8,.1 .8,.2 .8,.1 .8,.1 .8,0 .8,0 .8,0 .8,0 .8,0 .8,0 .8,0 .8,0 .8,-.1 .8,0 .8,0 .8,-.1 .8,0 .8,0 .8,.1 .8,0 .8,0 .8,.1 .8,0 .8,0 .8,0 .8,.1 .8,0 .8,.1 .8,0 .8,.1 .8,0 .8,.1 .8,.1 .8,0 .8,.1 .8,0 .8,0 .8,0 .8,0 .8,-.1 .8,-.1 .8,-.2 .8,-.1 .8,-.2 .8,0 .8,-.1 .8,.1 .8,0 .8,.1 .8,.1 .8,.1 .8,.2 .8,.2 .8,.1 .8,.2 .8,.1 .8,.1 .8,.1 .8,0 .8,0 .8,0 .8,0 .8,0 .8,0 .8,0 .8,0 .8,-.1 .8,-.1 .8,0 .8,-.1 .8,-.1 .8,-.2 .8,-.1 .8,0 .8,-.1 .8,-.1 .8,0 .8,0 .8,-.1 .8,0 .8,0 .8,-.1 .8,0 .8,0 .8,-.1 .8,0 .8,-.1 .8,-.1 .8,0 .8,0 .8,0 .8,0 .8,0 .8,0 .8,.1 .8,0 .8,0 .8,0 .8,0 .8,0 .8,0 .8,0 .8,0 .8,0 .8,0 .8,0 .8,.1 .8,0 .8,0 .8,0 .8,.1 .8,0 .8,-.1 .8,0 .8,0 .8,-.1 .8,0 .8,-.1 .8,-.1 .8,-.1 .8,0 .8,-.1 .8,0 .8,-.1 .8,0 .8,0 .8,0 .8,.1 .8,.1 .8,.1 .8,.1 .8,.1 .8,0 .8,.1 .8,0 .8,-.1 .8,0 .8,-.1 .8,-.1 .8,-.1 .8,-.1 .8,-.1 .8,-.1 .8,0 .8,0 .8,0 .8,.1 .8,.1 .8,0 .8,.1 .8,.1 .8,0 .8,.1 .8,0 .8,0 .8,.1 .8,0 .8,0 .8,.1 .8,0 .8,0 .8,0 .8,0 .8,0 .8,-.1 .8,-.1 .8,-.1 .8,-.1 .8,-.1 .8,-.2 .8,-.2 .8,-.1 .8,-.2 .8,-.1 .8,0 .8,-.1 .8,0 .8,.1 .8,.1 .8,.1 .8,.1 .7,.1 .8,.2 .8,.1 .8,.1 .8,.1 .8,0 .8,0 .8,-.1 .8,0 .8,-.1 .8,0 .8,0 .8,0 .8,0 .8,.1 .8,0 .8,.1 .8,0 .8,.1 .8,0 .8,0 .8,.1 .8,0 .8,0 .8,0 .8,.1 .8,0 .8,.1 .8,0 .8,0 .8,.1 .8,-.1 .8,0 .8,0 .8,-.1 .8,0 .8,0 .8,0 .8,0 .8,.1 .8,0 .8,0 .8,.1 .8,0 .8,-.1 .8,0 .8,-.1 .8,-.1 .8,0 .8,-.1 .8,0 .8,0 .8,0 .8,.1 .8,0 .8,.1 .8,.2 .8,.1 .8,.1 .8,.2 .8,.2 .8,.1 .8,.2 .8,.1 .8,.1 .8,.1 .8,0 .8,0 .8,-.1 .8,-.1 .8,-.2 .8,-.1 .8,-.2 .8,-.2 .8,-.1 .8,-.1 .8,-.1 .8,0 .8,0 .8,0 .8,0 .8,0 .8,0 .8,0 .8,-.1 .8,0 .8,0 .8,-.1 .8,0 .8,0 .8,0"/>
</g>
<path d="M1452,1368.8l1,5 1,5 1,4.7 1,4.4 1,4.2 1,4 1,3.9 1,3.7 1,3.7 1,3.6 1,3.5 1,3.5 1,3.4 1,3.3 1,3.1 1,3.1 1,3 1,2.9 1,2.7 1,2.7 1,2.5 1,2.3 1,2.2 1,2.2 1,2.2 1,2.2 1,2.3 1,2.5 1,2.7 1,2.9 .9,2.7 1,2.4 1,2 1,1.6 1,1.4 1,1.2 1,1.2 1,1.1 1,1.1 1,1 1,.9 1,.8 1,1 1,.9 1,.9 1,.8 1,.8 1,.9 1,.8 1,.8 1,.9 1,.8 1,.8 1,.7 1,.8 1,.7 1,.6 1,.7 1,.6 1,.6 1,.5 1,.6 1,.5 1,.5 1,.6 1,.4 1,.5 1,.5 1,.4 1,.4 1,.5 1,.3 1,.4 1,.4 1,.4 1,.3 1,.4 1,.3 1,.2 1,.2 1,.3 1,.3 1,.2 1,.3 1,.1 1,.2 1,.3 1,.2 1,.4 1,.3 1,.4 1,.2 1,.3 1,.4 1,.3 1,.5 1,.4 1,.3 1,.2 1,.3 1,.3 1,.2 1,.3 1,.4 1,.2 1,.2 1,.3 1,.3 1,.2 1,.2 1,.2 1,.3 1,.2 1,.3 1,.2 1,.2 1,.1 1,.3 1,.2 1,.1 .9,0 1,.2 1,.2 1,0 1,.2 1,.3 1,.3 1,.3 1,.4 1,.3 1,.3 1,.2 1,0 1,.1 1,0 1,0 1,-.1 1,0 1,.2 1,-.1 1,.2 1,.1 1,.2 1,.2 1,.2 1,.3 1,.3 1,.2 1,0 1,.2 1,.1 1,0 1,0 1,.1 1,-.1 1,.1 1,0 1,.1 1,.1 1,.2 1,.2 1,.2 1,.1 1,.2 1,.2 1,.2 1,.1 1,.2 1,.1 1,.2 1,.2 1,0 1,0 1,.1 1,-.1 1,0 1,-.1 1,0 1,-.1 1,-.1 1,0 1,.3 1,.1 1,.3 1,.3 1,.3 1,.3 1,.2 1,.1 1,.2 1,.1 1,.1 1,.1 1,0 1,.1 1,.1 1,.3 1,.2 1,.2 1,.3 1,.2 1,.3 1,.1 1,.2 1,0 1,.1 1,.1 1,.1 1,0 1,0 .9,.1 1,0 1,0 1,.1 1,0 1,0 1,0 1,0 1,.1 1,.1 1,.1 1,0 1,.1 1,0 1,0 1,0 1,.1 1,.1 1,.1 1,0 1,.1 1,.1 1,0 1,.1 1,.1 1,0 1,0 1,.2 1,-.1 1,0 1,.2 1,0 1,-.1 1,.1 1,.1 1,0 1,0 1,.1 1,.1 1,.1 1,.1 1,.3 1,-.1 1,.2 1,0 1,0 1,0 1,-.2 1,-.1 1,-.2 1,-.1 1,-.1 1,-.2 1,-.1 1,-.1 1,-.2 1,-.1 1,0 1,0 1,.1 1,0 1,.1 1,.2 1,.2 1,.3 1,.3 1,.3 1,.2 1,.1 1,0 1,0 1,-.3 1,-.2 1,-.3 1,-.3 1,-.2 1,-.2 1,-.1 1,0 1,-.1 1,.1 1,.2 1,0 1,.1 1,.1 1,.1 1,.1 1,0 1,0 .9,-.1 1,0 1,0 1,0 1,0 1,.1 1,0 1,.2 1,0 1,.1 1,.2 1,.3 1,.1 1,0 1,-.1 1,0 1,0 1,-.1 1,-.1 1,-.2 1,-.1 1,0 1,-.1 1,-.1 1,.1 1,.1 1,.1 1,.1 1,.2 1,.2 1,.1 1,.2 1,.1 1,.2 1,0 1,.1 1,-.1 1,-.1 1,.1 1,0 1,-.1 1,0 1,.1 1,.1 1,0 1,.1 1,0 1,-.1 1,0 1,-.1 1,0 1,0 1,0 1,.1 1,.1 1,.2 1,.2 1,.1 1,.1 1,0 1,0 1,0 1,-.1 1,0 1,0 1,.1 1,.1 1,.1 1,.1 1,0 1,.1 1,-.1 1,-.1 1,-.1 1,-.2 1,-.1 1,-.1 1,-.2 1,-.1 1,-.2 1,0 1,-.1 1,0 1,.2 1,.1 1,.2 1,.1 1,.2 1,.1 1,.1 .9,0 1,.1 1,.2 1,0 1,.1 1,0 1,0 1,0 1,0 1,0 1,-.1 1,0 1,-.1 1,-.2 1,0 1,-.2 1,0 1,0 1,.1 1,0 1,.1 1,.1 1,.1 1,.1 1,.2 1,-.1 1,0 1,-.1 1,0 1,-.1 1,0 1,.1 1,0 1,0 1,0 1,-.1 1,-.2 1,-.1 1,0 1,-.2 1,0 1,0 1,0 1,.3 1,.2 1,.2 1,.3 1,.1 1,.1 1,0 1,-.1 1,-.1 1,-.2 1,-.1 1,-.1 1,-.2 1,-.1 1,-.1 1,0 1,-.2 1,-.2 1,-.1 1,-.2 1,-.1 1,-.1 1,-.1 1,-.1 1,0 1,.1 1,0 1,0 1,0 1,.1 1,-.3 1,0 1,-.1 1,-.3 1,-.1 1,-.2 1,-.1 1,-.1 1,.2 1,.2 1,.2 1,.2 1,.1 1,.2 1,-.1 1,0 .9,-.2 1,-.1 1,-.1 1,.1 1,-.1 1,0 1,0 1,0 1,0 1,.1 1,0 1,-.1 1,-.1 1,-.1 1,-.1 1,-.1 1,0 1,.1 1,0 1,0 1,.1 1,-.1 1,0 1,0 1,-.1 1,-.1 1,-.2 1,-.3 1,-.1 1,-.2 1,-.2 1,-.2 1,-.1 1,0 1,-.1 1,0 1,0 1,0 1,0 1,.1 1,0 1,0 1,-.1 1,0 1,0 1,-.1 1,0 1,-.3 1,-.1 1,0 1,-.1 1,0 1,-.1 1,-.1 1,0 1,.1 1,0 1,.1 1,0 1,-.1 1,-.1 1,-.1 1,-.2 1,-.3 1,-.3 1,-.3 1,-.3 1,-.5 1,-.3 1,-.2 1,-.3 1,-.1 1,-.2 1,-.1 1,0 1,-.1 1,0 1,0 1,0 1,-.1 1,-.1 1,0 1,-.1 1,-.1 1,0 1,0 1,-.1 1,0 1,-.1 1,-.1 .9,-.2 1,-.1 1,-.1 1,-.1 1,-.1 1,0 1,-.2 1,0 1,0 1,-.1 1,-.1 1,-.2 1,-.2 1,-.2 1,-.3 1,-.3 1,-.1 1,-.2 1,-.2 1,-.1 1,0 1,0 1,.1 1,.1 1,.1 1,.1 1,-.2 1,0 1,-.1 1,-.2 1,-.2 1,-.3 1,-.2 1,-.1 1,-.3 1,-.1 1,-.1 1,-.1 1,-.2 1,-.1 1,-.2 1,0 1,-.1 1,-.2 1,-.3 1,-.2 1,-.4 1,-.4 1,-.4 1,-.3 1,-.3 1,-.3 1,-.1 1,-.1 1,-.1 1,0 1,0 1,-.1 1,.1 1,-.1 1,-.2 1,-.2 1,-.1 1,-.2 1,-.3 1,-.4 1,-.2 1,-.4 1,-.3 1,-.3 1,-.4 1,-.3 1,-.2 1,-.1 1,-.1 1,-.2 1,-.1 1,-.1 1,-.1 1,-.2 1,-.2 1,-.1 1,-.2 1,-.2 1,-.3 1,-.1 1,-.2 1,-.1 1,-.2 .9,-.2 1,-.2 1,-.2 1,-.1 1,-.3 1,-.2 1,-.3 1,-.3 1,-.4 1,-.1 1,-.4 1,-.2 1,-.4 1,-.2 1,-.1 1,-.3 1,-.2 1,-.4 1,-.3 1,-.2 1,-.4 1,-.2 1,-.3 1,-.3 1,-.3 1,-.2 1,-.3 1,-.4 1,-.3 1,-.4 1,-.3 1,-.3 1,-.4 1,-.2 1,-.4 1,-.3 1,-.2 1,-.4 1,-.3 1,-.3 1,-.4 1,-.3 1,-.4 1,-.3 1,-.4 1,-.4 1,-.4 1,-.3 1,-.3 1,-.4 1,-.5 1,-.4 1,-.4 1,-.3 1,-.4 1,-.5 1,-.5 1,-.4 1,-.4 1,-.5 1,-.6 1,-.5 1,-.5 1,-.6 1,-.4 1,-.5 1,-.5 1,-.5 1,-.5 1,-.4 1,-.6 1,-.5 1,-.5 1,-.5 1,-.5 1,-.6 1,-.6 1,-.5 1,-.5 1,-.5 1,-.6 1,-.5 1,-.6 1,-.6 1,-.5 1,-.6 1,-.5 1,-.6 1,-.5 1,-.5 .9,-.6 1,-.5 1,-.6 1,-.6 1,-.5 1,-.6 1,-.5 1,-.6 1,-.5 1,-.5 1,-.5 1,-.6 1,-.6 1,-.5 1,-.5 1,-.6 1,-.5 1,-.6 1,-.6 1,-.5 1,-.6 1,-.6 1,-.5 1,-.6 1,-.6 1,-.7 1,-.5 1,-.7 1,-.7 1,-.6 1,-.5 1,-.6 1,-.5 1,-.6 1,-.6 1,-.6 1,-.6 1,-.6 1,-.6 1,-.6 1,-.6 1,-.7 1,-.6 1,-.7 1,-.6 1,-.7 1,-.7 1,-.6 1,-.7 1,-.7 1,-.7 1,-.7 1,-.6 1,-.7 1,-.8 1,-.7 1,-.6 1,-.8 1,-.7 1,-.7 1,-.8 1,-.7 1,-.8 1,-.7 1,-.8 1,-.7 1,-.7 1,-.8 1,-.7 1,-.8 1,-.8 1,-.8 1,-.8 1,-.9 1,-.6 1,-1 1,-.7 1,-.8 1,-.8 1,-.8 1,-.8 1,-.8 1,-.8 1,-.7 1,-1 1,-.7 1,-.9 1,-.8 1,-.8 1,-.8 .9,-.8 1,-.8 1,-.9 1,-.7 1,-.9 1,-.8 1,-.8 1,-.8 1,-.8 1,-.9 1,-.8 1,-.9 1,-.8 1,-.7 1,-.8 1,-.9 1,-.8 1,-.8 1,-.9 1,-.7 1,-.9 1,-.8 1,-.8 1,-.9 1,-.9 1,-.7 1,-.9 1,-.8 1,-.9 1,-.9 1,-.9 1,-.7 1,-.9 1,-.9 1,-.9 1,-.8 1,-.9 1,-.9 1,-.8 1,-.9 1,-.9 1,-.8 1,-.8 1,-.9 0,3.4 -1,.9 -1,.8 -1,.9 -1,.9 -1,.9 -1,.8 -1,.8 -1,.9 -1,.8 -1,1 -1,.9 -1,.8 -1,.9 -1,.9 -1,.7 -1,1 -1,.7 -1,.9 -1,.9 -1,.8 -1,.8 -1,.9 -1,.8 -1,1 -1,.7 -1,.8 -1,.9 -1,.7 -1,.8 -1,.8 -1,.9 -1,.7 -1,.9 -1,.8 -1,.8 -1,.8 -1,.9 -1,.7 -1,1 -1,.8 -1,.7 -1,.8 -1,.8 -.9,.9 -1,.8 -1,.8 -1,.8 -1,.8 -1,.9 -1,.8 -1,.7 -1,.9 -1,.8 -1,.8 -1,.8 -1,.8 -1,.8 -1,.8 -1,.8 -1,.8 -1,.8 -1,.8 -1,.8 -1,.9 -1,.7 -1,.7 -1,.7 -1,.9 -1,.7 -1,.8 -1,.7 -1,.7 -1,.8 -1,.8 -1,.6 -1,.7 -1,.8 -1,.6 -1,.7 -1,.7 -1,.7 -1,.7 -1,.8 -1,.6 -1,.6 -1,.7 -1,.6 -1,.7 -1,.7 -1,.7 -1,.6 -1,.6 -1,.7 -1,.6 -1,.6 -1,.6 -1,.6 -1,.7 -1,.5 -1,.6 -1,.7 -1,.4 -1,.7 -1,.7 -1,.6 -1,.6 -1,.6 -1,.6 -1,.6 -1,.5 -1,.6 -1,.6 -1,.6 -1,.5 -1,.6 -1,.6 -1,.5 -1,.6 -1,.5 -1,.6 -1,.5 -1,.5 -1,.6 -1,.5 -1,.6 -1,.5 -1,.5 -1,.6 -1,.6 -1,.5 -1,.5 -1,.5 -1,.6 -.9,.5 -1,.6 -1,.5 -1,.6 -1,.5 -1,.6 -1,.6 -1,.5 -1,.6 -1,.5 -1,.6 -1,.6 -1,.5 -1,.6 -1,.6 -1,.4 -1,.6 -1,.5 -1,.5 -1,.5 -1,.6 -1,.5 -1,.4 -1,.5 -1,.5 -1,.5 -1,.5 -1,.5 -1,.5 -1,.6 -1,.4 -1,.5 -1,.5 -1,.5 -1,.5 -1,.3 -1,.4 -1,.4 -1,.4 -1,.5 -1,.4 -1,.4 -1,.3 -1,.3 -1,.4 -1,.3 -1,.4 -1,.3 -1,.4 -1,.3 -1,.4 -1,.3 -1,.3 -1,.4 -1,.2 -1,.3 -1,.3 -1,.3 -1,.4 -1,.3 -1,.4 -1,.3 -1,.3 -1,.4 -1,.2 -1,.4 -1,.3 -1,.3 -1,.4 -1,.2 -1,.3 -1,.3 -1,.2 -1,.3 -1,.3 -1,.3 -1,.2 -1,.2 -1,.2 -1,.3 -1,.3 -1,.3 -1,.3 -1,.4 -1,.2 -1,.3 -1,.2 -1,.1 -1,.2 -1,.2 -.9,.1 -1,.3 -1,.2 -1,.1 -1,.1 -1,.3 -1,.1 -1,.3 -1,.2 -1,.1 -1,.1 -1,.2 -1,.2 -1,.1 -1,.1 -1,.2 -1,.1 -1,.2 -1,.2 -1,.3 -1,.4 -1,.3 -1,.3 -1,.3 -1,.3 -1,.3 -1,.2 -1,.3 -1,.2 -1,.2 -1,0 -1,0 -1,0 -1,0 -1,0 -1,.1 -1,0 -1,.3 -1,.3 -1,.2 -1,.4 -1,.4 -1,.3 -1,.4 -1,.2 -1,.3 -1,.2 -1,.2 -1,.1 -1,.1 -1,.1 -1,.1 -1,.1 -1,.1 -1,.1 -1,.2 -1,.2 -1,.3 -1,.2 -1,.1 -1,.2 -1,.2 -1,.1 -1,.1 -1,-.1 -1,-.1 -1,-.1 -1,-.1 -1,0 -1,.1 -1,.1 -1,.2 -1,.1 -1,.2 -1,.3 -1,.2 -1,.2 -1,.2 -1,.2 -1,0 -1,.2 -1,.1 -1,.1 -1,0 -1,.1 -1,0 -1,.1 -1,.1 -1,.1 -.9,.1 -1,.1 -1,.1 -1,0 -1,.1 -1,0 -1,0 -1,.1 -1,.1 -1,.1 -1,0 -1,.1 -1,0 -1,.1 -1,0 -1,.1 -1,0 -1,0 -1,.2 -1,.2 -1,.2 -1,.3 -1,.4 -1,.3 -1,.3 -1,.3 -1,.4 -1,.3 -1,.1 -1,.2 -1,.1 -1,.1 -1,-.1 -1,-.1 -1,0 -1,0 -1,-.1 -1,.1 -1,0 -1,.1 -1,.1 -1,.2 -1,0 -1,.2 -1,.1 -1,.1 -1,0 -1,0 -1,.1 -1,0 -1,-.1 -1,0 -1,-.1 -1,0 -1,0 -1,0 -1,.1 -1,.1 -1,.2 -1,.2 -1,.1 -1,.1 -1,.2 -1,.2 -1,.1 -1,.2 -1,.2 -1,0 -1,0 -1,0 -1,0 -1,-.1 -1,0 -1,-.1 -1,0 -1,.1 -1,.1 -1,.1 -1,.1 -1,.1 -1,0 -1,0 -1,0 -1,-.1 -1,0 -1,0 -1,.1 -1,0 -1,.2 -1,.1 -.9,.1 -1,0 -1,.1 -1,-.1 -1,-.1 -1,-.2 -1,-.2 -1,-.2 -1,-.1 -1,0 -1,.1 -1,0 -1,.3 -1,.2 -1,.1 -1,.1 -1,.1 -1,0 -1,.1 -1,-.1 -1,-.1 -1,0 -1,0 -1,0 -1,.1 -1,.2 -1,.1 -1,.1 -1,.3 -1,0 -1,.3 -1,.2 -1,0 -1,0 -1,.2 -1,.1 -1,.1 -1,.2 -1,.1 -1,0 -1,.1 -1,-.1 -1,-.1 -1,-.2 -1,-.2 -1,-.2 -1,-.3 -1,-.1 -1,0 -1,0 -1,.2 -1,.1 -1,.2 -1,0 -1,0 -1,0 -1,.1 -1,-.1 -1,0 -1,0 -1,0 -1,.1 -1,.1 -1,0 -1,0 -1,0 -1,-.3 -1,-.1 -1,-.1 -1,0 -1,-.1 -1,-.1 -1,0 -1,.2 -1,0 -1,.1 -1,.1 -1,.1 -1,.1 -1,.1 -1,0 -1,-.1 -1,0 -1,0 -1,0 -1,-.1 -1,0 -1,-.1 -1,0 -.9,-.1 -1,-.1 -1,-.2 -1,-.1 -1,-.1 -1,-.1 -1,-.1 -1,-.2 -1,0 -1,0 -1,.1 -1,.1 -1,.1 -1,.1 -1,.1 -1,.2 -1,.1 -1,.2 -1,0 -1,.1 -1,0 -1,0 -1,-.1 -1,-.2 -1,-.1 -1,0 -1,0 -1,0 -1,0 -1,0 -1,0 -1,0 -1,-.1 -1,-.1 -1,-.2 -1,-.2 -1,-.1 -1,-.1 -1,0 -1,-.1 -1,.1 -1,.1 -1,.1 -1,.1 -1,0 -1,-.1 -1,0 -1,0 -1,-.1 -1,0 -1,0 -1,0 -1,-.1 -1,0 -1,0 -1,0 -1,0 -1,-.1 -1,-.1 -1,-.2 -1,-.2 -1,-.2 -1,-.1 -1,-.2 -1,-.1 -1,-.1 -1,-.1 -1,.1 -1,0 -1,.2 -1,.1 -1,.1 -1,.3 -1,0 -1,.1 -1,0 -1,0 -1,0 -1,-.1 -1,-.1 -1,-.2 -1,-.2 -1,-.2 -1,-.1 -1,-.1 -1,0 -1,-.1 -1,.1 -1,0 -1,0 -.9,0 -1,0 -1,0 -1,0 -1,-.2 -1,0 -1,-.1 -1,0 -1,-.1 -1,-.2 -1,0 -1,0 -1,.1 -1,.3 -1,.3 -1,.2 -1,.3 -1,.3 -1,.2 -1,0 -1,-.1 -1,-.1 -1,-.2 -1,-.3 -1,-.2 -1,-.3 -1,-.2 -1,-.1 -1,-.1 -1,-.2 -1,.1 -1,0 -1,0 -1,.1 -1,0 -1,.1 -1,.2 -1,.2 -1,.1 -1,.2 -1,.1 -1,.1 -1,.1 -1,0 -1,0 -1,0 -1,-.1 -1,0 -1,-.2 -1,0 -1,-.2 -1,-.2 -1,0 -1,0 -1,-.1 -1,-.1 -1,0 -1,0 -1,0 -1,-.1 -1,.1 -1,-.1 -1,-.1 -1,.1 -1,-.1 -1,-.1 -1,-.1 -1,-.2 -1,0 -1,-.1 -1,0 -1,0 -1,-.1 -1,-.1 -1,0 -1,-.1 -1,0 -1,-.1 -1,0 -1,-.1 -1,-.1 -1,0 -1,0 -1,-.1 -1,.1 -1,-.1 -1,0 -1,-.1 -1,0 -.9,0 -1,-.1 -1,0 -1,0 -1,-.1 -1,-.1 -1,-.1 -1,-.1 -1,-.2 -1,-.1 -1,-.2 -1,-.3 -1,-.3 -1,-.2 -1,-.2 -1,-.1 -1,-.2 -1,-.1 -1,-.1 -1,0 -1,-.1 -1,-.2 -1,-.1 -1,-.2 -1,-.3 -1,-.3 -1,-.3 -1,-.3 -1,-.2 -1,-.1 -1,0 -1,0 -1,0 -1,.1 -1,0 -1,.1 -1,0 -1,0 -1,-.1 -1,0 -1,-.2 -1,-.1 -1,-.1 -1,-.2 -1,-.2 -1,-.1 -1,-.1 -1,-.3 -1,-.2 -1,-.1 -1,-.2 -1,-.3 -1,-.1 -1,0 -1,-.1 -1,0 -1,0 -1,.1 -1,.1 -1,-.1 -1,-.2 -1,-.1 -1,-.2 -1,-.2 -1,-.3 -1,-.2 -1,-.3 -1,-.1 -1,-.1 -1,-.2 -1,-.2 -1,.1 -1,0 -1,0 -1,0 -1,-.1 -1,.1 -1,-.1 -1,-.2 -1,-.2 -1,-.3 -1,-.2 -1,-.3 -1,-.4 -1,-.3 -1,-.1 -1,-.2 -1,-.1 -1,-.2 -1,-.2 -.9,-.1 -1,-.1 -1,-.1 -1,-.2 -1,-.3 -1,-.2 -1,-.2 -1,-.3 -1,-.3 -1,-.2 -1,-.2 -1,-.3 -1,-.2 -1,-.2 -1,-.2 -1,-.2 -1,-.4 -1,-.3 -1,-.1 -1,-.3 -1,-.4 -1,-.2 -1,-.3 -1,-.4 -1,-.3 -1,-.3 -1,-.3 -1,-.5 -1,-.4 -1,-.3 -1,-.3 -1,-.4 -1,-.2 -1,-.3 -1,-.2 -1,-.1 -1,-.3 -1,-.2 -1,-.2 -1,-.3 -1,-.3 -1,-.4 -1,-.3 -1,-.3 -1,-.3 -1,-.3 -1,-.4 -1,-.3 -1,-.4 -1,-.4 -1,-.4 -1,-.5 -1,-.4 -1,-.4 -1,-.5 -1,-.5 -1,-.4 -1,-.6 -1,-.6 -1,-.5 -1,-.6 -1,-.6 -1,-.6 -1,-.6 -1,-.7 -1,-.7 -1,-.8 -1,-.6 -1,-.8 -1,-.8 -1,-.7 -1,-.9 -1,-.9 -1,-.8 -1,-.9 -1,-.9 -1,-.9 -1,-.9 -1,-.9 -1,-.8 -1,-1 -1,-1 -1,-1.1 -1,-1 -1,-1.1 -1,-1.3 -1,-1.4 -1,-1.7 -1,-2 -1,-2.4 -.9,-2.7 -1,-2.9 -1,-2.7 -1,-2.5 -1,-2.2 -1,-2.3 -1,-2.2 -1,-2.2 -1,-2.3 -1,-2.2 -1,-2.5 -1,-2.7 -1,-2.7 -1,-2.9 -1,-3 -1,-3.1 -1,-3.2 -1,-3.3 -1,-3.3 -1,-3.5 -1,-3.6 -1,-3.6 -1,-3.6 -1,-3.8 -1,-3.9 -1,-4 -1,-4.2 -1,-4.4 -1,-4.7 -1,-5 -1,-5z" fill="#000"/>
<path d="M1452,1416.1l1,4.1 1,3.9 1,3.6 1,3.5 1,3.3 1,3.2 1,3.2 1,3.1 1,2.9 1,3 1,2.8 1,2.6 1,2.6 1,2.4 1,2.4 1,2.2 1,1.9 1,1.8 1,1.8 1,1.8 1,1.7 1,1.7 1,1.8 1,1.9 1,1.4 1,1.5 1,2.4 1,1.5 1,1.7 1,1.4 .9,1.1 1,2.1 1,1.3 1,1.7 1,1.4 1,1.3 1,1.2 1,1.4 1,1.1 1,1.1 1,1.2 1,.9 1,-.2 1,1.8 1,1 1,.2 1,.4 1,2.1 1,1.5 1,.7 1,0 1,.7 1,1.7 1,.4 1,.9 1,1.6 1,.5 1,1.1 1,-.5 1,1.3 1,1.3 1,.4 1,1.5 1,.3 1,-.3 1,.7 1,1 1,1.3 1,1.4 1,.1 1,-.4 1,.6 1,1.8 1,0 1,.1 1,.8 1,0 1,.6 1,.8 1,2.1 1,-.3 1,0 1,1.8 1,.7 1,.1 1,.5 1,.2 1,.8 1,.7 1,0 1,-.2 1,.6 1,.8 1,1.2 1,.9 1,-.1 1,.3 1,.9 1,.9 1,.3 1,.4 1,.2 1,.2 1,.8 1,.1 1,.4 1,-.3 1,.9 1,.7 1,.1 1,0 1,.7 1,.5 1,0 1,.5 1,.9 1,-.9 1,.1 1,1.3 1,.8 .9,.3 1,.1 1,.1 1,.6 1,.7 1,.6 1,0 1,.8 1,.2 1,.2 1,.2 1,.4 1,.7 1,.3 1,0 1,.5 1,.1 1,.6 1,.2 1,.1 1,-.1 1,.6 1,.1 1,0 1,.2 1,.5 1,.1 1,.7 1,0 1,0 1,-.2 1,.1 1,.2 1,.4 1,1.2 1,.6 1,-.4 1,.5 1,.5 1,-.4 1,.3 1,.6 1,1.2 1,.1 1,.1 1,.4 1,.2 1,-.3 1,.7 1,0 1,-.1 1,.1 1,.5 1,.3 1,.1 1,.1 1,.1 1,-.2 1,.4 1,-.3 1,-.6 1,.6 1,1.1 1,-.5 1,0 1,.8 1,.2 1,.6 1,-.5 1,.6 1,.1 1,0 1,1 1,-1 1,-.3 1,.2 1,.4 1,.8 1,.6 1,.7 1,.1 1,-.1 1,.2 1,-.4 1,0 1,.6 1,.2 1,.8 1,.4 1,-1.3 .9,-.1 1,1.5 1,.3 1,-.7 1,-.1 1,.4 1,.7 1,.1 1,.1 1,.2 1,-.1 1,.3 1,-.2 1,-.5 1,.2 1,.7 1,.5 1,0 1,.5 1,-.6 1,-.3 1,.1 1,1.1 1,-.5 1,.4 1,-.7 1,.8 1,-.3 1,.4 1,.3 1,-1.2 1,-.1 1,.2 1,.8 1,.5 1,.3 1,-.9 1,1.1 1,-.5 1,-.6 1,0 1,0 1,.5 1,1.5 1,0 1,-.1 1,.4 1,-.1 1,.2 1,-1.1 1,.6 1,1.1 1,0 1,-1.4 1,.1 1,1.5 1,.4 1,-1.7 1,.2 1,1.7 1,.2 1,.1 1,.2 1,-.3 1,.4 1,-.4 1,-.2 1,.6 1,.5 1,-.3 1,.7 1,-.4 1,-.1 1,.3 1,.6 1,-.2 1,0 1,.1 1,.4 1,.8 1,-1 1,.1 1,1.3 1,.5 1,0 1,.3 1,-.1 1,-.6 1,-.1 .9,.6 1,0 1,.2 1,0 1,.4 1,-.1 1,.4 1,-.1 1,0 1,0 1,.4 1,-.5 1,0 1,.2 1,.1 1,.6 1,-.9 1,-.1 1,.5 1,.3 1,.2 1,.1 1,0 1,.2 1,-.3 1,.2 1,.8 1,.1 1,-.5 1,.1 1,.1 1,.7 1,-1.1 1,-.2 1,.6 1,.6 1,-.5 1,.7 1,-.6 1,.3 1,.5 1,0 1,.3 1,-.1 1,.1 1,.2 1,.1 1,-.3 1,.4 1,0 1,-.7 1,0 1,.8 1,0 1,-.1 1,.1 1,.4 1,.1 1,0 1,.4 1,-1.1 1,0 1,1.3 1,-.4 1,-.4 1,-.8 1,-.5 1,.7 1,.3 1,-1 1,-.8 1,.8 1,.8 1,0 1,.6 1,.1 1,0 1,-.3 1,1.6 1,.1 1,-.3 1,.1 1,0 1,.1 1,-.7 1,.1 1,.2 1,.2 1,0 1,-.1 .9,.2 1,-.2 1,-.6 1,.6 1,-1.2 1,-.4 1,.2 1,1.6 1,.3 1,-.3 1,-.5 1,.8 1,.2 1,.4 1,0 1,-.1 1,.4 1,-.2 1,.4 1,0 1,-.7 1,.4 1,.3 1,-.5 1,-.6 1,.4 1,.5 1,-.5 1,0 1,.3 1,-.2 1,0 1,.1 1,.1 1,.4 1,0 1,-.2 1,0 1,-.1 1,-.3 1,.7 1,-.5 1,0 1,.9 1,-.1 1,-.5 1,.6 1,-.7 1,0 1,0 1,.7 1,-.5 1,.2 1,.2 1,-.4 1,-.5 1,.5 1,0 1,0 1,-.8 1,-.4 1,1.1 1,-.1 1,-.6 1,-.5 1,1.3 1,.4 1,-.4 1,.5 1,-.3 1,-.2 1,-.1 1,.4 1,0 1,.1 1,-.6 1,-1.2 1,-.2 1,1.8 1,-.9 1,.6 1,.8 1,-1.3 1,-.5 1,.2 1,2.1 1,.1 1,-.3 1,-.9 .9,-.1 1,1 1,-.3 1,-1.2 1,-.5 1,1 1,.7 1,-.2 1,.1 1,0 1,-.4 1,.4 1,0 1,-.1 1,0 1,.5 1,0 1,0 1,-.1 1,-.1 1,-.1 1,-.2 1,.1 1,-.3 1,.1 1,.3 1,-.2 1,.2 1,-.1 1,.1 1,-.4 1,-1.3 1,.5 1,1.4 1,-.3 1,-.1 1,.1 1,-1.1 1,-.3 1,.6 1,.4 1,.1 1,-.2 1,-.7 1,-.4 1,1.2 1,0 1,-.1 1,-.6 1,0 1,1 1,-.7 1,0 1,.3 1,.4 1,-.3 1,-.1 1,-.8 1,-.7 1,1.2 1,-.1 1,-.3 1,.2 1,.3 1,.8 1,-.1 1,-.3 1,.4 1,.2 1,.5 1,-.3 1,-.1 1,.5 1,-.4 1,-.1 1,.2 1,-.1 1,-.4 1,.1 1,.2 1,0 1,-.1 1,-.2 1,.2 1,.4 1,-.5 1,0 1,.2 1,.7 1,-.1 .9,.3 1,1 1,.2 1,0 1,-.2 1,-.2 1,-.3 1,.4 1,-.2 1,-.2 1,-.5 1,.3 1,-.7 1,.3 1,-.1 1,-.7 1,.6 1,-.5 1,-1.2 1,-.2 1,.3 1,1.2 1,0 1,-.1 1,-.2 1,.3 1,-.4 1,.8 1,-.7 1,-.2 1,2.3 1,-1.3 1,1.2 1,-.8 1,-.6 1,-.3 1,.7 1,.5 1,-.4 1,.2 1,-.5 1,.2 1,-1.3 1,.7 1,.3 1,-.5 1,.6 1,-.3 1,-.5 1,.7 1,-.7 1,-.9 1,0 1,1.1 1,.5 1,-.2 1,.4 1,.1 1,-1.1 1,.2 1,1.3 1,.4 1,.1 1,.3 1,-.5 1,.3 1,.2 1,.4 1,-.3 1,.2 1,-.3 1,-.1 1,.5 1,-.2 1,0 1,-.5 1,.3 1,-.5 1,.2 1,-.2 1,-.5 1,-.9 1,0 1,.4 1,.2 1,0 1,-.1 1,.1 1,.4 .9,-.5 1,.3 1,-.8 1,.1 1,.9 1,.4 1,.2 1,.1 1,0 1,-.1 1,-.5 1,.2 1,.4 1,.4 1,-.6 1,.1 1,.3 1,-.2 1,-.2 1,-.4 1,.4 1,.2 1,-.3 1,.3 1,.6 1,-.8 1,.4 1,.2 1,-.4 1,.1 1,.2 1,0 1,.6 1,.2 1,-.1 1,-.2 1,.2 1,-.6 1,.6 1,-1.2 1,-.5 1,0 1,.3 1,.8 1,-.9 1,.3 1,.7 1,.1 1,.2 1,.3 1,.1 1,.3 1,-.1 1,-.1 1,.1 1,-.2 1,.5 1,-.2 1,-.1 1,.1 1,-.1 1,.1 1,-.3 1,0 1,-.9 1,-.4 1,.2 1,.3 1,.2 1,.1 1,-.1 1,0 1,-.7 1,-.3 1,.9 1,-.9 1,-.7 1,.4 1,.7 1,-.6 1,.1 1,.5 1,-.1 1,-.2 1,-1.1 1,.7 1,.7 1,0 1,.2 1,-1.1 .9,0 1,1.1 1,-.1 1,0 1,-.2 1,-.7 1,.1 1,-.1 1,0 1,.4 1,-.1 1,-.6 1,-.4 1,.1 1,.8 1,-.3 1,-1.1 1,.1 1,.2 1,1 1,.8 1,-.2 1,.3 1,0 1,-.1 1,-.2 1,-.3 1,.7 1,-1 1,.5 1,-.5 1,.3 1,-.3 1,.1 1,.3 1,.2 1,-.7 1,.4 1,.7 1,-.7 1,-.3 1,.6 1,.2 1,0 1,-.2 1,.1 1,.4 1,-.1 1,0 1,-.2 1,-.9 1,.2 1,-.4 1,.3 1,-.7 1,.5 1,-1.8 1,-.5 1,.6 1,-.1 1,-.1 1,1.4 1,.1 1,-.5 1,.2 1,.2 1,-.2 1,.9 1,-.2 1,.1 1,.2 1,.2 1,.2 1,-.2 1,-.2 1,.3 1,-.6 1,.1 1,.5 1,-.3 1,.6 1,0 1,-.6 1,0 1,1.1 1,-.2 1,0 1,-.3 1,-.5 1,-.2 .9,.3 1,.3 1,.2 1,0 1,-.8 1,.5 1,.8 1,-.2 1,-.3 1,-.5 1,-.4 1,1.1 1,-.1 1,-.2 1,-.1 1,-.1 1,.4 1,.4 1,-.4 1,.4 1,.5 1,0 1,-.3 1,.3 1,.4 1,-.4 1,.2 1,-.3 1,-.8 1,.8 1,-.8 1,.4 1,-1.1 1,-.4 1,0 1,.1 1,.3 1,.1 1,-.2 1,.4 1,.4 1,-.1 1,-.5 1,-.4 1,.3 0,5.1 -1,-.1 -1,.8 -1,.1 -1,.1 -1,-.6 -1,.2 -1,.9 -1,0 -1,-1 -1,-.1 -1,-.2 -1,.1 -1,.4 -1,.1 -1,0 -1,.5 -1,1.2 -1,.5 -1,-1.7 -1,1.3 -1,-1.1 -1,.9 -1,-.7 -1,-.8 -1,.3 -1,-.7 -1,-.4 -1,-.2 -1,.1 -1,-.2 -1,.1 -1,-.2 -1,0 -1,.1 -1,.4 -1,.3 -1,.2 -1,-.6 -1,.9 -1,-.5 -1,-.5 -1,.3 -1,.2 -1,-.5 -.9,.2 -1,-.2 -1,.1 -1,.3 -1,.5 -1,-.2 -1,-.5 -1,.4 -1,-.1 -1,-.6 -1,1.2 -1,-.2 -1,-1.1 -1,.1 -1,.1 -1,-.1 -1,.4 -1,.4 -1,.6 -1,0 -1,-.7 -1,-.6 -1,.8 -1,-.3 -1,1 -1,.2 -1,-.8 -1,.3 -1,-1.3 -1,-.5 -1,-.4 -1,.7 -1,.5 -1,-.5 -1,.1 -1,-.3 -1,.3 -1,-.3 -1,.7 -1,-.4 -1,.2 -1,.4 -1,-.3 -1,.4 -1,.3 -1,-.7 -1,.4 -1,0 -1,-.6 -1,.6 -1,.3 -1,0 -1,-.5 -1,-.1 -1,-.1 -1,-.4 -1,-.4 -1,.7 -1,-.1 -1,0 -1,.5 -1,-.7 -1,.6 -1,-.1 -1,.5 -1,.4 -1,-.8 -1,.1 -1,.1 -1,-.7 -1,-.3 -1,.4 -1,.3 -1,-.7 -1,.5 -1,.1 -1,.9 -1,-1 -1,0 -1,.5 -1,-.2 -1,.1 -1,-.2 -1,.1 -1,.5 -1,-.6 -1,.2 -1,-.2 -1,.9 -1,.5 -.9,-.5 -1,-.3 -1,-.7 -1,.7 -1,-.7 -1,-.1 -1,.8 -1,-.8 -1,1.2 -1,-.2 -1,-.4 -1,.9 -1,-1.4 -1,0 -1,1 -1,-.7 -1,-.1 -1,-.2 -1,.2 -1,.3 -1,-.1 -1,-.1 -1,.4 -1,.6 -1,-.2 -1,-.1 -1,.9 -1,.3 -1,.2 -1,0 -1,0 -1,-1 -1,.1 -1,.3 -1,.3 -1,.1 -1,-.5 -1,-.3 -1,-.3 -1,0 -1,.1 -1,-.5 -1,-.6 -1,-.1 -1,-.1 -1,.3 -1,.4 -1,0 -1,.2 -1,.7 -1,.2 -1,-.5 -1,-.3 -1,-.1 -1,.9 -1,-.8 -1,0 -1,-.4 -1,-.2 -1,-.1 -1,-.1 -1,.2 -1,.1 -1,.4 -1,.1 -1,-.6 -1,-.4 -1,.1 -1,-.3 -1,.2 -1,.1 -1,.4 -1,-.4 -1,1.2 -1,.3 -1,-.5 -1,-.9 -1,.2 -1,-.1 -1,-.1 -1,.1 -1,-.4 -1,0 -1,0 -1,-.3 -1,-.6 -1,.3 -1,-.2 -1,-.3 -1,-.2 -.9,.7 -1,-.1 -1,-.3 -1,-.2 -1,.8 -1,-.1 -1,-.4 -1,0 -1,0 -1,.4 -1,.8 -1,-.2 -1,-.2 -1,1 -1,-.1 -1,-.4 -1,.2 -1,-.1 -1,1.3 -1,.1 -1,0 -1,-1.3 -1,.3 -1,-.3 -1,-.1 -1,.3 -1,-.1 -1,-.1 -1,-.7 -1,.2 -1,.2 -1,-.3 -1,-.5 -1,-.2 -1,.5 -1,-.5 -1,-.1 -1,-.3 -1,1.2 -1,-.7 -1,.1 -1,-.4 -1,.2 -1,.6 -1,1.2 -1,.1 -1,-.1 -1,-1.7 -1,.7 -1,-.2 -1,1.4 -1,-.8 -1,0 -1,-.1 -1,0 -1,.6 -1,-.8 -1,.8 -1,-.2 -1,-.8 -1,-.2 -1,.1 -1,-.7 -1,-.6 -1,.4 -1,1.1 -1,-.4 -1,-.6 -1,-.4 -1,.9 -1,.3 -1,-.8 -1,1.3 -1,.6 -1,-1 -1,-.7 -1,.2 -1,.6 -1,0 -1,.6 -1,-1 -1,.9 -1,-.3 -1,-.6 -1,0 -1,0 -1,.2 -1,-.2 -1,-.3 -.9,.1 -1,0 -1,-.7 -1,-.2 -1,-.2 -1,.2 -1,-.7 -1,.1 -1,0 -1,-.1 -1,-.3 -1,.4 -1,.3 -1,-.3 -1,.2 -1,.1 -1,-.2 -1,.7 -1,-.2 -1,.1 -1,.9 -1,-.3 -1,-.1 -1,-.1 -1,-.2 -1,.2 -1,-1.1 -1,1.4 -1,-1.3 -1,1.3 -1,-1.7 -1,.5 -1,-.5 -1,0 -1,.3 -1,.1 -1,-.4 -1,.9 -1,1.1 -1,-.1 -1,-.2 -1,-.3 -1,-.7 -1,-.5 -1,.2 -1,.9 -1,.3 -1,-1 -1,.2 -1,.3 -1,.2 -1,-.9 -1,1.6 -1,-.7 -1,-.9 -1,.3 -1,-.3 -1,.4 -1,-.4 -1,.1 -1,-.5 -1,.7 -1,.1 -1,-.6 -1,.4 -1,-.7 -1,-.1 -1,.6 -1,0 -1,-.1 -1,.7 -1,.2 -1,-.7 -1,-.4 -1,1 -1,.6 -1,-.6 -1,.5 -1,-.2 -1,-.7 -1,.4 -1,.1 -1,-.9 -1,.7 -1,.3 -1,.1 -1,-.4 -1,-.5 -1,.1 -1,.2 -.9,.3 -1,.7 -1,.9 -1,0 -1,-.1 -1,-1.7 -1,-.2 -1,-.5 -1,.7 -1,0 -1,.2 -1,-.7 -1,0 -1,1.1 -1,-.4 -1,-.3 -1,1.1 -1,-1.1 -1,-.7 -1,.6 -1,-.2 -1,-.6 -1,-.3 -1,.4 -1,-.2 -1,1.2 -1,-.1 -1,-.2 -1,-.4 -1,-.1 -1,-.6 -1,-.6 -1,.1 -1,.2 -1,.5 -1,.4 -1,-.6 -1,.4 -1,0 -1,-.2 -1,-.3 -1,.2 -1,0 -1,.2 -1,.6 -1,-.9 -1,.5 -1,.6 -1,-.1 -1,-.7 -1,.3 -1,-.1 -1,.3 -1,.2 -1,-.1 -1,-.6 -1,-.3 -1,0 -1,-.2 -1,-.2 -1,.1 -1,-.4 -1,.2 -1,0 -1,.6 -1,-.3 -1,.2 -1,-.3 -1,1.5 -1,0 -1,-1 -1,-.6 -1,0 -1,.5 -1,-.1 -1,-.9 -1,.2 -1,-.4 -1,.3 -1,.3 -1,.2 -1,.2 -1,-.3 -1,-.9 -1,-.2 -1,.3 -1,.6 -1,-.2 -1,-1.1 -.9,.4 -1,.8 -1,-.2 -1,-1 -1,.9 -1,-.4 -1,-.2 -1,.4 -1,-.5 -1,.7 -1,-.5 -1,.4 -1,.1 -1,-1 -1,.3 -1,-.6 -1,-.2 -1,-.4 -1,.2 -1,.6 -1,-.4 -1,-.4 -1,1.3 -1,0 -1,-.3 -1,.2 -1,-.9 -1,.3 -1,0 -1,-.1 -1,-.2 -1,-.4 -1,0 -1,0 -1,.3 -1,-.3 -1,-.7 -1,-.1 -1,0 -1,.3 -1,.4 -1,-.3 -1,-.3 -1,-.1 -1,-.2 -1,0 -1,-.1 -1,.3 -1,.8 -1,-.1 -1,-.9 -1,-.2 -1,.3 -1,-.7 -1,.7 -1,-.6 -1,.4 -1,-.1 -1,.8 -1,-.2 -1,-.3 -1,-.6 -1,.2 -1,.3 -1,0 -1,-.9 -1,-.8 -1,-.1 -1,-.1 -1,.2 -1,-.1 -1,0 -1,-.2 -1,-.3 -1,.3 -1,.2 -1,-.5 -1,.5 -1,.3 -1,-1.1 -1,.4 -1,.1 -1,-.3 -1,-.4 -1,-.1 -1,0 -1,-.2 -1,-.4 -1,-.1 -1,.4 -.9,0 -1,-.4 -1,0 -1,.1 -1,-.3 -1,.2 -1,1.1 -1,-.2 -1,-.2 -1,-.3 -1,-1.3 -1,-.6 -1,-.2 -1,.8 -1,.3 -1,-.8 -1,-.6 -1,.2 -1,-.5 -1,-.2 -1,-.1 -1,.6 -1,-.2 -1,-.1 -1,-.4 -1,.7 -1,-.1 -1,-.7 -1,1.1 -1,-.9 -1,-.5 -1,.6 -1,.4 -1,.4 -1,-.8 -1,.1 -1,0 -1,-1.7 -1,.7 -1,0 -1,-.6 -1,-.7 -1,.1 -1,-.2 -1,.3 -1,.3 -1,-1.2 -1,1.5 -1,-.3 -1,-1.7 -1,.9 -1,-1.3 -1,.8 -1,-.8 -1,.2 -1,0 -1,-.3 -1,.2 -1,1.1 -1,-.8 -1,.9 -1,-1.6 -1,1.3 -1,-.7 -1,-.4 -1,.5 -1,-.1 -1,-.6 -1,-.9 -1,.1 -1,.2 -1,-.9 -1,.4 -1,1.1 -1,.2 -1,-.3 -1,-1.3 -1,-.1 -1,-.8 -1,1.1 -1,-.7 -1,-.7 -1,.4 -1,.4 -1,.1 -1,-1.9 -1,1.7 -1,-.2 -1,-1.4 -.9,.2 -1,.6 -1,-.8 -1,-1.1 -1,-.1 -1,-.3 -1,.1 -1,.2 -1,-.1 -1,0 -1,-.4 -1,-.6 -1,-.4 -1,-.3 -1,.8 -1,.7 -1,-.2 -1,-1.9 -1,1 -1,-.9 -1,0 -1,.3 -1,-.5 -1,-1.4 -1,1 -1,-.4 -1,-1.1 -1,-.5 -1,-.1 -1,-.3 -1,-.1 -1,-.1 -1,-.1 -1,-.1 -1,.1 -1,-.5 -1,.8 -1,-.5 -1,-.4 -1,0 -1,-.3 -1,.8 -1,-.3 -1,-1.3 -1,-.2 -1,0 -1,.2 -1,-.8 -1,-.5 -1,-.4 -1,-.3 -1,-.5 -1,.2 -1,-.4 -1,-.8 -1,-.3 -1,-.3 -1,.2 -1,-.4 -1,-.4 -1,0 -1,0 -1,-.5 -1,-.2 -1,.1 -1,-.8 -1,-.1 -1,-.4 -1,-.7 -1,-.2 -1,.2 -1,-.3 -1,-.4 -1,-.1 -1,-.6 -1,.1 -1,-.1 -1,-.8 -1,-.6 -1,-.1 -1,-.2 -1,-.7 -1,-.2 -1,-.1 -1,-.1 -1,-.9 -1,.3 -1,-.8 -1,0 -1,-.9 -.9,-.4 -1,-.3 -1,-.3 -1,.6 -1,.9 -1,-.2 -1,-.6 -1,-1.4 -1,-.7 -1,.9 -1,-.6 -1,-1.5 -1,-.5 -1,-.7 -1,-.8 -1,-.2 -1,.2 -1,-.2 -1,-.7 -1,-1 -1,-.5 -1,-.2 -1,-.6 -1,-.6 -1,-.6 -1,-.3 -1,-.5 -1,-.6 -1,.5 -1,0 -1,-.7 -1,-1.8 -1,.5 -1,-.4 -1,-1.3 -1,-.3 -1,0 -1,-.1 -1,-1.2 -1,-1 -1,.1 -1,.1 -1,-1.7 -1,-.4 -1,-1 -1,-.7 -1,-.1 -1,.3 -1,-.2 -1,-1.8 -1,.2 -1,-.5 -1,-1.6 -1,.6 -1,-1.4 -1,-1.8 -1,-.2 -1,-.7 -1,-1.4 -1,-.5 -1,-1 -1,-.4 -1,-1.1 -1,-.4 -1,-1.4 -1,-.5 -1,-1.2 -1,-.7 -1,-.3 -1,-1.1 -1,-1.4 -1,-.5 -1,-1.1 -1,-.3 -1,-.8 -1,-1.7 -1,0 -1,-1.6 -1,-1.4 -1,-.4 -1,-1.3 -1,-1.8 -1,-1.1 -1,-.4 -1,-1.2 -1,-2.2 -1,-.9 -1,-1.4 -1,-2.3 -1,-1.3 -.9,-1.5 -1,-1.9 -1,-1.4 -1,-1.6 -1,-2.1 -1,-2 -1,-1.8 -1,-1.7 -1,-1.7 -1,-1.4 -1,-1.8 -1,-2.1 -1,-2 -1,-1.8 -1,-2.2 -1,-2.2 -1,-2.4 -1,-2.4 -1,-2.6 -1,-2.6 -1,-2.8 -1,-2.9 -1,-3 -1,-3.1 -1,-3.2 -1,-3.3 -1,-3.4 -1,-3.4 -1,-3.6 -1,-4 -1,-4.1z" fill="#000"/>
<g>
<use href="#mx" x="1438" y="1160.3"/>
<use href="#mx" x="1485.73" y="1475.3"/>
<use href="#mx" x="1533.47" y="1508"/>
<use href="#mx" x="1581.2" y="1519.8"/>
<use href="#mx" x="1628.93" y="1526.1"/>
<use href="#mx" x="1676.67" y="1532.1"/>
<use href="#mx" x="1724.4" y="1531.7"/>
<use href="#mx" x="1772.13" y="1532.4"/>
<use href="#mx" x="1819.87" y="1534"/>
<use href="#mx" x="1867.6" y="1537"/>
<use href="#mx" x="1915.33" y="1532.8"/>
<use href="#mx" x="1963.07" y="1532.1"/>
<use href="#mx" x="2010.8" y="1527.1"/>
<use href="#mx" x="2058.53" y="1521.9"/>
<use href="#mx" x="2106.27" y="1512.5"/>
<use href="#mx" x="2154" y="1499"/>
<use href="#mx" x="2201.73" y="1475.3"/>
<use href="#mx" x="2249.47" y="1446.8"/>
<use href="#mx" x="2297.2" y="1409.9"/>
<use href="#mt" x="1438" y="1186.6"/>
<use href="#mt" x="1527.5" y="1534"/>
<use href="#mt" x="1617" y="1567.4"/>
<use href="#mt" x="1706.5" y="1581.3"/>
<use href="#mt" x="1796" y="1590.4"/>
<use href="#mt" x="1885.5" y="1594.3"/>
<use href="#mt" x="1975" y="1593.9"/>
<use href="#mt" x="2064.5" y="1596.4"/>
<use href="#mt" x="2154" y="1598.4"/>
<use href="#mt" x="2243.5" y="1596"/>
<use href="#mt" x="2333" y="1598"/>
</g>
</g>
</svg>
</body>
</html>
